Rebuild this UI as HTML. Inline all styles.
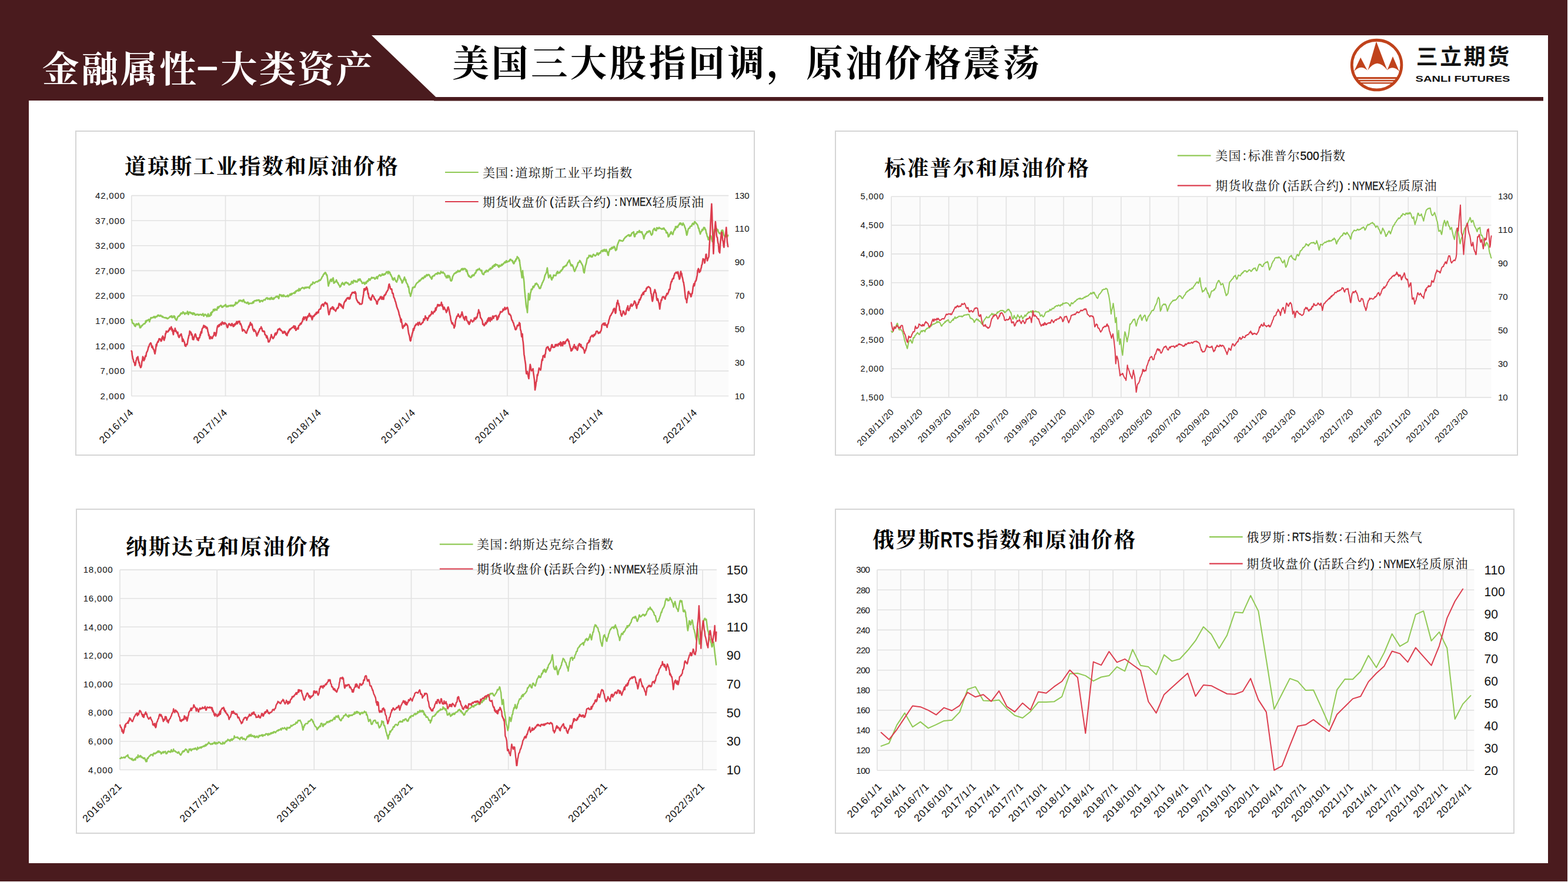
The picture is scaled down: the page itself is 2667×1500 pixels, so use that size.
<!DOCTYPE html>
<html lang="zh"><head><meta charset="utf-8"><title>金融属性-大类资产</title>
<style>
html,body{margin:0;padding:0}
body{width:2667px;height:1500px;overflow:hidden;background:#fff;font-family:"Liberation Sans",sans-serif;position:relative}
.bg{position:absolute;left:0;top:0;width:2666px;height:1498.7px;background:#4a1b1e}
.content{position:absolute;left:49px;top:171.4px;width:2584px;height:1296.6px;background:#fff}
.box{position:absolute;box-sizing:border-box;border:2px solid #d5d5d5;background:#fff}
.t{position:absolute;color:transparent;white-space:nowrap;margin:0;font-weight:normal;line-height:1}
svg.ov{position:absolute;left:0;top:0}
</style></head><body>
<div class="bg"></div>
<div class="content"></div>
<div class="box" style="left:128.3px;top:221.7px;width:1156.2px;height:553.4px"></div>
<div class="box" style="left:1420px;top:221.7px;width:1161.5px;height:553.4px"></div>
<div class="box" style="left:128.8px;top:865.1px;width:1155.7px;height:553.1px"></div>
<div class="box" style="left:1420px;top:865.1px;width:1156px;height:553.3px"></div>
<svg class="ov" width="2667" height="1500" viewBox="0 0 2667 1500">
<path d="M632 60H2633V171.5H2625V165H741.3Z" fill="#fff"/><rect x="738" y="171" width="1887" height="0.55" fill="#4a1b1e"/>
<text y="140" x="71.75 138.35 204.95 271.55" font-size="62.5" font-weight="bold" font-family="Liberation Serif, Noto Serif CJK SC, serif" fill="#fff">金融属性</text>
<rect x="336.5" y="113.5" width="32.5" height="6" rx="1.5" fill="#fff"/>
<text y="140" x="375.25 440.65 506.05 571.45" font-size="62.5" font-weight="bold" font-family="Liberation Serif, Noto Serif CJK SC, serif" fill="#fff">大类资产</text>
<text y="130" x="769.15 836.05 902.95 969.85 1036.75 1103.65 1170.55 1237.45 1304.35 1371.25 1438.15 1505.05 1571.95 1638.85 1705.75" font-size="62.5" font-weight="bold" font-family="Liberation Serif, Noto Serif CJK SC, serif" fill="#000">美国三大股指回调，原油价格震荡</text>
<circle cx="2341.60" cy="110.55" r="42.3" fill="none" stroke="#c0421b" stroke-width="4.8"/>
<path fill="#c0421b" d="M2326.6 119.5 L2340.9 70.4 L2359.6 119.5 Q2351.4 108.3 2342.6 107.8 Q2334.2 108.3 2326.6 119.5Z"/>
<path fill="#c0421b" d="M2303.0 121.6 L2314.2 97.8 L2325.7 119.8 Q2320.4 114.5 2314.8 114.7 Q2308.6 115.2 2303.0 121.6Z"/>
<path fill="#c0421b" d="M2359.4 119.5 L2369.0 95.9 L2380.3 121.9 Q2374.9 115.6 2368.7 115.3 Q2363.8 115.2 2359.4 119.5Z"/>
<clipPath id="lc"><circle cx="2341.60" cy="110.55" r="42"/></clipPath>
<g clip-path="url(#lc)" fill="#c0421b"><rect x="2296" y="131.1" width="92" height="3.2"/><rect x="2296" y="135.9" width="92" height="2.5"/><rect x="2296" y="140.1" width="92" height="2.3"/></g>
<text y="109.6" x="2408.7 2449.2 2489.7 2530.2" font-size="37" font-weight="bold" font-family="Liberation Sans, Noto Sans CJK SC, sans-serif" fill="#111">三立期货</text>
<text x="2407.5" y="139.2" font-size="14.6" font-weight="bold" font-family="Liberation Sans, sans-serif" fill="#111" textLength="161" lengthAdjust="spacingAndGlyphs">SANLI FUTURES</text>
<rect x="223.7" y="332.6" width="1015.6" height="340.9" fill="#fbfbfb"/><path d="M223.7 332.6H1239.3M223.7 375.2H1239.3M223.7 417.8H1239.3M223.7 460.4H1239.3M223.7 503.0H1239.3M223.7 545.7H1239.3M223.7 588.3H1239.3M223.7 630.9H1239.3M223.7 673.5H1239.3M223.7 332.6V673.5M383.5 332.6V673.5M543.3 332.6V673.5M703.1 332.6V673.5M862.9 332.6V673.5M1022.7 332.6V673.5M1182.5 332.6V673.5" stroke="#e2e2e2" stroke-width="1.6" fill="none"/><g font-family="Liberation Sans, sans-serif" fill="#111"><text x="212.0" y="337.9" font-size="15.0" text-anchor="end" textLength="50.0" lengthAdjust="spacing">42,000</text><text x="212.0" y="380.5" font-size="15.0" text-anchor="end" textLength="50.0" lengthAdjust="spacing">37,000</text><text x="212.0" y="423.1" font-size="15.0" text-anchor="end" textLength="50.0" lengthAdjust="spacing">32,000</text><text x="212.0" y="465.7" font-size="15.0" text-anchor="end" textLength="50.0" lengthAdjust="spacing">27,000</text><text x="212.0" y="508.3" font-size="15.0" text-anchor="end" textLength="50.0" lengthAdjust="spacing">22,000</text><text x="212.0" y="550.9" font-size="15.0" text-anchor="end" textLength="50.0" lengthAdjust="spacing">17,000</text><text x="212.0" y="593.5" font-size="15.0" text-anchor="end" textLength="50.0" lengthAdjust="spacing">12,000</text><text x="212.0" y="636.1" font-size="15.0" text-anchor="end" textLength="41.6" lengthAdjust="spacing">7,000</text><text x="212.0" y="678.7" font-size="15.0" text-anchor="end" textLength="41.6" lengthAdjust="spacing">2,000</text><text x="1249.7" y="337.6" font-size="15.0" textLength="25.0" lengthAdjust="spacing">130</text><text x="1249.7" y="394.4" font-size="15.0" textLength="25.0" lengthAdjust="spacing">110</text><text x="1249.7" y="451.2" font-size="15.0" textLength="16.7" lengthAdjust="spacing">90</text><text x="1249.7" y="508.0" font-size="15.0" textLength="16.7" lengthAdjust="spacing">70</text><text x="1249.7" y="564.8" font-size="15.0" textLength="16.7" lengthAdjust="spacing">50</text><text x="1249.7" y="621.7" font-size="15.0" textLength="16.7" lengthAdjust="spacing">30</text><text x="1249.7" y="678.5" font-size="15.0" textLength="16.7" lengthAdjust="spacing">10</text><text transform="translate(227.7 703.0) rotate(-45)" font-size="17.0" text-anchor="end" textLength="73.6">2016/1/4</text><text transform="translate(387.5 703.0) rotate(-45)" font-size="17.0" text-anchor="end" textLength="73.6">2017/1/4</text><text transform="translate(547.3 703.0) rotate(-45)" font-size="17.0" text-anchor="end" textLength="73.6">2018/1/4</text><text transform="translate(707.1 703.0) rotate(-45)" font-size="17.0" text-anchor="end" textLength="73.6">2019/1/4</text><text transform="translate(866.9 703.0) rotate(-45)" font-size="17.0" text-anchor="end" textLength="73.6">2020/1/4</text><text transform="translate(1026.7 703.0) rotate(-45)" font-size="17.0" text-anchor="end" textLength="73.6">2021/1/4</text><text transform="translate(1186.5 703.0) rotate(-45)" font-size="17.0" text-anchor="end" textLength="73.6">2022/1/4</text></g><path d="M223.6 543.8L224.2 543.9L224.8 547L225.4 549.4L226 549.8L226.8 550.5L227.5 550L228.2 552.3L228.9 554.1L229.7 554.6L230.4 555.1L231.1 551.9L231.8 550.6L232.6 552.1L233.3 551L233.9 551.3L234.5 552.5L235.1 551.5L235.7 549.8L236.4 551.4L237.1 552.4L237.9 557.4L238.6 555.8L239.3 557.1L240 555.6L240.7 553.8L241.4 554.3L242.1 553.7L242.8 552.4L243.5 551.8L244.2 551L244.9 550.6L245.6 550.5L246.3 550.7L247.1 549.2L247.8 545.8L248.5 547.9L249.2 545.2L250 545.7L250.7 544.5L251.4 545L252.1 544.3L252.9 543.2L253.6 543.6L254.3 547.2L255 543.4L255.7 543.3L256.5 540.3L257.2 540.6L257.9 541L258.6 540.1L259.4 540L260.2 540.3L260.9 539.9L261.7 538.3L262.4 539.9L263.2 538.4L263.9 540.5L264.7 538.9L265.4 538.4L266.1 538.8L266.8 537.8L267.4 538.4L268.1 536.2L268.8 537L269.5 535.8L270.3 536.1L271 537.7L271.8 537.6L272.5 537.2L273.3 536.1L274 537.9L274.8 538L275.6 537.7L276.3 539.4L277 538.4L277.7 539.5L278.5 540L279.2 540.1L279.9 540.3L280.6 540.5L281.4 540.1L282.1 540.2L282.8 541.4L283.5 540.5L284.3 541.1L285 542.1L285.7 541.5L286.4 541.2L287.1 540.5L287.9 539.9L288.6 538.8L289.3 538.7L290 537.7L290.8 539.2L291.5 537.9L292.2 537.1L292.9 540.2L293.7 538.8L294.4 539.4L295.1 539.3L295.8 537.2L296.6 539.8L297.3 538.2L298 542.2L298.7 542.2L299.5 543.9L300.2 544.5L301 543.1L301.8 540L302.5 539.1L303.3 537.7L304 537.2L304.7 537.6L305.4 536.7L306.1 535L306.8 535.5L307.5 532.8L308.2 532.4L308.9 532.9L309.7 533.7L310.5 532.5L311.2 530.4L312 531L312.8 532.7L313.5 533.4L314.3 534.6L315.1 532.2L315.8 532.8L316.6 532.9L317.3 533.2L318.1 532.5L318.8 529.5L319.5 532.5L320.2 535L321 533.6L321.7 530.8L322.4 530.8L323.1 531.2L323.9 531L324.6 533L325.3 532.6L326 532.1L326.8 534L327.5 532.5L328.2 534.8L328.9 532.3L329.7 532.4L330.4 533.6L331.1 533.4L331.7 535.7L332.3 535.8L332.9 535.7L333.5 535.8L334.3 534.5L335 534.5L335.7 534.5L336.4 534.5L337.1 535.9L337.9 534.9L338.6 536L339.3 535.3L340 534.7L340.8 534.8L341.5 534.9L342.3 535.4L343 536.1L343.7 534.8L344.5 534.8L345.2 533.4L346 537.1L346.7 537.6L347.5 535.7L348.2 535.1L348.9 534.5L349.7 535.7L350.4 535.8L351.2 536.2L351.9 538.5L352.6 537.3L353.3 535.8L354.1 533.6L354.8 538.2L355.5 537.7L356.2 536.3L357 537.7L357.7 535.8L358.5 532L359.3 535.7L360.1 530.5L360.8 531.4L361.5 530.7L362.3 529.4L363 526.3L363.7 528L364.4 526.2L365.2 528.3L365.9 525.5L366.6 526.3L367.3 526.9L368.1 526.9L368.9 527.5L369.6 523.8L370.4 521.9L371.1 524.1L371.9 523.7L372.6 521.4L373.4 521.3L374.1 520.6L374.9 520.2L375.6 519.4L376.4 519.8L377.2 522.3L377.9 521.9L378.7 522.7L379.4 520.8L380.1 521L380.9 520.7L381.6 519.5L382.3 520.2L383 518.8L383.8 517.9L384.5 520.8L385.2 521.9L385.9 521.2L386.7 520.3L387.4 521.7L388.2 521.1L388.9 519.8L389.7 520.5L390.4 520.2L391.2 519.4L392 519.2L392.7 520.8L393.5 519L394.2 519.8L395 520L395.7 519L396.5 521L397.2 519.5L398 519.2L398.7 518.4L399.5 518.8L400.2 516.7L400.9 514.2L401.6 516.4L402.4 514.6L403.1 516.3L403.8 514.9L404.5 514.7L405.3 513.7L406 512.4L406.7 510.6L407.4 512.4L408.1 511.1L408.8 510.6L409.4 510.8L410.1 511.9L410.8 511.2L411.5 512.3L412.3 513.1L413 510.6L413.7 511.5L414.4 509.7L415.2 512.6L415.9 514.3L416.6 513.4L417.3 514.5L418.1 514.8L418.8 515L419.6 515.9L420.4 514.4L421.2 514L421.9 514L422.7 517.3L423.5 517.2L424.3 515.7L425.1 515.9L425.8 515.8L426.6 516L427.4 515.7L428.2 515.7L428.9 516L429.7 513.8L430.4 513.1L431.1 515.2L431.8 513.3L432.6 511.6L433.3 511.7L434 511.3L434.7 511.4L435.5 511.7L436.2 510.4L436.9 511.2L437.6 511.3L438.4 510.2L439.1 510.1L439.8 510.7L440.4 510.1L441 510.4L441.6 513.5L442.2 513.6L442.9 511.6L443.7 512.1L444.4 511.6L445.1 511.1L445.8 511.7L446.6 512.8L447.3 511.4L448 510.6L448.7 509.9L449.5 510L450.2 509.5L450.9 510.3L451.6 509L452.4 507.5L453.1 506.8L453.8 506.7L454.5 506.3L455.3 508.8L456 508.1L456.7 507.5L457.4 507.5L458.2 509.1L458.9 507.3L459.6 508.7L460.3 509.1L461.1 506.2L461.8 505.9L462.5 506.8L463.2 508.7L464 508.3L464.7 509L465.4 506.7L466.1 508.3L466.9 506.7L467.6 506.1L468.3 505.6L469 505.5L469.8 503.8L470.5 504.4L471.2 505.1L472 503.5L472.7 504.5L473.5 506.6L474.2 507.7L475 503.5L475.7 500.9L476.5 501.8L477.2 502L478 501.5L478.8 504.1L479.6 503.7L480.3 502.2L481.1 504.1L481.9 504.2L482.6 501.7L483.4 502.8L484.2 503.6L484.9 504.1L485.7 504.4L486.5 504.3L487.2 503.6L488 503.9L488.7 502.8L489.5 502.1L490.2 504.6L491 503.4L491.7 502.7L492.5 502.7L493.2 500.2L494 500.8L494.8 501.8L495.5 499L496.3 500.9L497 499.4L497.8 499.1L498.5 498.9L499.2 498.2L500 498L500.7 498.9L501.4 496.7L502.1 498.4L502.9 495.5L503.6 494.6L504.3 495.5L505 494.7L505.7 493.6L506.5 493.4L507.2 494.4L507.9 494.8L508.6 490.7L509.4 492.5L510.1 494.1L510.8 493L511.5 491.1L512.3 490.6L513 490.1L513.7 490L514.4 488.8L515.2 489.5L515.9 489.6L516.6 489.6L517.3 491.1L518.1 489.7L518.8 488.5L519.5 489.4L520.3 490L521 488.4L521.8 488.6L522.5 489.1L523.3 488.9L524 488.2L524.8 489L525.6 489.4L526.3 490.3L527 486.8L527.7 485.6L528.5 485.7L529.2 483.4L529.9 483.7L530.6 483.6L531.4 483.5L532.1 479.7L532.8 480L533.5 481.1L534.3 481.4L535 481.9L535.7 480.7L536.4 479.8L537.2 479.4L537.9 479.3L538.7 478.8L539.4 479.1L540.2 479.4L541 478.1L541.7 477.4L542.5 477.8L543.2 476L544 476.9L544.7 476.8L545.5 475.6L546.2 474.4L547 473.2L547.7 471.2L548.5 470.1L549.2 469.7L549.9 467.1L550.6 466.7L551.3 465.2L552 465.9L552.6 463.9L553.3 463.3L554.1 464.2L554.8 466L555.5 468.2L556.2 467.7L556.8 471.8L557.4 475.7L558 482.5L558.6 486.5L559.4 482.8L560.2 481.7L561 478.2L561.8 476.1L562.4 476.5L563 474.9L563.6 478.3L564.2 478.6L564.8 476.6L565.4 474.3L566 476.1L566.6 472.5L567.2 475.8L567.8 481.6L568.4 480.1L569 481L569.8 479.6L570.6 478.7L571.3 479.1L572.1 476.1L572.8 477.9L573.5 479.7L574.3 481.3L575 481.1L575.7 483.4L576.3 484.6L576.9 485.1L577.5 485.5L578.1 488.2L578.8 487.6L579.6 486.8L580.3 484.9L581 482.5L581.7 482.2L582.5 480.5L583.2 483.2L583.9 483.5L584.6 482.4L585.4 484.6L586.1 483.2L586.8 480.6L587.5 481.3L588.3 480.8L589 479.8L589.7 480.8L590.4 481.5L591.1 482.1L591.7 481.1L592.4 482.5L593.1 483.4L593.8 484.6L594.5 483.5L595.3 483.4L596 483.3L596.7 483.5L597.4 481L598.1 478.6L598.8 479.9L599.5 479.1L600.2 481.8L600.9 480L601.6 476.7L602.3 477.3L603 477.8L603.7 477.5L604.3 479.5L605 477.6L605.7 478.7L606.4 479.3L607.1 479.8L607.8 478.9L608.5 477.5L609.2 475L609.9 476.8L610.6 477.1L611.2 475.3L611.9 474.4L612.6 474.6L613.3 476.5L614 478.3L614.7 478.5L615.4 479.6L616.1 481.9L616.8 481.7L617.5 481.2L618.2 481.4L618.9 480.1L619.7 481.9L620.4 483.4L621.1 481.7L621.8 480.3L622.5 479.6L623.1 482L623.8 479.2L624.5 478.1L625.2 477.3L625.9 478.9L626.6 477.1L627.3 474.2L628 476.1L628.7 474.6L629.4 476.5L630 474.9L630.7 473.8L631.4 473.4L632.1 471.6L632.8 473.2L633.5 472L634.2 472.6L634.9 472.5L635.6 472.3L636.3 472.1L637.1 474.3L637.8 474.6L638.5 473.7L639.2 473.4L639.9 471.7L640.6 470.6L641.3 471.7L642 473.9L642.6 470.6L643.3 470.1L644 469.2L644.7 468.6L645.4 467.6L646.1 467.4L646.8 468.2L647.5 469.6L648.2 468.2L648.9 468.3L649.5 467.5L650.2 465.8L650.9 467.7L651.6 467.8L652.3 466.7L653 467.7L653.7 465.8L654.4 465.8L655.1 466.6L655.8 465.7L656.4 464.3L657.1 462.9L657.8 462.4L658.5 462.7L659.2 462.6L659.9 465.4L660.6 461.7L661.3 462.1L662 463.8L662.7 462.9L663.3 464L663.9 467.1L664.5 466.7L665.1 467.7L665.7 469.7L666.3 470.9L666.9 471.5L667.5 474.9L668.2 473.2L668.9 476.5L669.7 474.8L670.4 473.8L671.1 472.5L671.8 475.1L672.6 476.4L673.3 478.4L674 478.3L674.7 479.8L675.5 477.2L676.2 476.3L676.9 472.6L677.6 469.1L678.4 468.2L679.1 469.3L679.8 470.5L680.5 473.6L681.3 473.9L682 476.1L682.6 476L683.2 477.8L683.8 481.3L684.4 481L685.1 479.3L685.8 477.4L686.6 475.2L687.3 473.5L688 471.3L688.7 474.2L689.5 477.2L690.2 475.4L690.9 480.1L691.6 481L692.4 482.7L693.2 483.6L694 488.1L694.8 487L695.5 490.7L696.1 496.3L696.8 498.9L697.5 499.8L698.2 503.9L698.9 501.3L699.7 498.9L700.5 494.9L701.3 491.8L702 488.8L702.8 489.4L703.5 489.2L704.2 487.8L704.9 488.2L705.6 488.5L706.3 486.2L707 484.6L707.7 483.6L708.4 482L709.1 481.2L709.8 481L710.4 480.4L711.1 480.3L711.8 478.8L712.5 478.7L713.2 476.7L713.9 478.1L714.6 477.3L715.3 476.1L716 476L716.7 474.1L717.3 473.7L718 474L718.7 472.2L719.4 472.5L720.1 473.9L720.8 471.9L721.5 471L722.2 469.5L722.9 471.6L723.6 470.8L724.3 468.9L724.9 469.3L725.6 467.1L726.3 467.4L727 468.8L727.7 467.5L728.4 466.8L729.1 467.7L729.8 467.2L730.5 468.3L731.3 470.3L732 470.9L732.7 472.5L733.4 471.9L734.1 474.7L734.8 473.9L735.5 469.7L736.2 470.2L736.8 469.5L737.5 468.9L738.2 468.3L738.9 469L739.6 467.2L740.3 466.4L741 465.8L741.7 465.6L742.4 465.3L743.1 466.3L743.7 466.3L744.4 463.6L745.1 464.1L745.8 463.8L746.5 465.4L747.2 464.8L747.9 464.9L748.6 465.5L749.3 464.3L750 461.5L750.6 463.8L751.3 463.7L752 463.3L752.8 464.3L753.5 462.6L754.2 464.3L754.9 464.2L755.7 465.3L756.4 465.9L757.1 468.4L757.8 470.1L758.6 470.3L759.3 472.5L760 470.6L760.7 468.5L761.3 470L762 472.3L762.7 470.9L763.4 468.5L764.1 470.1L764.8 470.3L765.6 473.4L766.3 476.9L767 477.8L767.7 477.8L768.5 476.5L769.2 474.2L769.9 470.5L770.6 469.1L771.4 467.7L772 466.5L772.7 465.2L773.4 465.3L774.1 464.1L774.8 464.2L775.5 464.4L776.2 462.4L776.9 463.2L777.6 462.9L778.3 461.9L778.9 460L779.6 461.4L780.3 462.1L781 461.6L781.7 460.3L782.4 461.7L783.1 459.7L783.8 459.7L784.5 458.4L785.2 457L785.8 457.5L786.6 459L787.4 456.7L788.1 458.5L788.9 457L789.6 457.8L790.4 456.7L791.1 457.1L791.9 457.5L792.5 459.1L793.1 461.7L793.7 459.2L794.3 460.4L794.9 462.5L795.5 465.9L796.1 466.3L796.7 468.9L797.4 470L798.2 469L798.9 470.9L799.6 471.4L800.3 471.3L801.1 472.1L801.8 471.1L802.5 468.5L803.2 469.8L804 468.9L804.7 467.2L805.4 468.1L806.1 468.8L806.9 466.9L807.6 465.3L808.3 463.9L809 464.5L809.7 462.7L810.3 459.6L811 459.4L811.7 460.2L812.4 458L813.1 458.2L813.8 458.5L814.5 458.1L815.2 456.5L815.9 457.9L816.6 459.2L817.2 459.2L817.9 460.5L818.6 461.2L819.3 459.6L820 464.4L820.7 465.4L821.4 466.5L822.1 466.5L822.8 467L823.5 464.4L824.3 462.8L825 462.8L825.7 461.6L826.4 462.9L827.1 459.8L827.8 460.5L828.5 459.9L829.2 461.2L829.8 461.9L830.5 460.4L831.2 459.9L831.9 458L832.6 458.6L833.3 457.9L834 456L834.7 457.8L835.4 456.8L836.1 455.8L836.7 456.1L837.4 453.2L838.1 455.2L838.8 451.9L839.5 453.4L840.2 452L840.9 450.3L841.6 452.7L842.3 451L843 449L843.6 450.1L844.3 450.7L845 450.3L845.7 450.2L846.5 451.1L847.2 452.9L847.9 453.4L848.6 454.4L849.3 451.1L850 451.8L850.7 452.6L851.4 452.1L852.1 452.2L852.8 449.8L853.5 449.6L854.2 451.2L854.9 450L855.5 448.7L856.2 449L856.9 448.3L857.6 446.8L858.3 445.9L859 445.4L859.7 446.9L860.4 446.5L861.1 443.4L861.8 443.9L862.4 445.7L863.1 445.5L863.8 445L864.5 444.6L865.2 444.5L865.9 443.3L866.6 444.2L867.3 441.5L868 441.1L868.7 441L869.4 442.2L870.1 443.3L870.9 443.6L871.6 443L872.2 446.2L872.8 445.5L873.4 448.3L874 448.4L874.7 447.5L875.5 444.1L876.2 443.3L876.9 444.2L877.6 440.6L878.4 441.4L879.1 439.6L879.8 436.4L880.5 437.9L881.3 438.7L881.9 438.6L882.5 440.4L883.1 443.9L883.7 442.3L884.3 448.5L884.9 452.7L885.5 455.9L886.1 461.6L886.7 463.6L887.2 468.3L887.8 472.5L888.4 465.7L889 460.4L889.6 468.4L890.2 470.3L890.8 474.3L891.4 479.8L892.1 490.7L892.9 499.1L893.4 505.1L894 508.9L894.5 516L895.1 521.1L895.7 523.7L896.4 526.3L897 531.7L897.6 520.9L898.2 510.6L898.9 499.1L899.5 502.4L900 507.1L900.6 510L901.2 507.7L901.8 502.4L902.4 497.6L903 496.7L903.7 491.9L904.4 491.9L905.2 492.3L905.9 490.2L906.6 487L907.3 488.2L908 488.8L908.6 486.1L909.3 486.2L910 484.6L910.6 482.4L911.3 483.7L911.9 482.9L912.6 481.7L913.3 483L914.1 483.8L914.9 484.4L915.7 487L916.5 487.8L917.3 490.5L918.1 489.6L918.8 490.6L919.6 489.4L920.3 486.3L921 485.3L921.7 483.4L922.5 480.7L923.2 480.2L923.9 478.1L924.6 476.9L925.4 474.9L926.1 471.9L926.9 468.4L927.7 467L928.5 465.3L929.1 463.9L929.7 462.7L930.3 458L930.9 455.6L931.5 460.7L932.1 465.3L932.7 468.9L933.3 472.5L934.1 469.7L934.8 470.1L935.5 467.8L936.2 467.7L936.8 470.9L937.4 473.2L938 474.9L938.6 476.1L939.4 472.1L940.1 472.9L940.8 472L941.5 468.2L942.3 467.7L943.1 468.8L943.8 468.6L944.6 468.4L945.4 468.9L946.1 466.3L946.9 463.7L947.6 462.7L948.3 461.6L949 465.1L949.8 463.6L950.5 463.6L951.2 463L951.9 464.1L952.7 462.4L953.4 461.2L954.1 459.9L954.8 460.9L955.6 459.2L956.3 457.9L957 457.9L957.7 454.4L958.5 455.1L959.2 453.2L959.9 453.1L960.6 453.6L961.4 452.5L962.1 451.3L962.8 452L963.5 451.8L964.3 449.3L965 448.1L965.7 446.2L966.4 445.9L967.1 444.8L967.7 443.1L968.4 442.3L969.1 445L969.8 447.7L970.5 448.9L971.3 452L971.9 450L972.5 451.5L973.1 452.1L973.7 450.8L974.4 453.8L975.1 453.9L975.8 457.8L976.6 459.9L977.3 461.6L978 460.3L978.7 458.9L979.5 456.3L980.2 455L980.9 453.2L981.6 452.7L982.4 449.9L983.1 446.9L983.8 447L984.5 445.9L985.3 445.8L986 443L986.7 443.9L987.4 444.7L988.2 446.7L989 447.7L989.8 449.3L990.6 450.8L991.4 452.7L992.1 458.3L992.9 462.8L993.7 464.1L994.3 460.9L994.9 456.5L995.5 452.7L996.1 450.8L996.9 448.4L997.6 445L998.3 440.9L999 438.7L999.8 439L1000.5 438.5L1001.2 437.5L1001.9 434.2L1002.7 435.1L1003.4 434.9L1004.1 436.2L1004.8 434.4L1005.6 436.7L1006.3 436.3L1007 437.1L1007.7 436.5L1008.5 433.5L1009.2 432.6L1009.9 432.7L1010.6 433.7L1011.4 434.6L1012.1 435.2L1012.8 435.1L1013.5 433.9L1014.3 433.6L1015 432.4L1015.7 430L1016.4 432.3L1017.1 431.4L1017.9 433.6L1018.6 431L1019.3 430.1L1020 431L1020.8 430.2L1021.5 430L1022.2 427.2L1022.9 426.8L1023.7 426.1L1024.4 426.6L1025.1 427.9L1025.8 425.2L1026.6 426.2L1027.3 426.8L1028 424.2L1028.7 426.7L1029.5 427.1L1030.2 427.5L1030.9 424.3L1031.6 425.4L1032.2 427L1032.9 428.6L1033.5 431.3L1034.1 433.9L1034.8 434.2L1035.5 428L1036.2 427.8L1037 424L1037.7 423L1038.4 423.6L1039.1 424L1039.9 421.3L1040.6 423.1L1041.3 420.6L1042 420.8L1042.8 421.9L1043.5 420.6L1044.2 419.2L1044.9 419.4L1045.5 420.6L1046.1 422.5L1046.7 425.1L1047.3 426.1L1048.1 424.1L1048.8 424.6L1049.5 419.5L1050.2 416.5L1051 414.5L1051.7 412.5L1052.4 410.9L1053.1 408.9L1053.9 408.4L1054.6 408.5L1055.3 409.4L1056 409.2L1056.8 409.1L1057.5 409.8L1058.2 409.7L1058.9 410.1L1059.7 409.3L1060.4 408.7L1061.1 406.4L1061.8 406.1L1062.6 405L1063.3 403.6L1064 403.6L1064.7 402.3L1065.5 402.5L1066.2 401.3L1066.9 400.9L1067.6 400.4L1068.4 399.8L1069.1 399.6L1069.8 399.3L1070.5 401.8L1071.3 400.4L1072 399.9L1072.7 401.3L1073.4 400L1074.2 397.5L1074.9 396L1075.6 396.3L1076.3 395.2L1077.1 395.2L1077.8 394.2L1078.5 400.2L1079.2 402.5L1080 402.3L1080.8 398.1L1081.6 397.5L1082.4 397.6L1083.1 397.5L1083.8 394.2L1084.5 394.6L1085.3 394.2L1086 395.2L1086.7 394.5L1087.4 392.1L1088.2 395.1L1088.9 394.2L1089.6 394L1090.3 395.3L1091.1 395.6L1091.8 394.2L1092.5 397.3L1093.2 398.8L1093.9 399.5L1094.5 403.3L1095.2 406.1L1095.9 403L1096.6 401.2L1097.3 399.4L1098.1 397.6L1098.8 397.6L1099.5 397.3L1100.2 394.4L1101 394.6L1101.7 394L1102.4 395.2L1103.1 394.5L1103.9 392.6L1104.6 392.8L1105.3 392.8L1106 394.2L1106.8 397.5L1107.5 398.5L1108.2 400L1109 398.1L1109.8 398.2L1110.6 391.8L1111.4 390.4L1112.1 389.4L1112.8 388.4L1113.5 388.6L1114.3 391.8L1115 391.6L1115.7 391.3L1116.4 392.3L1117.1 387.4L1117.9 387.5L1118.6 388L1119.2 389L1119.8 389L1120.4 388.3L1121 386.8L1121.7 388.3L1122.5 388L1123.2 388.3L1123.9 388.7L1124.6 389.2L1125.4 389.8L1126.1 388.7L1126.8 388.9L1127.5 389.7L1128.3 388L1129 387.9L1129.7 388.3L1130.4 390.6L1131.2 390.7L1131.9 391.6L1132.6 392.4L1133.3 396.1L1134.1 395.5L1134.8 395.2L1135.5 396.4L1136.1 399L1136.7 402.7L1137.3 400L1137.9 402L1138.6 399.6L1139.4 398.7L1140.1 396.4L1140.8 397.6L1141.5 394L1142.3 396.2L1143 396.2L1143.7 398.1L1144.4 398.8L1145.2 395.7L1146 393L1146.8 391.5L1147.6 389.2L1148.3 390.7L1149 385.3L1149.8 386.8L1150.5 387.3L1151.2 385.1L1151.9 385.5L1152.7 386.5L1153.4 384.3L1154.1 382.9L1154.8 381.9L1155.4 381.3L1156 379.6L1156.6 381.7L1157.2 379.5L1158 379.4L1158.8 380.9L1159.6 381.6L1160.4 383.1L1161.1 381.9L1161.8 379.4L1162.6 381.3L1163.3 381.9L1163.9 383.4L1164.5 385.1L1165.1 387.4L1165.7 388L1166.3 391L1166.9 393.2L1167.5 397.2L1168.1 400L1168.8 398.3L1169.6 394.2L1170.3 390.7L1171 389L1171.7 388L1172.5 388L1173.2 388L1173.9 385L1174.6 385.1L1175.4 384.3L1176 384.4L1176.6 384.5L1177.2 381.2L1177.8 380.7L1178.5 379.7L1179.2 381L1180 381.9L1180.7 379.9L1181.4 377.1L1182.1 377.1L1182.9 378.9L1183.6 379L1184.3 379.9L1185 380.7L1185.7 381.5L1186.5 382.8L1187.2 384.9L1187.9 388.3L1188.6 388L1189.3 391.7L1189.9 393.9L1190.5 395.7L1191.1 398.1L1191.8 395.4L1192.6 393.8L1193.4 393.6L1194.2 390.4L1194.9 390.6L1195.7 391.4L1196.4 388.4L1197.1 386.8L1197.8 388.1L1198.6 387.2L1199.3 390.5L1200 389.9L1200.7 392.8L1201.3 396.5L1201.9 397.1L1202.5 400L1203.1 402.5L1203.7 402.6L1204.3 405.1L1204.8 407.8L1205.6 404.7L1206.4 405.1L1207.2 402.5L1208 400L1208.7 401.1L1209.4 401.7L1210.1 405.9L1210.9 408.2L1211.6 410.9L1212.3 405.6L1213 403.1L1213.8 398.5L1214.5 394.6L1215.2 390.4L1215.9 389.6L1216.7 389L1217.4 388.9L1218.1 387.7L1218.8 389.2L1219.6 390.7L1220.3 392.2L1221 390.7L1221.7 393.8L1222.5 395.2L1223.2 396.6L1223.9 396.3L1224.6 397.7L1225.4 396.2L1226.1 396.4L1226.7 395.2L1227.3 392.3L1227.9 391.5L1228.5 391.6L1229.2 391.5L1230 394.1L1230.7 397.9L1231.4 400L1232.2 401.2L1233 402.9L1233.8 402.3L1234.5 402.5L1235.3 401.1L1236 401.8L1236.7 400.9L1237.4 402.3L1238.2 400" fill="none" stroke="#90c955" stroke-width="2.6" stroke-linejoin="round" stroke-linecap="round"/><path d="M223.6 596.9L224.2 597.9L224.8 603.4L225.4 606.4L226 610.2L226.7 611.3L227.4 615.3L228.1 616.1L228.8 617L229.5 621.6L230.1 621.1L230.8 618L231.4 613.1L232.1 612.6L232.7 608.5L233.3 608L233.9 608.9L234.5 606.6L235.1 610.5L235.7 613.9L236.3 617.2L236.9 616.2L237.6 621.8L238.4 622.5L239.1 625.1L239.8 624.7L240.6 621.8L241.4 615L242.2 612.4L242.9 606.6L243.6 608.2L244.2 608.8L244.8 613.5L245.4 611.4L246.1 611L246.8 606.7L247.5 604.8L248.3 606.2L249 600.5L249.7 598.8L250.4 597.8L251.2 595.6L251.9 592.9L252.6 589.7L253.3 589.5L254.1 586.5L254.8 584.9L255.5 584.2L256.2 583.1L257 584.2L257.7 587.7L258.4 591.1L259.1 588.6L259.9 590.9L260.6 593.8L261.3 593.7L262 595.9L262.8 599.1L263.5 601.7L264.2 598.3L264.9 593.8L265.7 585.9L266.4 588.6L267.1 583.6L267.8 582.5L268.5 580.6L269.2 581.7L269.9 578.7L270.6 576L271.2 577.7L271.9 576.4L272.5 578.1L273.1 576.9L273.7 580.3L274.3 580L275 578.8L275.6 573.9L276.2 576.3L276.8 571.5L277.4 574.4L278 573.3L278.6 577.5L279.2 578.8L279.9 576L280.6 574.5L281.4 567.3L282.1 567.5L282.8 563.1L283.5 564.6L284.3 564.5L285 564L285.7 564.4L286.4 561.9L287.1 562.4L287.8 560.8L288.5 558L289.2 560.4L289.9 559.7L290.6 557.5L291.3 555.8L292 559L292.7 562.7L293.4 559.5L294.2 566.3L294.9 569.1L295.6 562.4L296.3 563.3L297.1 562.7L297.8 558.3L298.6 563.6L299.3 561.9L300.1 564.5L300.9 565.5L301.6 567.3L302.4 564.8L303.1 571.2L303.8 572.4L304.5 574L305.3 573L306 569.9L306.7 570L307.4 569.3L308.2 567.9L308.9 571.5L309.5 572.8L310.2 580.6L310.9 576.2L311.6 577.2L312.3 579.3L313 581.2L313.8 581.9L314.6 587.8L315.4 588.6L316.1 588.9L316.9 585.6L317.6 585.6L318.3 586L319 582.4L319.8 576.9L320.5 574.6L321.2 570.5L321.9 570.4L322.7 563.1L323.4 565.4L324.1 564.7L324.8 565L325.6 569.7L326.3 567.9L327 570.3L327.7 577.2L328.5 573.5L329.2 577.6L330 574.6L330.7 572.2L331.5 569.2L332.3 567.9L333.1 569.8L333.9 574.1L334.7 574.4L335.5 577.6L336.1 575L336.8 578.3L337.5 579.1L338.2 574.6L338.9 575L339.6 574L340.3 568.6L340.9 570.5L341.6 565L342.3 563.6L343 566.3L343.7 559.5L344.4 558.3L345.1 557.8L345.8 555.8L346.5 553.4L347.2 554L347.8 556.6L348.5 554.6L349.2 555.8L350 555.4L350.7 558.4L351.4 558L352.1 556.9L352.9 559.5L353.6 564L354.3 565.9L355 570.9L355.7 569.5L356.5 575.7L357.2 576.4L357.9 574.8L358.6 572.6L359.3 574.3L359.9 574.7L360.6 575.7L361.3 575.2L362.1 572L362.9 571.5L363.7 570.3L364.4 565.5L365 566.5L365.7 565.8L366.3 569L366.9 571.5L367.6 568.8L368.3 565.6L369 559.6L369.8 555.8L370.4 553.9L371.1 554.2L371.8 555.6L372.5 552.2L373.2 554.5L373.9 552.4L374.6 551L375.3 551.3L376 549.7L376.7 552.8L377.3 550.7L378 547.5L378.7 550.3L379.4 549.3L380.1 549.1L380.8 551.4L381.5 550.4L382.2 548.8L382.8 549.9L383.5 549.8L384.3 550.9L385.1 551.8L385.9 555.1L386.7 557.1L387.3 556.9L387.9 554.6L388.5 552.5L389.1 551L389.8 550.4L390.5 551.9L391.2 551.8L391.8 553.1L392.5 552.1L393.2 553.9L393.9 551L394.6 550.2L395.4 551.8L396.1 553.9L396.8 555.3L397.5 552.3L398.3 554.6L399 551L399.7 551.4L400.4 552.3L401.2 549.3L401.8 550.8L402.5 546.7L403.2 548.4L403.9 550.5L404.6 548.5L405.3 546.5L406 547.4L406.7 546.8L407.4 546.1L408.2 551.3L408.9 550.2L409.6 551L410.3 553.4L411.1 555.3L411.8 559.6L412.5 563.1L413.3 561.3L414.1 560.3L414.9 561.8L415.7 561.9L416.4 562.6L417.1 564.9L417.8 565.6L418.6 566.2L419.3 566.6L420.1 563.3L420.9 561.7L421.7 559.5L422.4 558.3L423.1 554.8L423.9 556.4L424.6 552.3L425.3 551L426 548.4L426.8 552.9L427.5 552.5L428.2 551L429 553.2L429.8 558.2L430.6 561.1L431.4 561.9L432 563.6L432.6 560.3L433.2 562.3L433.8 562.4L434.6 563.1L435.3 565.5L436.1 568.2L436.9 571.5L437.6 568.5L438.3 568.8L438.9 565.2L439.6 565.6L440.3 563.1L441.1 562.1L441.8 559.3L442.6 559L443.4 558.4L444.2 555.8L444.8 558.9L445.5 558.3L446.2 562.9L446.9 562.4L447.6 563.9L448.3 563.1L449 563L449.8 563.8L450.6 569.2L451.4 569.1L452.1 570.1L452.8 572L453.4 574.5L454.1 571.3L454.8 574L455.6 576.2L456.4 581.5L457.1 581.4L457.9 581.2L458.6 579.4L459.4 577.7L460.1 574.3L460.8 572.8L461.5 569.1L462.3 573.3L463 572.7L463.7 575.2L464.4 575.9L465.2 574.7L466 573.6L466.8 571.6L467.6 567.9L468.3 566.5L469 569.4L469.8 569.3L470.5 565.7L471.2 566.7L471.9 564.2L472.7 560.2L473.4 560.4L474.1 559.5L474.9 560.5L475.7 558.6L476.5 559.8L477.2 561.9L478 561.3L478.7 562.2L479.4 563.1L480.1 564L480.9 566.7L481.6 566.7L482.3 565.4L483 563.5L483.8 565.7L484.5 563.8L485.3 564.9L486.1 568.7L486.8 567.1L487.6 570.3L488.3 570.8L489 567.6L489.7 564.9L490.4 566L491.1 562.6L491.7 563.1L492.5 560.2L493.2 561.2L493.9 559.4L494.6 559.7L495.4 558.3L496.1 557.9L496.8 557.5L497.5 556.7L498.3 556.9L499 555.1L499.7 554.2L500.4 557L501.1 558.7L501.8 554.6L502.4 555.3L503.1 561.8L503.8 561.4L504.5 560.1L505.2 559.4L505.9 557.9L506.6 557.4L507.3 559.6L508 554.3L508.6 553.4L509.4 553L510.1 552.6L510.8 550.1L511.5 550L512.3 551L513 548.7L513.7 547.5L514.4 546.7L515.2 541.6L515.9 542.6L516.6 539.1L517.3 543.5L518.1 540.6L518.8 541L519.5 538.9L520.1 539.5L520.7 539.4L521.3 544.9L521.9 542.6L522.7 539.9L523.4 537.6L524.1 538.9L524.8 536.6L525.6 534.8L526.2 533L526.8 536L527.4 538.2L528 537.7L528.7 536.5L529.4 537.7L530.1 541.1L530.9 543.7L531.6 541.4L532.3 537.6L533 537.5L533.8 538.2L534.5 536.2L535.2 536.5L535.9 534.3L536.6 533.7L537.3 534.7L538 531.3L538.7 533.4L539.4 532.6L540 530.5L540.8 531.1L541.5 531.9L542.2 527.3L542.9 526.6L543.7 525.7L544.4 525.7L545.1 525.6L545.8 523.7L546.6 519.6L547.3 518.4L548.1 518.2L548.9 517L549.6 519.1L550.4 520.8L551.2 517.5L551.9 516.2L552.6 515L553.3 514.1L554.1 515.8L554.8 517L555.5 515.8L556.2 516L557 519.1L557.8 525.2L558.6 531.2L559.4 535.3L560 534.5L560.6 531.3L561.2 529.6L561.8 525.7L562.5 524.3L563.2 525.3L564 525.1L564.7 522.6L565.4 522L566.1 521.9L566.9 526L567.6 523.6L568.3 526.7L569 526.9L569.6 527.5L570.3 527.9L570.9 529.3L571.7 527.3L572.4 525.4L573.2 524.6L574 523.2L574.7 524.3L575.5 523.1L576.2 518.2L576.9 516L577.6 517.3L578.4 518.9L579.1 517.1L579.8 520.6L580.5 518.4L581.3 520.6L582.1 522.8L582.9 521.7L583.7 524.4L584.4 519.4L585.1 516.1L585.8 514L586.6 512.4L587.3 512.7L588 510.2L588.7 511.1L589.5 508.2L590.2 507.5L590.9 506.4L591.6 508L592.4 507.6L593.1 506L593.8 508.7L594.5 506.9L595.3 508L596 504.5L596.7 501.3L597.4 501.5L598.2 499.4L598.9 497.5L599.6 498.4L600.3 497.1L601.1 497.9L601.8 497L602.5 497.3L603.2 498.8L604 496.2L604.6 498L605.2 498.3L605.8 507.6L606.4 508.7L607.2 511.4L607.9 511.4L608.7 514.1L609.5 514.8L610.2 514.1L611 514.9L611.7 517.4L612.4 516.5L613.1 517.2L613.9 517.1L614.6 517.5L615.3 516.7L616 516L616.8 509.6L617.6 504.7L618.4 499.9L619.2 491.4L620 494.2L620.7 490.8L621.5 493.2L622.3 492.3L622.9 489.1L623.5 488.2L624.1 491.2L624.7 490.6L625.3 494.9L625.9 500.2L626.5 498.4L627.1 503.9L627.9 506.8L628.6 506.3L629.3 507.6L630 510L630.8 509.2L631.5 510.1L632.2 504.8L632.9 504.4L633.7 501.7L634.5 503L635.3 504.5L636.1 505.1L636.7 508.2L637.3 508.7L637.9 508.5L638.5 510L639.3 511L640.1 512.6L640.9 516.8L641.6 517.2L642.4 512.8L643.1 511.2L643.8 509.2L644.5 508.7L645.3 509.3L646 507.6L646.7 505.1L647.4 506.2L648.2 504.4L648.9 508.4L649.6 508.9L650.3 505.2L651.1 507.3L651.8 508.7L652.5 509L653.2 502.8L654 501.8L654.7 502.7L655.5 500.1L656.3 500.5L657 497L657.8 496.7L658.4 495.5L659 494L659.6 493.6L660.2 491.8L660.8 488.6L661.4 484.2L662.1 483.1L662.7 485.8L663.3 486.8L663.9 490.6L664.5 491.4L665.1 491.8L665.7 491.3L666.3 491.7L666.9 496.2L667.5 499.1L668.1 499.3L668.7 498.9L669.3 503L669.9 506.3L670.7 506.6L671.5 509.4L672.3 512.3L673 513.6L673.6 516.4L674.3 518.9L674.9 521.8L675.5 523.2L676.2 525.4L676.9 526.7L677.6 528.9L678.4 531.7L679 535.6L679.6 535.9L680.2 539.3L680.8 540.1L681.4 544.9L682 547.8L682.6 542.9L683.2 547.4L683.8 550.7L684.5 556.3L685.1 558.3L685.8 557L686.6 555L687.3 553.1L688 554.6L688.6 552.5L689.2 553.1L689.8 549.8L690.4 552.2L691 551.9L691.6 551.1L692.2 552.9L692.9 553.4L693.5 555.3L694.1 560.4L694.7 564.5L695.3 567.9L696 569.9L696.7 572.5L697.4 578.3L698.2 580L698.8 578.9L699.4 574L700 573.3L700.6 570.3L701.4 566.5L702.1 564.7L702.9 559.1L703.7 561.9L704.3 557.9L704.9 558.5L705.5 554.9L706.1 553.4L706.9 553.7L707.7 551.2L708.5 552L709.3 551L710 550.6L710.7 548.6L711.4 553.2L712.2 549.8L712.9 549.5L713.6 548L714.3 550.7L715.1 552L715.8 551.7L716.4 551.7L717 550.2L717.6 550.1L718.2 548.6L719 548.8L719.8 547.2L720.6 542.2L721.4 542.6L722 544.3L722.7 542.1L723.4 537.4L724.1 541.3L724.7 540.1L725.5 540.3L726.3 541.2L727.1 544.7L727.8 541L728.6 541.4L729.3 539.2L730 536.9L730.6 537.7L731.3 537.5L732 535.3L732.8 535.5L733.5 534.7L734.3 529.8L735.1 532.8L735.8 532.4L736.5 533.6L737.2 531.1L737.9 530.2L738.6 529.3L739.2 530.5L740 528.7L740.8 523.9L741.6 527.6L742.4 523.2L743.1 522.5L743.8 520.3L744.5 517.9L745.3 519.8L746 518.4L746.7 520.4L747.4 518.4L748.2 519.5L748.9 519.6L749.5 518.3L750.2 517.8L750.8 514.1L751.4 517.4L752 520.7L752.6 518.3L753.2 522L754 526.3L754.7 523.7L755.4 522.4L756.1 523.7L756.9 526.1L757.6 526.8L758.4 528.4L759.2 531.4L760 527.6L760.6 529L761.2 524.1L761.8 522.8L762.4 522L763.1 524.5L763.9 527.4L764.6 531.5L765.3 535.3L766 537.6L766.8 544L767.5 546.2L768.2 548.6L768.8 550.6L769.4 550.2L770 549.1L770.6 551.7L771.2 553.1L771.8 553.2L772.4 557.9L773 555.8L773.8 554.8L774.6 547L775.4 543.1L776.2 541.4L777 538.3L777.8 537.1L778.5 537.7L779.3 534.1L780 535.7L780.8 538L781.5 538.3L782.2 540.1L782.9 537.9L783.7 538.5L784.4 534.8L785.1 535.4L785.8 530.5L786.6 534L787.4 537.2L788.2 540L789 542.1L789.7 542.4L790.3 544.4L791 539.3L791.7 538.2L792.4 538.2L793.2 538.6L793.9 545.3L794.7 545.5L795.5 546.2L796.1 548.6L796.7 550.1L797.3 547.6L797.9 551.7L798.7 550.5L799.5 548.2L800.3 546.4L801.1 543.8L801.8 545L802.5 545.5L803.2 546.4L804 547.4L804.7 545.6L805.4 544.9L806.1 545.6L806.9 540.7L807.6 542.6L808.3 542.7L809 543L809.8 539.5L810.5 541.1L811.2 540.1L811.9 537.5L812.7 532.7L813.4 532.8L814.1 526.9L814.7 529.8L815.3 531.1L815.9 531.1L816.5 535.3L817.3 540.5L818.1 540.7L818.9 542.4L819.7 543.8L820.4 545.7L821.2 551.9L822 550.6L822.8 552.2L823.5 554L824.3 553.1L825 551.5L825.7 548.6L826.4 549.7L827.1 550.6L827.9 548.2L828.6 544.7L829.3 547.4L830 541.7L830.8 545.9L831.5 540.2L832.2 544L832.9 541.4L833.7 546.6L834.4 540.1L835.1 543.5L835.8 544.1L836.6 543.8L837.3 541.7L838 537.5L838.7 539.2L839.5 541.3L840.2 537.7L840.9 537.8L841.6 537.4L842.4 537.2L843.1 536.9L843.8 536.5L844.6 538.6L845.4 544L846.2 540.4L847 542.6L847.7 537.4L848.4 539.3L849.1 535.6L849.9 534.1L850.6 532.6L851.3 529.9L852 531.1L852.8 530.5L853.5 530.5L854.2 530.3L854.9 528.5L855.7 525.5L856.4 527.9L857.1 526.9L857.8 526.5L858.6 522.7L859.3 524.6L860 526.4L860.7 525.2L861.3 524.7L861.9 523.4L862.5 524.2L863.1 522.8L863.7 524.8L864.3 527L865 531.9L865.6 534.1L866.3 534.6L867.1 534.1L867.9 536.1L868.7 536.5L869.4 539.1L870.1 542.7L870.9 544.8L871.6 545L872.2 547.4L872.8 548.7L873.4 549L874 552.2L874.7 554.4L875.5 555.8L876.2 559.8L876.9 560.7L877.7 560.4L878.5 558.7L879.3 555.5L880 553.4L880.8 552.8L881.6 554L882.4 553.1L883.2 548.6L883.8 551.7L884.4 549.9L885 558.7L885.6 561.9L886.2 562.9L886.7 568.7L887.3 572.8L887.9 571.2L888.5 567.9L889.1 577.6L889.8 581.9L890.4 588.5L890.9 595.6L891.4 602.9L892 606L892.7 611.4L893.3 615L894 619.8L894.6 629.3L895.3 635.6L895.8 635.1L896.4 635.7L897 631.9L897.6 635L898.2 638.6L898.8 641.5L899.4 644L900 638.1L900.6 630.2L901.2 624.7L901.8 619.9L902.4 622.5L903 626.2L903.6 629.9L904.2 630.7L904.8 629.3L905.4 629.3L906 629.1L906.6 627.1L907.2 633.6L907.8 637.7L908.4 642.1L909 646.4L909.5 654.4L910 663.3L910.6 659.7L911.3 655.8L911.9 649.7L912.6 648.8L913.2 643.9L913.8 637.3L914.4 638.9L915 635.6L915.6 633.9L916.3 628.8L916.9 625.9L917.5 627.1L918.1 628.1L918.7 628.3L919.3 629.5L919.9 627.6L920.5 621.3L921.1 617.4L921.7 612.6L922.3 610.9L922.9 612.8L923.6 605.3L924.2 605.4L924.8 606L925.4 604.1L926 605.7L926.6 607.8L927.2 602.4L927.8 601.6L928.4 595.4L929 593.3L929.7 591.1L930.4 591.3L931.2 589.9L931.9 589.7L932.6 590.9L933.2 594.6L933.8 593.2L934.4 594.1L935 596.9L935.8 596.5L936.6 592.8L937.4 591.6L938.2 587.2L938.9 586L939.6 588L940.3 590.6L941.1 590.9L941.8 590.4L942.5 590.1L943.2 590.6L944 588.3L944.7 586L945.4 588.2L946.1 588.4L946.9 585.8L947.6 587.2L948.3 587.2L949 588.5L949.8 584.6L950.5 585.9L951.2 585.4L951.9 583.6L952.7 586.1L953.4 581.6L954.1 588.3L954.8 583L955.6 584.8L956.3 583.8L957 588.1L957.7 581.2L958.5 585L959.2 581.2L959.9 582L960.6 584.6L961.4 584L962.1 581.1L962.8 580L963.5 578.8L964.3 578.8L965 576.8L965.7 576.7L966.4 578.8L967 580.8L967.6 579.8L968.2 584.4L968.8 586L969.4 588.7L970 591.3L970.7 592.6L971.3 596.9L972 593.8L972.8 596.1L973.6 592.9L974.4 593.3L975 590.3L975.6 589.1L976.2 588.9L976.8 586L977.5 590.4L978.3 592.4L979 590.8L979.7 589.7L980.3 592.7L980.9 594.4L981.5 594.2L982.1 595.7L982.9 592.7L983.6 587L984.3 587.9L985 584.8L985.8 584.5L986.6 586.1L987.4 589.5L988.2 586L988.9 589.4L989.7 591.2L990.5 591.6L991.3 590.9L992 592.8L992.8 594.4L993.5 595.6L994.2 600.5L994.8 597.4L995.4 597L996 596.3L996.6 593.3L997.3 592.1L998.1 588.1L998.8 584.2L999.5 583.6L1000.3 582.8L1001.1 583L1001.9 578.8L1002.7 581.2L1003.4 578.4L1004.2 573.6L1005 572.8L1005.8 571.5L1006.5 571.4L1007.2 570.2L1008 571.4L1008.7 572.8L1009.4 571.6L1010.1 569L1010.9 570.8L1011.6 570L1012.3 567.9L1013.1 567.9L1013.9 563.8L1014.7 563.8L1015.5 563.1L1016.2 563.4L1016.9 565L1017.6 567.1L1018.4 566.7L1019.1 565.5L1019.8 565.2L1020.5 566.1L1021.3 563.6L1022 563.1L1022.6 561.5L1023.2 557.9L1023.8 552.8L1024.4 552.2L1025 551.2L1025.6 551.2L1026.2 549.8L1026.8 549.8L1027.5 553.2L1028.3 551.3L1029 549.3L1029.7 552.1L1030.4 553.4L1031.2 552.7L1031.9 553.7L1032.6 556.7L1033.3 552.2L1034.1 550.9L1034.9 549.2L1035.7 544.2L1036.5 542.6L1037.3 539.1L1038 537.3L1038.8 536.6L1039.6 535.3L1040.3 533.3L1041.1 532.7L1041.8 530.7L1042.5 530.5L1043.1 526.9L1043.7 525.5L1044.3 526.9L1044.9 524.4L1045.6 525.5L1046.2 531.1L1046.9 532.9L1047.5 531.2L1048.1 522.8L1048.7 520.6L1049.3 514.8L1050 516.7L1050.7 510.8L1051.4 516.3L1052.2 516L1052.8 520.2L1053.4 520.9L1054 527.7L1054.6 528.1L1055.3 528.2L1056 534.9L1056.8 536.1L1057.5 537.7L1058.3 534.2L1059.1 533.4L1059.8 529L1060.6 529.3L1061.4 531L1062.2 532.9L1063 535.1L1063.8 534.1L1064.5 534.1L1065.2 528L1065.9 526.7L1066.7 523.2L1067.3 523.6L1067.9 520L1068.5 527.5L1069.1 528.1L1069.8 528L1070.5 524.8L1071.3 524.7L1072 519.6L1072.8 520.4L1073.6 517.1L1074.3 519.3L1075.1 520.8L1075.9 519L1076.7 518.8L1077.5 516.6L1078.3 516L1079 512L1079.7 512.2L1080.4 514.3L1081.2 514.8L1081.7 519.8L1082.3 520.4L1082.9 524.4L1083.6 519.5L1084.4 517.6L1085.2 517.5L1086 513.6L1086.7 514.2L1087.4 509.4L1088.2 510.3L1088.9 509.9L1089.6 506.3L1090.3 506.5L1091.1 501.8L1091.8 502.8L1092.5 500L1093.2 499.1L1094 497.3L1094.7 500.7L1095.4 496.9L1096.1 495.5L1096.9 495.2L1097.7 495.6L1098.5 494.9L1099.3 490.6L1100.1 491.1L1100.8 488.5L1101.6 488.6L1102.4 488.2L1103.1 487.4L1103.9 488.4L1104.6 488.9L1105.3 489.4L1106 490L1106.6 494L1107.2 499.1L1107.9 499.8L1108.5 505L1109.1 510.2L1109.7 512.4L1110.4 509.9L1111.1 505.2L1111.8 499.2L1112.6 496.7L1113.2 495.5L1113.8 492.6L1114.5 494.3L1115.1 498.1L1115.7 498.1L1116.3 502.7L1116.9 507.5L1117.5 510.6L1118.1 510.2L1118.7 508L1119.3 510L1120 513.3L1120.8 515.7L1121.5 520.1L1122.2 525.7L1122.8 520.8L1123.4 516L1124 513.9L1124.6 510L1125.4 510.6L1126.1 506.9L1126.8 505.1L1127.5 504.6L1128.3 505.1L1129 504.7L1129.8 506.9L1130.6 506.8L1131.4 508.7L1132.1 504.7L1132.9 502.3L1133.6 502.8L1134.3 499.1L1135 500.3L1135.7 500.3L1136.5 498L1137.2 496.7L1138 492.3L1138.8 492.9L1139.6 491.6L1140.3 484.6L1141.1 481.9L1141.9 478.6L1142.7 478.9L1143.5 474.9L1144.2 474.8L1144.9 473L1145.7 473.9L1146.4 468.9L1147.1 468.1L1147.8 465.1L1148.6 464.3L1149.3 464.3L1150 462.9L1150.8 463.1L1151.6 465.1L1152.4 464.2L1153.1 462.4L1153.7 464.7L1154.3 469.9L1155 471.7L1155.6 474.9L1156.2 474L1156.8 471.1L1157.4 464.5L1158 461.6L1158.7 465.2L1159.4 464.8L1160.1 470.2L1160.9 472.5L1161.5 475.7L1162.1 479.5L1162.7 479.8L1163.3 484.6L1163.9 488L1164.5 493.4L1165.1 499.4L1165.7 505.1L1166.3 508.5L1166.9 508.6L1167.5 508.9L1168.1 514.8L1168.7 508.7L1169.3 506.8L1169.9 502.8L1170.5 496.7L1171.3 495.6L1172 498.7L1172.7 498.8L1173.4 499.1L1174 501.5L1174.6 502.1L1175.2 504.8L1175.8 503.9L1176.6 499L1177.4 499.4L1178.2 493.7L1179 487L1179.6 485L1180.2 482.5L1180.8 486.3L1181.4 484.6L1182.2 479.9L1183 477.7L1183.8 477.8L1184.5 474.9L1185.2 471.2L1185.9 467.9L1186.6 460.1L1187.2 458.7L1187.9 456.8L1188.7 458.5L1189.5 463.3L1190.3 461.8L1191.1 461.6L1191.7 459.3L1192.3 456.5L1192.9 455.2L1193.5 450.8L1194.3 449.7L1195 444.6L1195.8 440.1L1196.6 441.1L1197.2 441.3L1197.8 442.5L1198.4 447.5L1199 445.9L1199.6 440.6L1200.2 438.2L1200.7 432.7L1201.3 432.4L1201.9 438.9L1202.5 438.9L1203.1 443.5L1203.7 441.4L1204.3 439.4L1205 438.2L1205.6 436.3L1206.1 427.4L1206.7 416.5L1207.2 409.7L1208 394.7L1208.7 378.3L1209.3 366.4L1209.8 357L1210.4 346.9L1211 360.6L1211.5 377.1L1212.1 392.8L1212.8 411.8L1213.5 431.4L1214.1 419.7L1214.7 407.4L1215.2 397.6L1215.8 392.6L1216.3 384L1216.9 377.1L1217.6 384.8L1218.2 388.5L1218.8 400L1219.5 403.5L1220.1 403.7L1220.8 409.7L1221.3 413.2L1221.9 414.7L1222.5 423L1223 428L1223.6 425.2L1224.2 430.2L1224.8 420.7L1225.4 410.8L1226.1 404.9L1226.7 398.9L1227.4 394.7L1228 395.2L1228.6 401.8L1229.1 409L1229.7 409.7L1230.3 413.9L1230.8 418.5L1231.4 420.6L1232 413.9L1232.7 406.4L1233.3 402.5L1234 400L1234.6 393.6L1235.3 386.8L1235.8 393.4L1236.4 403.1L1237 412.1L1237.6 415.5L1238.2 419.4" fill="none" stroke="#dc3d4e" stroke-width="2.6" stroke-linejoin="round" stroke-linecap="round"/>
<text y="296" x="212.05 250.95 289.85 328.75 367.65 406.55 445.45 484.35 523.25 562.15 601.05 639.95" font-size="36.5" font-weight="bold" font-family="Liberation Serif, Noto Serif CJK SC, serif" fill="#000">道琼斯工业指数和原油价格</text>
<path d="M757.0 293.0H813.7" stroke="#90c955" stroke-width="2.2"/>
<text y="300.5" x="820.9 843.1" font-size="21" font-family="Liberation Serif, Noto Serif CJK SC, serif" fill="#111">美国</text><text x="870.2" y="300.0" font-size="20" font-family="Liberation Sans, sans-serif" fill="#111" stroke="#111" stroke-width="0.3" text-anchor="middle">:</text><text y="300.5" x="876.4 898.6 920.8 943 965.2 987.4 1009.6 1031.8 1054" font-size="21" font-family="Liberation Serif, Noto Serif CJK SC, serif" fill="#111">道琼斯工业平均指数</text>
<path d="M757.0 343.0H813.7" stroke="#dc3d4e" stroke-width="2.2"/>
<text y="350.5" x="820.9 843.1 865.3 887.5 909.7" font-size="21" font-family="Liberation Serif, Noto Serif CJK SC, serif" fill="#111">期货收盘价</text><text x="938.3" y="350.0" font-size="20" font-family="Liberation Sans, sans-serif" fill="#111" stroke="#111" stroke-width="0.3" text-anchor="middle">(</text><text y="350.5" x="943 965.2 987.4 1009.6" font-size="21" font-family="Liberation Serif, Noto Serif CJK SC, serif" fill="#111">活跃合约</text><text x="1035.2" y="350.0" font-size="20" font-family="Liberation Sans, sans-serif" fill="#111" stroke="#111" stroke-width="0.3" text-anchor="middle">)</text><text x="1047.8" y="350.0" font-size="20" font-family="Liberation Sans, sans-serif" fill="#111" stroke="#111" stroke-width="0.3" text-anchor="middle">:</text><text x="1053.9" y="350.0" font-size="20" font-family="Liberation Sans, sans-serif" fill="#111" stroke="#111" stroke-width="0.35" textLength="54.5" lengthAdjust="spacingAndGlyphs">NYMEX</text><text y="350.5" x="1109.5 1131.7 1153.9 1176.1" font-size="21" font-family="Liberation Serif, Noto Serif CJK SC, serif" fill="#111">轻质原油</text>
<rect x="1516.0" y="334.3" width="1020.4" height="341.6" fill="#fbfbfb"/><path d="M1516.0 334.3H2536.4M1516.0 383.1H2536.4M1516.0 431.9H2536.4M1516.0 480.7H2536.4M1516.0 529.5H2536.4M1516.0 578.3H2536.4M1516.0 627.1H2536.4M1516.0 675.9H2536.4M1516.0 334.3V675.9M1564.8 334.3V675.9M1613.7 334.3V675.9M1662.5 334.3V675.9M1711.4 334.3V675.9M1760.2 334.3V675.9M1809.1 334.3V675.9M1858.0 334.3V675.9M1906.8 334.3V675.9M1955.7 334.3V675.9M2004.5 334.3V675.9M2053.3 334.3V675.9M2102.2 334.3V675.9M2151.1 334.3V675.9M2199.9 334.3V675.9M2248.8 334.3V675.9M2297.6 334.3V675.9M2346.4 334.3V675.9M2395.3 334.3V675.9M2444.2 334.3V675.9M2493.0 334.3V675.9" stroke="#e2e2e2" stroke-width="1.6" fill="none"/><g font-family="Liberation Sans, sans-serif" fill="#111"><text x="1503.0" y="339.4" font-size="14.5" text-anchor="end" textLength="39.5" lengthAdjust="spacing">5,000</text><text x="1503.0" y="388.2" font-size="14.5" text-anchor="end" textLength="39.5" lengthAdjust="spacing">4,500</text><text x="1503.0" y="437.0" font-size="14.5" text-anchor="end" textLength="39.5" lengthAdjust="spacing">4,000</text><text x="1503.0" y="485.8" font-size="14.5" text-anchor="end" textLength="39.5" lengthAdjust="spacing">3,500</text><text x="1503.0" y="534.6" font-size="14.5" text-anchor="end" textLength="39.5" lengthAdjust="spacing">3,000</text><text x="1503.0" y="583.4" font-size="14.5" text-anchor="end" textLength="39.5" lengthAdjust="spacing">2,500</text><text x="1503.0" y="632.2" font-size="14.5" text-anchor="end" textLength="39.5" lengthAdjust="spacing">2,000</text><text x="1503.0" y="681.0" font-size="14.5" text-anchor="end" textLength="39.5" lengthAdjust="spacing">1,500</text><text x="2548.0" y="339.2" font-size="15.0" textLength="25.0" lengthAdjust="spacing">130</text><text x="2548.0" y="396.2" font-size="15.0" textLength="25.0" lengthAdjust="spacing">110</text><text x="2548.0" y="453.1" font-size="15.0" textLength="16.7" lengthAdjust="spacing">90</text><text x="2548.0" y="510.0" font-size="15.0" textLength="16.7" lengthAdjust="spacing">70</text><text x="2548.0" y="567.0" font-size="15.0" textLength="16.7" lengthAdjust="spacing">50</text><text x="2548.0" y="623.9" font-size="15.0" textLength="16.7" lengthAdjust="spacing">30</text><text x="2548.0" y="680.8" font-size="15.0" textLength="16.7" lengthAdjust="spacing">10</text><text transform="translate(1521.0 701.9) rotate(-45)" font-size="15.0" text-anchor="end" textLength="81.0">2018/11/20</text><text transform="translate(1569.8 701.9) rotate(-45)" font-size="15.0" text-anchor="end" textLength="72.9">2019/1/20</text><text transform="translate(1618.7 701.9) rotate(-45)" font-size="15.0" text-anchor="end" textLength="72.9">2019/3/20</text><text transform="translate(1667.5 701.9) rotate(-45)" font-size="15.0" text-anchor="end" textLength="72.9">2019/5/20</text><text transform="translate(1716.4 701.9) rotate(-45)" font-size="15.0" text-anchor="end" textLength="72.9">2019/7/20</text><text transform="translate(1765.2 701.9) rotate(-45)" font-size="15.0" text-anchor="end" textLength="72.9">2019/9/20</text><text transform="translate(1814.1 701.9) rotate(-45)" font-size="15.0" text-anchor="end" textLength="81.0">2019/11/20</text><text transform="translate(1863.0 701.9) rotate(-45)" font-size="15.0" text-anchor="end" textLength="72.9">2020/1/20</text><text transform="translate(1911.8 701.9) rotate(-45)" font-size="15.0" text-anchor="end" textLength="72.9">2020/3/20</text><text transform="translate(1960.7 701.9) rotate(-45)" font-size="15.0" text-anchor="end" textLength="72.9">2020/5/20</text><text transform="translate(2009.5 701.9) rotate(-45)" font-size="15.0" text-anchor="end" textLength="72.9">2020/7/20</text><text transform="translate(2058.3 701.9) rotate(-45)" font-size="15.0" text-anchor="end" textLength="72.9">2020/9/20</text><text transform="translate(2107.2 701.9) rotate(-45)" font-size="15.0" text-anchor="end" textLength="81.0">2020/11/20</text><text transform="translate(2156.1 701.9) rotate(-45)" font-size="15.0" text-anchor="end" textLength="72.9">2021/1/20</text><text transform="translate(2204.9 701.9) rotate(-45)" font-size="15.0" text-anchor="end" textLength="72.9">2021/3/20</text><text transform="translate(2253.8 701.9) rotate(-45)" font-size="15.0" text-anchor="end" textLength="72.9">2021/5/20</text><text transform="translate(2302.6 701.9) rotate(-45)" font-size="15.0" text-anchor="end" textLength="72.9">2021/7/20</text><text transform="translate(2351.4 701.9) rotate(-45)" font-size="15.0" text-anchor="end" textLength="72.9">2021/9/20</text><text transform="translate(2400.3 701.9) rotate(-45)" font-size="15.0" text-anchor="end" textLength="81.0">2021/11/20</text><text transform="translate(2449.2 701.9) rotate(-45)" font-size="15.0" text-anchor="end" textLength="72.9">2022/1/20</text><text transform="translate(2498.0 701.9) rotate(-45)" font-size="15.0" text-anchor="end" textLength="72.9">2022/3/20</text></g><path d="M1516 563.1L1516.8 564.1L1517.6 565.2L1518.5 564.3L1519.3 562.4L1520.1 560.3L1520.9 559.5L1521.7 558.3L1522.5 558.5L1523.3 555.8L1524.1 555.1L1524.9 552.1L1525.6 550.6L1526.4 549.8L1527.4 553.2L1528.4 557.8L1529.3 560.7L1530.2 560.9L1531.1 560.5L1532 560.5L1532.9 560.7L1533.8 562.4L1534.6 563.3L1535.4 565.5L1536.2 568.2L1537 571.3L1537.8 574L1538.6 578.6L1539.4 580.8L1540.2 583.6L1541 586.8L1541.8 587.6L1542.5 591L1543.3 592.8L1544.1 589.3L1544.9 584.8L1545.7 581.2L1546.7 579.9L1547.7 579.5L1548.6 577.6L1549.6 579.6L1550.6 582.5L1551.5 583.6L1552.5 580.4L1553.5 574L1554.4 574.7L1555.3 574.2L1556.2 570.8L1557.1 570.3L1558 569.3L1558.9 567.4L1559.8 567.3L1560.7 565.5L1561.7 567L1562.7 568.2L1563.6 569.1L1564.4 568.1L1565.2 565.8L1566 564.6L1566.8 563.1L1567.7 562.3L1568.6 564.2L1569.5 562.3L1570.4 561.9L1571.4 562.8L1572.3 562.1L1573.3 564.3L1574.1 561.3L1574.9 560.1L1575.6 560.1L1576.4 558.3L1577.3 558.7L1578.2 558.2L1579.1 557L1580 557.1L1581 557.8L1581.9 555.4L1582.8 554.5L1583.7 554.6L1584.6 553.9L1585.5 552L1586.4 551.9L1587.3 551L1588.2 551.5L1589.1 550.7L1590 550.5L1590.9 549.8L1591.8 549.7L1592.7 548.7L1593.6 546.4L1594.5 548.6L1595.4 547L1596.4 548L1597.3 547.3L1598.2 548.6L1599.1 549.3L1600 551.6L1600.9 554.1L1601.8 554.6L1602.7 552.7L1603.6 551.5L1604.5 551L1605.4 549.8L1606.3 549.3L1607.2 547L1608.1 548.2L1609 546.2L1609.9 545.3L1610.8 545.9L1611.8 544.5L1612.7 543.8L1613.6 545.3L1614.5 547.8L1615.4 548.4L1616.3 548.6L1617.2 548.1L1618.1 546.1L1619 545.2L1619.9 545L1620.8 542.8L1621.7 544.5L1622.6 541.5L1623.5 541.4L1624.4 538.9L1625.3 541.5L1626.2 541.6L1627.1 540.1L1628.1 539.8L1629 540L1629.9 538.3L1630.8 538.2L1631.7 537.6L1632.6 538.3L1633.5 538.2L1634.4 537.7L1635.3 537.4L1636.2 538.9L1637.1 538.3L1638 537.2L1638.9 537.3L1639.8 535.6L1640.7 536.1L1641.6 535.8L1642.5 535.3L1643.5 535.2L1644.4 535.7L1645.3 534.8L1646.2 534.6L1647.2 535L1648.2 534.8L1648.9 537.1L1649.7 538.7L1650.5 541.6L1651.3 541.4L1652.2 541.2L1653.1 542.3L1654 542.2L1654.9 543.8L1655.9 544.6L1656.9 548.2L1657.8 547.4L1658.6 545.4L1659.4 544.3L1660.2 543.8L1661 542.1L1661.9 543L1662.8 544.4L1663.7 543.3L1664.6 545L1665.5 546.4L1666.4 546.1L1667.3 546.6L1668.2 548.6L1669 549.6L1669.8 550.9L1670.6 550.9L1671.4 552.2L1672.2 548.4L1673 546.2L1673.8 544.6L1674.6 543.7L1675.4 542.4L1676.2 541.4L1677.1 540.1L1678.1 538.4L1679.1 540.1L1680 540.4L1680.9 540.2L1681.8 539L1682.7 539.7L1683.6 537L1684.5 536.1L1685.4 535.5L1686.3 534.8L1687.2 532.9L1688.1 535.1L1689 534.8L1690 534.1L1690.7 534.3L1691.5 535L1692.3 535.3L1693.1 535.3L1693.9 535L1694.8 533.4L1695.6 532.8L1696.5 530.5L1697.3 531.9L1698 530.5L1698.8 529.9L1699.6 530L1700.5 528.8L1701.4 528.6L1702.3 527.9L1703.2 528.1L1704.2 527.9L1705.2 528.3L1706.1 528.1L1706.9 529.4L1707.7 529L1708.5 531.4L1709.3 531.7L1710.2 530.7L1711.1 529.8L1712 528.6L1712.9 528.1L1713.8 526.2L1714.7 527.1L1715.6 525.8L1716.5 526.9L1717.3 528.5L1718.1 529.5L1718.9 531.7L1719.7 531.7L1720.6 536.3L1721.6 539.8L1722.6 542.6L1723.4 542L1724.2 538.9L1725 536.5L1725.9 539.3L1726.8 539.9L1727.7 541.3L1728.6 542.6L1729.4 539.7L1730.2 538.1L1731 535.3L1731.8 537.4L1732.6 538.1L1733.4 538.8L1734.2 541.4L1735.1 539.4L1736.1 538.4L1737.1 536.5L1737.9 538.5L1738.7 539.7L1739.5 542.6L1740.4 540.3L1741.4 539.2L1742.4 538.2L1743.2 535.7L1743.9 536.1L1744.7 537.7L1745.5 536.5L1746.4 534.3L1747.3 533.1L1748.2 533.2L1749.1 530.5L1750 531.3L1750.9 531.4L1751.8 530.3L1752.8 530L1753.7 528.7L1754.6 531.5L1755.5 529.7L1756.4 528.6L1757.3 529.2L1758.2 530.5L1759.1 530.1L1760 529.3L1760.9 529.9L1761.8 529L1762.7 529.9L1763.6 530.5L1764.5 530.6L1765.4 530.4L1766.3 530.6L1767.2 531.7L1768.1 532.6L1768.9 535.3L1769.7 537.7L1770.5 536.3L1771.3 536.3L1772.1 535.3L1772.9 537.4L1773.7 538.3L1774.5 538.9L1775.3 537.6L1776.1 537.4L1776.8 535.3L1777.6 532.9L1778.6 531.2L1779.6 530.4L1780.5 530.5L1781.4 530.1L1782.3 529.1L1783.2 529.9L1784.2 529.3L1785.1 527.5L1786 525.9L1786.9 527.7L1787.8 526.9L1788.7 526.8L1789.6 524.4L1790.5 524.8L1791.4 524.4L1792.3 524.8L1793.2 522.6L1794.1 521.6L1795 522L1795.9 520.5L1796.8 520.1L1797.7 519.5L1798.6 520.8L1799.6 519.7L1800.5 518.6L1801.4 519.6L1802.3 519.6L1803.2 520.8L1804.1 518.4L1805 518.9L1805.9 517.9L1806.8 518.6L1807.7 515.5L1808.6 516.5L1809.5 516.5L1810.4 515.9L1811.3 515.3L1812.2 515.7L1813.1 514.8L1814 514.9L1815 515.6L1815.9 515.5L1816.8 516L1817.7 517.3L1818.7 518.2L1819.7 520.3L1820.4 520.5L1821.2 518.1L1822 515.5L1822.8 514.8L1823.7 516L1824.6 516.6L1825.5 515.1L1826.4 514.8L1827.3 513.5L1828.2 512.2L1829.1 512.8L1830 511.2L1831 510.4L1831.9 509.1L1832.8 509.5L1833.7 508.3L1834.6 507.8L1835.5 507.5L1836.4 508.6L1837.3 506.8L1838.2 508.1L1839.1 508.7L1840 508.1L1840.9 507.5L1841.8 508.1L1842.7 506.6L1843.6 506.5L1844.5 505.1L1845.4 506L1846.4 504.8L1847.3 503.6L1848.2 504.4L1849.1 503.9L1850 503.1L1850.9 503L1851.8 502L1852.7 500.6L1853.6 500.3L1854.5 499.7L1855.4 497.9L1856.3 499.7L1857.2 499.8L1858.1 498.2L1859 497.1L1860 498.8L1860.9 497.1L1861.7 498.5L1862.4 501L1863.2 501.7L1864 502.7L1865 505.5L1865.9 506.6L1866.9 507.5L1867.9 505.1L1868.8 502.1L1869.8 500.3L1870.6 500.2L1871.4 498.8L1872.2 498.2L1872.9 496.7L1873.9 496.1L1874.8 492.9L1875.7 493.5L1876.6 492.3L1877.5 491.8L1878.4 492.1L1879.3 492L1880.2 491.4L1881 490.2L1881.8 490.9L1882.5 491.5L1883.3 491.8L1884.1 495.3L1884.9 499.1L1885.7 501.5L1886.6 506.4L1887.4 511.7L1888.2 517.2L1889 526.1L1889.9 534.1L1890.7 528.4L1891.5 525.7L1892.5 522L1893.5 516L1894.4 522.8L1895.4 530.5L1896.3 540.6L1897.1 548.6L1897.9 544.8L1898.8 540.1L1899.8 561.9L1900.7 580L1901.7 572.4L1902.7 561.9L1903.5 574.4L1904.3 586L1905.2 579.8L1906 576.4L1907 585.7L1908 595.7L1908.7 600.1L1909.4 604.2L1910.1 597L1910.9 588L1911.6 581.2L1912.4 571.7L1913.3 564.3L1914.3 566.9L1915.2 571.5L1916.2 576.3L1917.1 581.2L1918 576.4L1918.8 572.8L1919.6 569.1L1920.4 563.8L1921.2 556.9L1922 551L1922.9 551.3L1923.9 550L1924.9 548.6L1925.7 547L1926.5 546.3L1927.3 543.8L1928.1 544.1L1928.9 542.9L1929.7 542.6L1930.7 546.1L1931.6 550.4L1932.6 554.6L1933.4 551.2L1934.2 548.4L1935 543.8L1935.8 543.1L1936.6 541L1937.4 540.1L1938.2 537.3L1939 536.8L1939.9 535.3L1940.7 538.8L1941.5 542.8L1942.3 545L1943.1 543L1943.8 540.2L1944.6 539.9L1945.4 537.7L1946.2 537.3L1947 535.9L1947.8 536.5L1948.6 540.8L1949.4 544L1950.2 546.2L1951 544.4L1951.8 542.3L1952.6 539.4L1953.4 537.7L1954.3 537.2L1955.3 535.2L1956.3 534.1L1957.2 532.2L1958.1 530.7L1959 528.6L1959.9 528.1L1960.8 527.7L1961.7 527.9L1962.6 526.3L1963.5 524.4L1964.4 521.1L1965.3 519.5L1966.2 517.4L1967.1 516L1968 513.3L1968.8 508.6L1969.6 507.5L1970.4 505.6L1971.2 507.3L1972 508.7L1972.8 519.5L1973.7 529.3L1974.5 526.9L1975.2 526.4L1976 521.9L1976.8 519.6L1977.6 519L1978.4 518.3L1979.2 517.1L1980 517.2L1980.9 518.3L1981.9 517.1L1982.9 518.4L1983.8 520.9L1984.8 525L1985.7 529.3L1986.5 526.3L1987.3 525.3L1988.1 521.8L1988.9 519.6L1989.8 518.4L1990.7 516.3L1991.6 516L1992.5 513.6L1993.4 513.2L1994.3 512.7L1995.2 510.6L1996.1 511.2L1997 511L1997.9 510L1998.9 510.8L1999.8 510L2000.7 509.3L2001.6 508.2L2002.5 507.3L2003.4 505.1L2004.3 505.1L2005.2 503.3L2006.1 503.3L2007 502.7L2007.9 504L2008.8 504.1L2009.7 506.5L2010.6 507.5L2011.5 507.5L2012.4 505.8L2013.3 504.2L2014.3 502.7L2015.2 501.6L2016.1 500.8L2017 498.1L2017.9 496.7L2018.8 496.7L2019.7 495L2020.6 495.2L2021.5 494.3L2022.4 494.1L2023.3 492.1L2024.2 492.7L2025.1 491.8L2026 491.8L2026.9 489.8L2027.8 490.2L2028.7 490.6L2029.6 488.4L2030.6 486.6L2031.5 486.2L2032.4 484.6L2033.3 482.8L2034.2 482L2035.1 480.1L2036 479.8L2037 479.7L2037.9 481.9L2038.9 481L2039.9 477.6L2040.8 472.5L2041.8 478.6L2042.8 487L2043.6 489.1L2044.4 493L2045.2 496.7L2046.1 494.4L2047.1 495.4L2048.1 494.3L2049 492.7L2050 491L2051 489.4L2051.8 491.9L2052.5 493.7L2053.3 495.7L2054.1 499.1L2054.9 498.3L2055.7 500.3L2056.5 504.1L2057.2 506.3L2058.2 503.5L2059.2 499.9L2060.1 496.7L2061.1 494.7L2062 494.7L2062.9 494.7L2063.8 494.3L2064.7 492.3L2065.6 493.3L2066.5 490.9L2067.4 490.6L2068.4 487.2L2069.3 483.2L2070.3 481L2071.1 480.4L2071.9 477.9L2072.6 477L2073.4 476.9L2074.2 479.4L2075 479.8L2075.8 482L2076.6 484.6L2077.5 484L2078.5 483.3L2079.5 482.2L2080.4 483.6L2081.4 487.9L2082.4 490.6L2083.2 493.5L2083.9 497.7L2084.7 498.6L2085.5 502.7L2086.3 502.1L2087.1 501.3L2087.9 499.8L2088.6 499.1L2089.5 492.6L2090.3 487.2L2091.1 481L2092 479.2L2093 478.1L2094 477.3L2094.9 475.4L2095.8 474.8L2096.7 474.2L2097.6 472.5L2098.5 470.4L2099.4 470L2100.3 469.4L2101.2 468.2L2102 471.7L2102.8 472.4L2103.6 474.9L2104.6 473.5L2105.6 470L2106.5 467.7L2107.3 468.3L2108.1 468.6L2108.9 468.9L2109.7 468.9L2110.6 467.3L2111.5 465.2L2112.4 465.6L2113.3 463.3L2114.2 464L2115.1 462.3L2116 461.1L2116.9 460.4L2117.8 460.9L2118.7 460.4L2119.6 461.1L2120.5 462.9L2121.4 461.9L2122.3 461.9L2123.2 460.2L2124.2 459.2L2125.1 459.1L2126 459.2L2126.9 460.3L2127.8 461.6L2128.7 461L2129.6 460L2130.5 457.9L2131.4 458L2132.3 456.2L2133.2 456.7L2134.1 456.4L2135 455.6L2136 458.7L2137 460.5L2137.9 460.4L2138.7 458.6L2139.5 455.2L2140.3 453.2L2141.1 450.8L2141.8 449.6L2142.6 449.3L2143.4 450.4L2144.2 449.6L2145.2 451.4L2146.1 452.9L2147.1 453.2L2148.1 453.2L2149 450.1L2150 448.4L2150.8 448.4L2151.6 447.4L2152.4 446.9L2153.1 445.9L2153.9 446.1L2154.7 446.3L2155.5 444.7L2156.3 445.5L2157.2 448.6L2158.2 454.3L2159.2 459.2L2160.1 457.5L2161.1 454.9L2162.1 453.2L2162.9 450.9L2163.6 447.6L2164.4 447.2L2165.2 444.7L2166.1 443.7L2167 443.2L2167.9 440.3L2168.8 438.7L2169.7 438.3L2170.7 438.1L2171.6 438.8L2172.5 437.5L2173.4 438.4L2174.3 438.5L2175.2 436.9L2176.1 438.2L2177 438.6L2177.9 439.2L2178.8 441.6L2179.7 443.5L2180.5 445.3L2181.3 446.1L2182.1 447.1L2182.9 444.8L2183.7 445.4L2184.5 442.3L2185.3 445.9L2186.2 451.4L2187 454.4L2187.7 453.7L2188.5 451.4L2189.3 450.1L2190.1 447.1L2191.1 443.4L2192 440.1L2193 437.5L2193.9 436.3L2194.8 436.1L2195.7 435L2196.6 434.3L2197.4 437.6L2198.2 438.1L2199 439.9L2200 440.3L2200.9 441.1L2201.7 440.5L2202.5 442L2203.3 442.3L2204.1 440.2L2204.9 436.3L2205.7 433.9L2206.5 433.1L2207.3 432.8L2208.1 435.2L2208.8 435.1L2209.8 433.1L2210.8 429.9L2211.7 426.6L2212.6 426.4L2213.6 425.5L2214.5 424.4L2215.4 423L2216.1 421L2216.9 421.3L2217.7 420.8L2218.5 419.4L2219.5 418.9L2220.4 417.3L2221.4 414.5L2222.3 415.2L2223.2 416.5L2224.1 416.2L2225 418.2L2225.8 418L2226.6 415.4L2227.4 415.7L2228.2 414.5L2229 413.7L2229.9 413L2230.7 412.7L2231.5 413.3L2232.3 412.5L2233.1 412.9L2233.9 413.3L2234.7 412.1L2235.5 413.1L2236.3 414.8L2237.1 415L2237.9 414L2238.7 413.1L2239.5 409.2L2240.3 411.9L2241.1 414.7L2241.9 417L2242.8 421.9L2243.6 425.4L2244.4 422.5L2245.2 419.6L2246 415.7L2246.8 415.7L2247.6 415.9L2248.4 416.1L2249.2 417L2250 415.4L2250.7 414.1L2251.5 413.9L2252.3 413.3L2253.2 412L2254 411.8L2254.9 412.6L2255.7 412.1L2256.5 410.7L2257.3 410.2L2258.1 410.6L2258.8 410.9L2259.6 409.5L2260.4 408.8L2261.2 410.7L2262 409.2L2262.9 410L2263.9 409.4L2264.9 409.7L2265.8 408.4L2266.8 406.9L2267.8 407.8L2268.6 406.2L2269.3 404.8L2270.1 406.8L2270.9 406.8L2271.7 409L2272.5 412.9L2273.3 415L2274.1 413.2L2274.9 409.4L2275.7 410.2L2276.5 407.3L2277.4 406.8L2278.4 405.8L2279.4 403.7L2280.3 402.7L2281.3 401.5L2282.3 401.3L2283.1 399.8L2283.8 400.3L2284.6 397.1L2285.4 396.4L2286.2 396L2287 397.7L2287.8 396.8L2288.6 398.8L2289.5 398.4L2290.5 395.7L2291.4 395.2L2292.4 397.6L2293.4 398.5L2294.3 400L2295.1 401.5L2295.9 402.3L2296.7 405.9L2297.5 406.8L2298.3 403.4L2299.1 398.8L2299.9 396.4L2300.7 395.4L2301.5 393.9L2302.3 393.2L2303 391.6L2304 391.6L2305 392.3L2305.9 392.3L2306.8 392.2L2307.8 391.5L2308.7 389.7L2309.6 390.4L2310.4 390.3L2311.1 391.4L2311.9 390.7L2312.7 389.9L2313.7 390.2L2314.6 389.6L2315.6 388L2316.5 387.5L2317.4 388L2318.3 386.6L2319.2 386L2320 387.1L2320.8 388.4L2321.6 391.6L2322.4 390.2L2323.2 388.7L2324 386.8L2324.8 384.3L2325.7 383.5L2326.7 381.6L2327.7 382.7L2328.6 382.2L2329.6 381.3L2330.6 380.7L2331.4 380L2332.1 379.4L2332.9 379.2L2333.7 379.5L2334.6 378.2L2335.5 380.1L2336.4 380.9L2337.3 380.7L2338.3 383.6L2339.3 384.7L2340.2 386.8L2341 385.4L2341.8 384.4L2342.6 384.9L2343.4 385.1L2344.2 387.8L2345 389.6L2345.7 390.3L2346.5 391.6L2347.3 394.1L2348.1 396.4L2348.9 397.6L2349.9 394.7L2350.9 391.5L2351.8 388L2352.8 390.2L2353.8 391.6L2354.7 394L2355.5 395.6L2356.3 398.5L2357.1 402L2358 401.6L2358.8 398.8L2359.6 398.8L2360.4 396.7L2361.1 395.2L2361.9 394.2L2362.7 392.8L2363.5 394L2364.3 396.5L2365.1 397.6L2365.9 395.1L2366.7 392.7L2367.5 390.9L2368.3 388L2369.2 385L2370.2 384.5L2371.2 381.9L2372.1 381.7L2373 378.7L2373.9 378L2374.8 377.1L2375.6 375.2L2376.4 374.1L2377.1 373.9L2377.9 372.3L2378.9 370.5L2379.9 371.7L2380.8 371.1L2381.8 369.9L2382.8 368L2383.7 366.2L2384.5 367.3L2385.3 365.2L2386.1 363.3L2386.9 363.8L2387.6 364.3L2388.4 364.9L2389.2 364.8L2390 365.7L2391 363.2L2391.9 362.3L2392.9 363.8L2393.8 364.1L2394.7 362.1L2395.6 363.7L2396.5 362.6L2397.3 363.6L2398.1 361.3L2398.9 362.9L2399.7 363.3L2400.6 366.5L2401.6 369.9L2402.6 371.5L2403.5 371.6L2404.5 368.6L2405.2 374.5L2405.9 377.9L2406.7 381.9L2407.6 379L2408.4 376.1L2409.3 373.5L2410.1 370.2L2410.9 365.6L2411.7 362.6L2412.7 362.7L2413.7 366.6L2414.6 366.2L2415.6 366.7L2416.6 365.9L2417.5 363.8L2418.5 367L2419.5 369.9L2420.4 372.2L2421.4 375.9L2422.2 371.7L2423 367.8L2423.8 365L2424.8 361.4L2425.7 357.9L2426.7 356.6L2427.7 355.8L2428.6 355.2L2429.6 354.2L2430.4 354.8L2431.2 354.4L2432 353.7L2432.8 354.2L2433.6 359.3L2434.4 362.6L2435.2 365L2436 366.1L2436.8 366.5L2437.6 365.7L2438.4 364.3L2439.2 363.5L2440 361.4L2440.8 363.4L2441.6 366.9L2442.4 368.6L2443.2 372.4L2444 375.3L2444.8 377.1L2445.6 383.1L2446.4 388.2L2447.2 393.3L2448.1 393L2448.9 392.8L2449.7 391.6L2450.5 393.8L2451.3 397L2452.1 398.8L2452.9 394.8L2453.7 388.4L2454.5 384.3L2455.3 379.5L2456.1 377.6L2456.9 374.7L2457.7 377.5L2458.5 380.3L2459.3 384.3L2460.1 380.3L2460.9 377.4L2461.7 375.9L2462.5 377L2463.3 380.7L2464.2 384.3L2465 384.8L2465.8 386.5L2466.6 390.4L2467.4 388.5L2468.2 389L2469 386.8L2469.8 392.1L2470.6 395.1L2471.4 398.8L2472.2 402L2473 404.4L2473.8 407.3L2474.6 402.7L2475.4 397.7L2476.2 394L2477 391.8L2477.8 389L2478.6 388L2479.5 391.1L2480.3 395.6L2481.1 400L2481.9 404.7L2482.7 411.3L2483.5 414.5L2484.3 411.1L2485.1 407.1L2485.9 404.9L2486.7 403.1L2487.5 401.4L2488.3 398.8L2489.1 396.7L2489.9 393.3L2490.7 390.4L2491.5 388L2492.3 387.3L2493.1 386.8L2493.9 383.5L2494.8 382.3L2495.6 380.7L2496.4 380.4L2497.2 377.6L2498 375.9L2498.8 374L2499.6 372.8L2500.4 369.9L2501.2 371.8L2502 375.9L2502.8 378.3L2503.6 376.9L2504.4 375.3L2505.2 374.7L2506 377L2506.8 379.3L2507.6 383.1L2508.4 385.1L2509.2 386.5L2510 388L2510.9 389.6L2511.7 392.3L2512.5 394L2513.3 391.2L2514.1 388.1L2514.9 389.2L2515.7 388.7L2516.5 387.2L2517.3 386.8L2518.1 393.9L2519 400L2519.8 400.2L2520.6 400L2521.4 402.5L2522.2 403.5L2523 407.6L2523.8 409.7L2524.6 412.9L2525.4 414.9L2526.2 418.2L2527 416.6L2527.8 414L2528.6 412.1L2529.5 413.8L2530.3 414.5L2531.1 417L2531.9 418.8L2532.7 424.4L2533.5 429L2534.3 431.8L2535 433.2L2535.8 437.3L2536.6 438.7" fill="none" stroke="#90c955" stroke-width="2.0" stroke-linejoin="round" stroke-linecap="round"/><path d="M1516 548.6L1516.8 553.2L1517.6 556.7L1518.5 560.7L1519.3 563.1L1520.1 559.3L1520.9 555.8L1521.7 557.4L1522.5 558.2L1523.3 558.3L1524.1 556.3L1524.9 554.1L1525.7 553.4L1526.5 555L1527.3 555.4L1528.1 557.1L1528.9 558.1L1529.7 557.7L1530.5 556.1L1531.3 558.3L1532.2 554.5L1533.2 553.4L1534.2 553.4L1535 553.8L1535.8 558.9L1536.6 563.1L1537.4 564.1L1538.2 567.2L1539 567.9L1539.8 570L1540.6 573.1L1541.4 576.4L1542.2 578.9L1543 581.4L1543.8 582.4L1544.8 576L1545.7 571.5L1546.7 573.9L1547.7 572.9L1548.6 574L1549.6 573.3L1550.5 570.4L1551.4 568.1L1552.3 566.7L1553.1 564.3L1553.9 564.5L1554.7 564.3L1555.5 563.7L1556.3 557.9L1557.1 554.6L1557.9 557.2L1558.7 558.7L1559.5 557.5L1560.2 558.3L1561.2 557.2L1562.2 555.5L1563.1 551L1564.1 552.1L1565.1 552.1L1566 553.4L1566.8 554L1567.6 553.4L1568.4 554.6L1569.2 551.7L1570 553.9L1570.8 552.4L1571.6 554.2L1572.4 552L1573.2 548.9L1573.9 549.1L1574.7 546.9L1575.7 548.8L1576.7 548.6L1577.6 549.8L1578.6 550.7L1579.6 554.6L1580.5 555.8L1581.3 554.7L1582.1 555.5L1582.9 552.5L1583.7 552.2L1584.5 549.1L1585.3 546.3L1586.1 544.5L1587 542.7L1587.9 546.5L1588.8 545.6L1589.7 542.6L1590.7 543.1L1591.6 544.3L1592.6 543.8L1593.4 541.5L1594.2 543.6L1595 543.4L1595.7 541.4L1596.6 542.6L1597.4 543.4L1598.2 545L1599.1 544.7L1600 544.6L1600.9 543.3L1601.8 543L1602.7 542L1603.6 542.1L1604.5 542.1L1605.4 542.6L1606.2 541.7L1607 539.9L1607.8 538.4L1608.6 536.5L1609.5 534.3L1610.5 534.7L1611.4 535.3L1612.4 534.2L1613.4 533.7L1614.3 534.1L1615.1 534.1L1615.9 534.2L1616.7 533.3L1617.5 535.3L1618.3 534.6L1619.1 534.2L1619.8 531.5L1620.6 530.5L1621.6 529.4L1622.6 526.1L1623.5 525.2L1624.4 522.5L1625.3 522.2L1626.2 523.4L1627.1 520.8L1628.1 521.5L1629 519.6L1629.9 521.6L1630.8 522L1631.7 521.1L1632.6 520.3L1633.5 521.2L1634.4 520.8L1635.2 518.3L1636 516.5L1636.8 516.4L1637.5 517.9L1638.5 517.7L1639.5 516.6L1640.4 515.5L1641.4 517.5L1642.4 519.7L1643.3 523.2L1644.1 523.7L1644.9 525L1645.7 523L1646.5 523.2L1647.3 525.5L1648.1 530.2L1648.9 529.3L1649.7 530.4L1650.5 528.8L1651.2 528.8L1652 528.1L1653 529.2L1654 530.6L1654.9 530.5L1655.9 529.2L1656.9 526.2L1657.8 524.4L1658.6 524.1L1659.4 524.6L1660.2 523.3L1661 523.7L1661.8 524L1662.7 524.4L1663.6 529.4L1664.6 536.5L1665.5 537.3L1666.4 538.3L1667.3 535.4L1668.2 535.3L1669 540.7L1669.8 544.7L1670.6 548.6L1671.4 550.9L1672.2 552.5L1673 554.6L1673.8 554.2L1674.7 554.4L1675.5 552.2L1676.3 552.5L1677.1 555.6L1677.9 555.8L1678.7 556.7L1679.5 556.2L1680.3 558.3L1681.1 557.3L1681.9 557.8L1682.6 556.6L1683.4 555.8L1684.4 552.3L1685.4 547.6L1686.3 543.8L1687.3 541.1L1688.3 540.8L1689.2 537.7L1690 536.5L1690.8 537.6L1691.6 536.6L1692.4 535.3L1693.2 535.7L1694 535.9L1694.8 536.5L1695.6 538.2L1696.4 540.5L1697.2 542.6L1698 541.3L1698.8 540L1699.6 536.9L1700.3 537.7L1701.3 532.7L1702.3 533.2L1703.2 531.7L1704.2 532.1L1705.2 533.3L1706.1 535.3L1706.9 537.4L1707.7 538.7L1708.5 543.9L1709.3 545L1710.1 545.1L1710.8 544.4L1711.6 543L1712.4 543.8L1713.4 544.1L1714.3 544.1L1715.3 542.6L1716.1 543.2L1716.9 541.4L1717.7 538.2L1718.7 541.3L1719.7 543.6L1720.6 548.6L1721.4 549.4L1722.2 547.6L1723 547.5L1723.8 547.4L1724.6 550.8L1725.5 554.6L1726.2 553.7L1727 552.6L1727.8 549.3L1728.6 548.6L1729.4 547.1L1730.2 545L1731 546.8L1731.7 546.2L1732.7 545.7L1733.7 543.5L1734.6 545L1735.4 547.4L1736.2 548.8L1737.1 550.3L1738 547.5L1739 546L1740 545L1740.7 545.6L1741.5 547.6L1742.3 549.2L1743.1 550.3L1743.9 548.2L1744.7 547.5L1745.4 542.9L1746.2 543.8L1747.2 541.8L1748.2 542.6L1749.1 541.4L1749.9 541.6L1750.7 540.6L1751.5 538.2L1752.5 541L1753.5 543L1754.4 548.6L1755.2 541L1756.1 537.6L1756.9 528.6L1757.8 534.3L1758.8 537.7L1759.7 537.4L1760.6 535.8L1761.5 537.8L1762.4 538.2L1763.2 538.8L1764 540.9L1764.8 541.9L1765.6 542.6L1766.5 542.1L1767.5 545.8L1768.5 548.6L1769.3 551.3L1770.1 552.2L1770.9 554.6L1771.8 552.8L1772.8 552.1L1773.8 553.4L1774.6 550.4L1775.3 553.1L1776.1 551.9L1776.9 548.6L1777.7 549.5L1778.5 552.2L1779.3 550.7L1780 552.2L1781 550.6L1782 549.6L1782.9 549.8L1783.9 548.9L1784.9 549.7L1785.8 548.6L1786.6 549.7L1787.4 548L1788.2 545.4L1789 543.8L1789.8 545.3L1790.6 546.1L1791.3 547.8L1792.1 548.6L1793.1 546.2L1794.1 545.5L1795 543.8L1795.9 544L1796.8 544.6L1797.7 542.4L1798.6 542.6L1799.6 542.6L1800.5 542.5L1801.4 541L1802.3 541.4L1803.2 538.5L1804.2 539.2L1805.2 540.1L1806 542.2L1806.7 543.1L1807.5 547L1808.3 546.2L1809.1 545.2L1809.9 541L1810.7 538.9L1811.5 538.5L1812.3 538.9L1813.1 538.7L1813.9 537.7L1814.8 540.5L1815.8 543.9L1816.8 546.2L1817.7 549L1818.7 546.7L1819.7 543.8L1820.4 542.8L1821.2 539.9L1822 536.5L1822.8 536.5L1823.7 535.9L1824.6 535.3L1825.5 535.5L1826.4 535.3L1827.3 534.1L1828.2 534.9L1829.1 534.8L1830 532.9L1831 532.1L1831.9 530.2L1832.8 531.4L1833.7 531L1834.6 532L1835.5 531.2L1836.4 530.5L1837.3 529.3L1838.2 527.8L1839.1 527.6L1840 528.7L1840.9 528.1L1841.8 527.9L1842.7 526.8L1843.6 526.6L1844.5 525.2L1845.3 526.4L1846.2 525.7L1847 525.2L1847.8 527.5L1848.6 529.4L1849.4 534.1L1850.3 534.8L1851.2 535.7L1852.1 536.6L1853 537.7L1853.9 538.7L1854.8 537.1L1855.7 537L1856.6 537.2L1857.6 538.5L1858.6 537.6L1859.5 538.9L1860.4 541.9L1861.2 548.8L1862.1 555.8L1863 554.8L1864 552.1L1865 551L1865.8 552.5L1866.5 552.3L1867.3 557.1L1868.1 558.3L1868.9 557.9L1869.7 559.3L1870.5 561.4L1871.3 563.1L1872.2 564.8L1873.2 563.1L1874.2 561.9L1875.1 559.7L1876.1 556.8L1877.1 557.1L1877.8 556L1878.6 554.7L1879.4 555.1L1880.2 555.8L1881 554.4L1881.8 554.9L1882.5 551.5L1883.3 551L1884.3 554.8L1885.3 554.1L1886.2 558.3L1887 563.2L1887.8 564.5L1888.6 567.9L1889.6 571.1L1890.6 575.2L1891.4 572.1L1892.2 570.4L1893 567.9L1893.8 573.4L1894.7 578.8L1895.5 586.3L1896.4 594.5L1897.1 605.6L1897.8 618.6L1898.7 611.1L1899.5 605.4L1900.4 607.6L1901.2 610.2L1902.2 616.2L1903.1 623.5L1904.1 630.3L1905.1 639.2L1905.9 636.5L1906.7 637.1L1907.5 636.8L1908.3 636.8L1909.1 635L1909.9 635.6L1910.7 638.4L1911.5 639.8L1912.3 641.6L1913.3 643.6L1914.3 643.3L1915.2 646.9L1916 638.5L1916.8 631.2L1917.6 621.1L1918.4 626.6L1919.2 626.8L1920 629.5L1920.9 631.9L1921.7 635.2L1922.5 636.8L1923.4 640.1L1924.4 641.2L1925.4 644L1926.2 639.2L1927 635.5L1927.8 629.5L1928.6 634.5L1929.4 637.8L1930.2 641.6L1931 651.3L1931.8 657.2L1932.6 667L1933.6 661.1L1934.5 654.9L1935.3 653L1936.2 651.9L1937 651.3L1937.8 648.8L1938.6 647L1939.4 641.6L1940.2 641.2L1941 638.9L1941.8 636.8L1942.8 634.7L1943.7 628.3L1944.5 631L1945.3 628.7L1946.1 631.9L1947.1 630.3L1948.1 630L1949 630.7L1949.8 626.5L1950.6 622.3L1951.4 621.1L1952.3 618.4L1953.1 615.7L1953.9 612.6L1954.7 613.1L1955.5 609.7L1956.3 607.8L1957.2 607.7L1958.2 606.3L1959.2 606.6L1960 609.2L1960.8 611.6L1961.6 611.4L1962.4 611.4L1963.2 608.5L1964 604.2L1964.8 602.5L1965.6 602.3L1966.4 599.3L1967.2 596.8L1968 594.5L1968.8 593.3L1969.6 593.2L1970.4 596.3L1971.2 594.1L1972 594.5L1972.8 595.4L1973.6 598.5L1974.4 600.5L1975.2 600.6L1976 599.3L1976.8 597.8L1977.5 595.7L1978.5 593.1L1979.5 591.1L1980.4 589.7L1981.2 590.6L1982 589.4L1982.9 588.5L1983.8 590L1984.8 592L1985.7 594.5L1986.5 594.9L1987.3 595.3L1988.1 592.9L1988.9 590.9L1989.8 590L1990.7 591.8L1991.6 589.3L1992.5 588.9L1993.4 589L1994.3 589.3L1995.2 588.8L1996.1 588.5L1996.9 588.7L1997.7 591.1L1998.5 590.3L1999.3 589.7L2000.1 588L2001 587.4L2001.8 589L2002.7 587.2L2003.6 586.9L2004.6 585L2005.6 586.2L2006.5 584.8L2007.4 586L2008.2 586.1L2009.1 586.8L2009.9 586.5L2010.7 587L2011.5 588L2012.3 589.1L2013 588.9L2013.9 587.6L2014.9 588.4L2015.8 585.2L2016.7 584.8L2017.6 586.5L2018.5 585.1L2019.4 584.6L2020.3 583.6L2021.2 582.7L2022.1 584.3L2023 583L2023.9 583.6L2024.8 583.7L2025.7 583.3L2026.6 582L2027.5 582.4L2028.4 583.8L2029.3 582.7L2030.3 581.3L2031.2 581.2L2032.1 580.6L2033 580.9L2033.9 580.5L2034.8 580L2035.7 581.6L2036.6 581L2037.5 582L2038.4 582.4L2039.2 583.2L2040 584L2040.8 586L2041.6 590L2042.4 591.9L2043.2 595.7L2044 594.8L2044.8 597.9L2045.7 598.6L2046.6 597.8L2047.5 598.4L2048.4 598.1L2049.3 596.9L2050.1 595.3L2050.8 592.6L2051.6 591.4L2052.4 587.2L2053.4 587.6L2054.3 590.1L2055.3 589.7L2056.3 590.4L2057.2 591L2058.2 590.9L2059 590.1L2059.8 590.7L2060.6 589.9L2061.4 588.5L2062.1 590.8L2062.9 593.4L2063.7 596.3L2064.5 598.1L2065.5 595.8L2066.4 596.2L2067.4 590.9L2068.4 591.3L2069.3 588.6L2070.3 587.2L2071.1 589L2071.9 589.3L2072.6 588.8L2073.4 589.7L2074.2 588.7L2075 586.6L2075.8 588.2L2076.6 587.2L2077.5 589.1L2078.5 587.8L2079.5 587.2L2080.4 588.3L2081.4 588.5L2082.4 592.1L2083.2 591.9L2084 594.8L2084.8 596.9L2085.6 598.2L2086.4 600.6L2087.2 602.9L2088 599.4L2088.8 597.1L2089.6 594.6L2090.3 592.1L2091.1 593.2L2091.9 594.2L2092.7 595.2L2093.5 595.7L2094.4 591.4L2095.4 588L2096.4 584.8L2097.3 584.7L2098.3 586.4L2099.3 588.5L2100.1 587.4L2100.8 587.2L2101.6 584.6L2102.4 584.8L2103.2 582.7L2104 582.1L2104.8 580.8L2105.6 581.2L2106.5 578.1L2107.5 576.1L2108.5 574L2109.4 574L2110.4 577.2L2111.4 576.4L2112.1 575.6L2112.9 575L2113.7 572.1L2114.5 572.8L2115.3 573.5L2116.1 574L2116.8 574.1L2117.6 574L2118.6 570.6L2119.6 570.9L2120.5 570.3L2121.4 569L2122.3 569.4L2123.2 568.7L2124.2 567.9L2124.9 566.3L2125.7 564.9L2126.5 565.5L2127.3 563.1L2128.3 566.8L2129.2 565.8L2130.2 569.1L2131.2 567.5L2132.1 568.1L2133.1 566.7L2133.9 566.8L2134.7 567.7L2135.4 567.5L2136.2 567.9L2137 569L2137.8 568.3L2138.6 566.4L2139.4 565.5L2140.3 564L2141.3 560.4L2142.3 555.8L2143.2 557L2144.2 553.7L2145.2 552.2L2146 551.5L2146.7 554L2147.5 554.3L2148.3 554.6L2149.1 552.7L2149.9 549L2150.7 552.6L2151.4 553.4L2152.4 554L2153.4 554.2L2154.3 555.8L2155.3 554.3L2156.3 554.2L2157.2 553.4L2158 552.7L2158.8 555.7L2159.6 554.3L2160.4 555.8L2161.2 553.9L2162 552.3L2162.7 550L2163.5 548.6L2164.5 544.9L2165.5 543.7L2166.4 540.1L2167.4 537.5L2168.4 537.4L2169.3 536.5L2170.1 536.6L2170.9 533.2L2171.7 530.5L2172.5 530.5L2173.2 529.3L2174 526.1L2174.8 527.9L2175.6 529.3L2176.4 529.9L2177.2 532.7L2178 536.5L2178.8 531.6L2179.6 529.6L2180.4 525.7L2181.2 525L2182 523L2182.9 523.2L2183.7 527.6L2184.5 529L2185.3 532.9L2186.2 528.6L2187.2 521.3L2188.2 515.5L2189.1 516.3L2190.1 518.3L2191.1 520.8L2191.9 520.5L2192.7 517.9L2193.5 515.5L2194.3 516.1L2195 514.5L2195.8 516.3L2196.6 517.2L2197.4 522.4L2198.2 528L2199 534.1L2200 530.6L2200.9 529.3L2201.7 532.5L2202.6 540.1L2203.5 536.2L2204.5 530.5L2205.3 529.3L2206.1 530.1L2206.9 529.3L2207.7 531.3L2208.5 532.2L2209.3 532.9L2210.1 533.6L2210.9 534.6L2211.7 534.1L2212.5 534.8L2213.3 535.6L2214.2 536.5L2215.1 536.1L2216.1 535.3L2217.1 534.1L2217.8 531.5L2218.6 526L2219.4 526L2220.2 524.4L2221 522.7L2221.8 524.8L2222.5 525.1L2223.3 523.2L2224.3 526.1L2225.3 527.8L2226.2 529.3L2227.2 526.4L2228.2 526.9L2229.1 526.9L2229.9 524.4L2230.7 525.7L2231.5 521.5L2232.3 520.8L2233.1 522L2233.8 519.6L2234.6 516.2L2235.4 517.2L2236.4 519.4L2237.3 519L2238.3 519.6L2239.3 518.9L2240.2 518.6L2241.2 516L2242 515.4L2242.8 516.2L2243.6 517.7L2244.3 518.4L2245.2 518.9L2246 516.8L2246.8 515.5L2247.6 520.5L2248.4 522.2L2249.2 528.1L2250 524.6L2250.8 519.9L2251.6 517.2L2252.4 515.7L2253.2 515.4L2253.9 515.4L2254.7 513.6L2255.7 512.2L2256.7 512L2257.6 510.7L2258.6 509.5L2259.6 509.3L2260.5 507.5L2261.3 506.7L2262.1 508L2262.9 505.1L2263.7 505.1L2264.5 503.2L2265.2 504.7L2266 502.4L2266.8 502L2267.8 501.7L2268.7 501.1L2269.7 499.1L2270.7 497.2L2271.6 497.5L2272.6 497.9L2273.4 496.6L2274.2 496.3L2275 494.5L2275.7 495.5L2276.5 494.9L2277.3 495.1L2278.1 493.5L2278.9 494.3L2279.9 493.2L2280.8 492.8L2281.8 491.8L2282.8 489.4L2283.7 490L2284.7 489.9L2285.5 493L2286.3 495.5L2287.1 496.7L2287.9 494.2L2288.7 492.4L2289.5 491.8L2290.3 491.3L2291.1 491.7L2291.9 491.9L2292.7 490.6L2293.5 495.1L2294.3 499.7L2295.1 502.7L2295.9 506.3L2296.7 512.7L2297.5 514.8L2298.3 510L2299.1 503.4L2299.9 499.1L2300.7 498L2301.5 496.1L2302.3 496.8L2303 497.9L2304 495.9L2305 495.8L2305.9 494.3L2306.7 497.6L2307.6 497.7L2308.4 500.3L2309.2 502.5L2310 507.2L2310.8 510L2311.7 512.1L2312.7 512.8L2313.7 512.4L2314.5 511.4L2315.3 508.1L2316.1 507.5L2316.9 508.2L2317.7 508.4L2318.4 510.8L2319.2 513.6L2320 517.4L2320.8 521.2L2321.6 522L2322.5 525.4L2323.3 528.1L2324.1 525.2L2324.9 522.6L2325.7 517.2L2326.5 514.8L2327.3 511.7L2328.1 510.6L2328.9 510L2329.7 506.9L2330.5 508.7L2331.2 508L2332 507.5L2333 507.6L2334 508.3L2334.9 508.7L2335.9 508.4L2336.9 507.2L2337.8 506.3L2338.6 504.5L2339.4 505.4L2340.2 504L2341 503.9L2341.8 502.5L2342.5 500.1L2343.3 499.2L2344.1 497.9L2345.1 497.6L2346 500.7L2347 502.7L2347.8 500.2L2348.6 499.7L2349.4 496.7L2350.4 494L2351.4 491.4L2352.3 490.6L2353.1 490.7L2353.9 487.7L2354.7 489.7L2355.5 489.4L2356.2 488.1L2357 486.4L2357.8 485.7L2358.6 484.6L2359.4 482.4L2360.2 479.9L2361 479.3L2362 478.2L2362.9 475.5L2363.9 474.9L2364.9 473.9L2365.8 473L2366.8 472.5L2367.6 470.7L2368.4 469.6L2369.2 469.7L2370 468.9L2370.7 468L2371.5 469.4L2372.3 468.8L2373.1 467.2L2373.9 466.3L2374.8 466.7L2375.6 462.7L2376.5 464.1L2377.3 467.2L2378.1 466.9L2378.9 470.1L2379.7 467.5L2380.5 469.1L2381.3 467.7L2382.1 468.8L2382.9 471.9L2383.7 476.1L2384.5 474.4L2385.3 470.5L2386.1 471.3L2386.9 467.9L2387.7 467.1L2388.6 464.1L2389.4 466.6L2390.2 471.9L2391 473.7L2391.8 473.5L2392.5 475.8L2393.3 475.3L2394.1 474.9L2394.9 479.7L2395.7 483.6L2396.5 488.2L2397.3 485.3L2398.1 485.4L2398.9 481.7L2399.7 481L2400.5 489.8L2401.3 500.1L2402.1 508.7L2402.9 508.6L2403.7 508L2404.5 506.3L2405.3 511.2L2406.2 517.2L2407 513.2L2407.8 512.1L2408.6 510L2409.4 506L2410.2 503.7L2411 499.1L2411.8 497.9L2412.6 499.6L2413.4 501.1L2414.2 501.5L2415 500.6L2415.8 498.7L2416.6 500.3L2417.4 500.9L2418.2 503.6L2419 503.9L2419.8 504.6L2420.6 505.1L2421.4 507.5L2422.2 502.4L2423 498.7L2423.8 496.7L2424.8 491.7L2425.7 494.5L2426.7 489.4L2427.7 488.7L2428.6 488.4L2429.6 485.8L2430.4 487.6L2431.2 486.2L2432 487.2L2432.8 487L2433.6 485.9L2434.4 482.6L2435.2 477.3L2436 479.5L2436.7 478.2L2437.5 478.4L2438.3 479.8L2439.3 475.5L2440.2 473.3L2441.2 467.7L2442.2 464.5L2443.1 462.7L2444.1 459.2L2444.9 461.1L2445.7 461.8L2446.5 461.4L2447.2 461.6L2448.1 461.8L2448.9 463.8L2449.7 464.1L2450.5 461L2451.3 458.8L2452.1 455.6L2452.9 454.6L2453.6 453.6L2454.4 453.1L2455.2 453.2L2456.2 449.4L2457.1 449L2458.1 445.9L2458.9 445.4L2459.7 447.6L2460.5 448.4L2461.5 444.2L2462.5 441.5L2463.4 437.5L2464.2 434.9L2465 435.3L2465.8 435.1L2466.7 438.6L2467.5 443.8L2468.3 445.9L2469.1 447.1L2469.9 446L2470.7 444.7L2471.5 444.1L2472.3 443.2L2473.1 442.3L2473.9 443.1L2474.7 443.3L2475.5 441.1L2476.5 438.2L2477.4 432.7L2478 412.1L2478.6 388L2479.5 389.1L2480.3 392.8L2481.3 380.9L2482.3 367.4L2483.1 360.7L2484 348.8L2484.8 373L2485.7 395.2L2486.6 398.4L2487.6 402.5L2488.6 419.1L2489.5 432.7L2490.4 419.4L2491.2 409.7L2492.2 400.4L2493.1 389.2L2493.9 384.9L2494.8 383L2495.6 379.5L2496.4 383.2L2497.2 390.5L2498 394L2498.8 397.3L2499.6 399.2L2500.4 402.5L2501.2 407.6L2502 414.4L2502.8 418.2L2503.6 418.3L2504.4 415.1L2505.2 412.1L2506 416.6L2506.8 422.7L2507.6 425.4L2508.4 427.9L2509.2 428.6L2510 432.7L2510.8 432.7L2511.6 421.5L2512.4 412.6L2513.2 402.5L2514.2 403.1L2515.1 401.2L2516.1 398.8L2516.9 404L2517.7 409L2518.5 412.1L2519.5 409.1L2520.4 407.3L2521.2 412.4L2522 417.8L2522.9 423L2523.7 418.2L2524.5 411.9L2525.3 404.9L2526.1 406.2L2526.9 408.1L2527.7 407.3L2528.5 403.8L2529.3 395.4L2530.1 390.4L2530.9 392.8L2531.8 389.2L2532.6 401L2533.4 410.1L2534.2 420.6L2535 416.2L2535.8 405.7L2536.6 401.3" fill="none" stroke="#dc3d4e" stroke-width="2.0" stroke-linejoin="round" stroke-linecap="round"/>
<text y="298.5" x="1504.05 1542.95 1581.85 1620.75 1659.65 1698.55 1737.45 1776.35 1815.25" font-size="36.5" font-weight="bold" font-family="Liberation Serif, Noto Serif CJK SC, serif" fill="#000">标准普尔和原油价格</text>
<path d="M2002.8 264.6H2059.5" stroke="#90c955" stroke-width="2.2"/>
<text y="272.1" x="2067.3 2089.5" font-size="21" font-family="Liberation Serif, Noto Serif CJK SC, serif" fill="#111">美国</text><text x="2116.7" y="271.6" font-size="20" font-family="Liberation Sans, sans-serif" fill="#111" stroke="#111" stroke-width="0.3" text-anchor="middle">:</text><text y="272.1" x="2122.8 2145 2167.2 2189.4" font-size="21" font-family="Liberation Serif, Noto Serif CJK SC, serif" fill="#111">标准普尔</text><text x="2211.5" y="271.6" font-size="20" font-family="Liberation Sans, sans-serif" fill="#111" stroke="#111" stroke-width="0.35" textLength="32.3" lengthAdjust="spacingAndGlyphs">500</text><text y="272.1" x="2244.9 2267.1" font-size="21" font-family="Liberation Serif, Noto Serif CJK SC, serif" fill="#111">指数</text>
<path d="M2002.8 315.6H2059.5" stroke="#dc3d4e" stroke-width="2.2"/>
<text y="323.1" x="2067.3 2089.5 2111.7 2133.9 2156.1" font-size="21" font-family="Liberation Serif, Noto Serif CJK SC, serif" fill="#111">期货收盘价</text><text x="2184.8" y="322.6" font-size="20" font-family="Liberation Sans, sans-serif" fill="#111" stroke="#111" stroke-width="0.3" text-anchor="middle">(</text><text y="323.1" x="2189.4 2211.6 2233.8 2256" font-size="21" font-family="Liberation Serif, Noto Serif CJK SC, serif" fill="#111">活跃合约</text><text x="2281.7" y="322.6" font-size="20" font-family="Liberation Sans, sans-serif" fill="#111" stroke="#111" stroke-width="0.3" text-anchor="middle">)</text><text x="2294.2" y="322.6" font-size="20" font-family="Liberation Sans, sans-serif" fill="#111" stroke="#111" stroke-width="0.3" text-anchor="middle">:</text><text x="2300.3" y="322.6" font-size="20" font-family="Liberation Sans, sans-serif" fill="#111" stroke="#111" stroke-width="0.35" textLength="54.5" lengthAdjust="spacingAndGlyphs">NYMEX</text><text y="323.1" x="2355.9 2378.1 2400.3 2422.5" font-size="21" font-family="Liberation Serif, Noto Serif CJK SC, serif" fill="#111">轻质原油</text>
<rect x="203.9" y="969.1" width="1015.1" height="340.2" fill="#fbfbfb"/><path d="M203.9 969.1H1219.0M203.9 1017.7H1219.0M203.9 1066.3H1219.0M203.9 1114.9H1219.0M203.9 1163.5H1219.0M203.9 1212.1H1219.0M203.9 1260.7H1219.0M203.9 1309.3H1219.0M203.9 969.1V1309.3M369.1 969.1V1309.3M534.3 969.1V1309.3M699.5 969.1V1309.3M864.7 969.1V1309.3M1029.9 969.1V1309.3M1195.1 969.1V1309.3" stroke="#e2e2e2" stroke-width="1.6" fill="none"/><g font-family="Liberation Sans, sans-serif" fill="#111"><text x="191.7" y="974.4" font-size="15.0" text-anchor="end" textLength="50.0" lengthAdjust="spacing">18,000</text><text x="191.7" y="1023.0" font-size="15.0" text-anchor="end" textLength="50.0" lengthAdjust="spacing">16,000</text><text x="191.7" y="1071.5" font-size="15.0" text-anchor="end" textLength="50.0" lengthAdjust="spacing">14,000</text><text x="191.7" y="1120.2" font-size="15.0" text-anchor="end" textLength="50.0" lengthAdjust="spacing">12,000</text><text x="191.7" y="1168.8" font-size="15.0" text-anchor="end" textLength="50.0" lengthAdjust="spacing">10,000</text><text x="191.7" y="1217.3" font-size="15.0" text-anchor="end" textLength="41.6" lengthAdjust="spacing">8,000</text><text x="191.7" y="1266.0" font-size="15.0" text-anchor="end" textLength="41.6" lengthAdjust="spacing">6,000</text><text x="191.7" y="1314.5" font-size="15.0" text-anchor="end" textLength="41.6" lengthAdjust="spacing">4,000</text><text x="1235.8" y="976.5" font-size="22.5" textLength="36.0" lengthAdjust="spacingAndGlyphs">150</text><text x="1235.8" y="1025.1" font-size="22.5" textLength="36.0" lengthAdjust="spacingAndGlyphs">130</text><text x="1235.8" y="1073.7" font-size="22.5" textLength="36.0" lengthAdjust="spacingAndGlyphs">110</text><text x="1235.8" y="1122.3" font-size="22.5" textLength="24.0" lengthAdjust="spacingAndGlyphs">90</text><text x="1235.8" y="1170.9" font-size="22.5" textLength="24.0" lengthAdjust="spacingAndGlyphs">70</text><text x="1235.8" y="1219.5" font-size="22.5" textLength="24.0" lengthAdjust="spacingAndGlyphs">50</text><text x="1235.8" y="1268.1" font-size="22.5" textLength="24.0" lengthAdjust="spacingAndGlyphs">30</text><text x="1235.8" y="1316.7" font-size="22.5" textLength="24.0" lengthAdjust="spacingAndGlyphs">10</text><text transform="translate(207.9 1338.9) rotate(-45)" font-size="17.5" text-anchor="end" textLength="85.5">2016/3/21</text><text transform="translate(373.1 1338.9) rotate(-45)" font-size="17.5" text-anchor="end" textLength="85.5">2017/3/21</text><text transform="translate(538.3 1338.9) rotate(-45)" font-size="17.5" text-anchor="end" textLength="85.5">2018/3/21</text><text transform="translate(703.5 1338.9) rotate(-45)" font-size="17.5" text-anchor="end" textLength="85.5">2019/3/21</text><text transform="translate(868.7 1338.9) rotate(-45)" font-size="17.5" text-anchor="end" textLength="85.5">2020/3/21</text><text transform="translate(1033.9 1338.9) rotate(-45)" font-size="17.5" text-anchor="end" textLength="85.5">2021/3/21</text><text transform="translate(1199.1 1338.9) rotate(-45)" font-size="17.5" text-anchor="end" textLength="85.5">2022/3/21</text></g><path d="M204.1 1289.9L204.9 1290.1L205.7 1289.5L206.5 1287.7L207.2 1288.7L208 1289.1L208.7 1288.8L209.4 1288.5L210.1 1288L210.9 1287.5L211.6 1288.9L212.3 1288.7L213 1288.7L213.8 1286.5L214.5 1286.3L215.2 1285.9L215.9 1285L216.7 1285.9L217.4 1283.7L218.1 1286.7L218.8 1288.5L219.6 1288.5L220.3 1288.9L221 1290.2L221.7 1289.9L222.5 1290L223.2 1290.9L223.9 1292L224.6 1289.8L225.4 1291.6L226.1 1293.3L226.8 1292.5L227.5 1293L228.3 1291.2L229 1292.3L229.7 1290.5L230.4 1292.5L231.2 1289.1L231.9 1288L232.6 1287.5L233.3 1287.7L234.1 1289.1L234.8 1283.9L235.5 1287.6L236.2 1286.3L237 1286.7L237.7 1287.4L238.4 1284.9L239.1 1286.1L239.9 1285.8L240.6 1288.4L241.3 1287.8L242 1287.5L242.8 1288.5L243.5 1289.9L244.1 1288.9L244.7 1290.2L245.3 1289.4L245.9 1288.7L246.5 1289.9L247.1 1293.1L247.7 1292.7L248.3 1295.4L249 1291.9L249.8 1295.1L250.5 1290.1L251.2 1288.7L252 1289.8L252.8 1287.6L253.6 1286.3L254.3 1285.8L255.1 1285.9L255.8 1284L256.5 1283.3L257.2 1283.8L258 1283.8L258.7 1283L259.4 1284L260.1 1285.5L260.9 1281.5L261.6 1281.9L262.3 1280.5L263 1282L263.8 1281.8L264.5 1281.9L265.2 1280.2L265.9 1279.5L266.7 1280.4L267.4 1279.6L268.1 1277.5L268.8 1279L269.6 1279.2L270.3 1276.9L271 1279.4L271.7 1278.6L272.5 1279L273.2 1278.8L273.9 1282.1L274.6 1282L275.4 1280.3L276.1 1279.5L276.8 1279.9L277.5 1278.2L278.3 1280.5L279 1279.7L279.7 1278.5L280.4 1278.6L281.2 1277.7L281.9 1280.7L282.6 1281.9L283.4 1280.8L284.2 1281.4L285 1278.4L285.7 1278.5L286.5 1277.3L287.2 1278.6L287.9 1278.3L288.6 1279L289.4 1277.8L290.1 1279.4L290.8 1277.3L291.5 1274.9L292.3 1277.9L293 1278.5L293.7 1277.4L294.4 1278.1L295.2 1274L295.9 1276.7L296.6 1277.1L297.3 1277.5L298.1 1277.1L298.8 1278.8L299.5 1278.9L300.2 1279L301 1279.2L301.7 1280.7L302.4 1280.9L303.1 1280.3L303.9 1278.5L304.6 1280.4L305.3 1281.3L306 1282.9L306.8 1283.7L307.5 1284.3L308.1 1282.3L308.7 1282.1L309.3 1281.5L309.9 1279L310.6 1278.6L311.4 1277L312.1 1278.8L312.8 1277.3L313.5 1277.8L314.3 1275.5L315 1275.8L315.7 1273.8L316.4 1275.3L317.1 1274.7L317.8 1275.2L318.4 1276.8L319 1279.3L319.6 1279L320.3 1279.8L321 1277.8L321.7 1273.9L322.5 1275.2L323.2 1275.4L323.9 1273.6L324.6 1275.6L325.4 1276.7L326.1 1275.2L326.8 1273.7L327.5 1274.5L328.3 1274.4L329 1274.4L329.7 1272.9L330.4 1273L331.2 1274.2L331.9 1273.3L332.6 1272.1L333.3 1273.8L334.1 1274.2L334.8 1275.5L335.5 1273.6L336.2 1270.7L337 1273.6L337.7 1272.2L338.4 1272.4L339.1 1272.5L339.9 1270.8L340.6 1271.4L341.3 1270.6L342 1272.3L342.8 1269.9L343.5 1271L344.2 1270.5L344.9 1269.8L345.7 1268.7L346.4 1269.2L347.1 1269.7L347.8 1267.7L348.6 1268.1L349.3 1268.8L350 1266L350.7 1268.1L351.4 1267.1L352.2 1265.7L352.9 1266L353.6 1264.3L354.3 1263.8L355.1 1262.2L355.8 1264.5L356.5 1264.1L357.2 1264.4L358 1265.5L358.7 1266.1L359.4 1265L360.1 1265.3L360.9 1264.3L361.6 1265.7L362.3 1264.5L363 1264L363.8 1263.9L364.5 1262.2L365.2 1264.8L365.9 1262.9L366.7 1263.3L367.4 1265.5L368.1 1263.2L368.8 1263.3L369.6 1264.3L370.3 1264.5L371 1263.6L371.7 1261.9L372.5 1261.9L373.2 1262.4L373.9 1263.3L374.6 1263.1L375.4 1265L376.1 1265.2L376.8 1264.8L377.5 1264.5L378.3 1265.6L379 1262.1L379.7 1263.5L380.4 1264.1L381.2 1265L381.9 1263L382.6 1263.7L383.3 1261.8L384.1 1260.5L384.8 1260.9L385.5 1261.1L386.2 1259.3L387 1259L387.7 1257.3L388.4 1258.5L389.1 1259L389.9 1258.5L390.6 1260.1L391.3 1260.6L392 1257.8L392.8 1258.9L393.5 1257.4L394.2 1256.4L394.9 1259L395.7 1257.3L396.4 1256.8L397.1 1257L397.8 1256.1L398.6 1251.5L399.3 1254.4L400 1253.7L400.7 1254.2L401.4 1254.3L402.2 1253.7L402.9 1253.6L403.6 1254.4L404.3 1253.4L405.1 1255.7L405.8 1255.2L406.5 1256.1L407.2 1255.9L408 1257.9L408.7 1256.1L409.4 1254.2L410.1 1254.9L410.9 1255.3L411.6 1253.5L412.3 1255.5L413 1257.3L413.8 1256.1L414.5 1255.8L415.2 1256.7L415.9 1256.3L416.7 1258L417.4 1258.5L418.1 1257.9L418.8 1256.9L419.6 1255.3L420.3 1252.6L421 1253.6L421.7 1251.8L422.5 1251.8L423.2 1253.2L423.9 1249.8L424.6 1251.2L425.4 1252L426.1 1250.5L426.8 1248.9L427.5 1252.4L428.3 1251.2L429 1252.1L429.7 1250.7L430.4 1252.1L431.2 1252.9L431.9 1252.4L432.6 1251.3L433.3 1254.3L434.1 1252.3L434.8 1254.2L435.5 1253.6L436.2 1253.4L437 1251.7L437.7 1252.9L438.4 1253.5L439.1 1254.4L439.9 1253.8L440.6 1250.9L441.3 1250.7L442 1251.9L442.8 1251.2L443.5 1250.7L444.2 1250.2L444.9 1251.3L445.7 1249.4L446.4 1250.5L447.1 1252.3L447.8 1249.8L448.6 1250.6L449.3 1250L450 1250L450.7 1250.7L451.4 1249L452.2 1247.8L452.9 1248.6L453.6 1248.1L454.3 1248.7L455.1 1247.9L455.8 1250.6L456.5 1248.9L457.2 1247.6L458 1249.1L458.7 1249.3L459.4 1248.7L460.1 1246.8L460.9 1246.4L461.6 1247.9L462.3 1245.9L463 1245.9L463.8 1246.9L464.5 1245.2L465.2 1246.6L465.9 1244.3L466.7 1244.9L467.4 1244.6L468.1 1245.7L468.8 1246.1L469.6 1244.3L470.3 1243.9L471 1242.7L471.7 1242.8L472.5 1241.9L473.2 1243L473.9 1240.9L474.6 1241.7L475.4 1241.6L476.1 1240.8L476.8 1240.5L477.5 1239L478.3 1241.5L479 1240.4L479.7 1238.6L480.4 1237.9L481.2 1238.7L481.9 1239.3L482.6 1239.2L483.3 1238.6L484.1 1237.3L484.8 1238.8L485.5 1238.9L486.2 1240.4L487 1239L487.7 1241.5L488.4 1236.9L489.1 1238.4L489.9 1238.4L490.6 1238.4L491.3 1237.3L492 1236.9L492.8 1238.1L493.5 1236.7L494.2 1236.2L494.9 1233.5L495.7 1234.3L496.4 1235L497.1 1234.3L497.8 1233.5L498.6 1232.5L499.3 1232.9L500 1231.9L500.7 1231.9L501.4 1231.5L502.2 1231.8L502.9 1229.8L503.6 1228.2L504.3 1229.5L505.1 1229.8L505.8 1228.8L506.5 1226.4L507.2 1225L508 1225.9L508.6 1225.2L509.2 1225.4L509.8 1225.5L510.4 1224.7L511 1226.7L511.6 1227.2L512.2 1228.6L512.8 1230.7L513.4 1231.6L514 1234.7L514.6 1238.1L515.2 1241.6L515.8 1240.5L516.4 1235.8L517 1237.1L517.6 1233.1L518.4 1233.9L519.2 1231.5L520 1230.6L520.8 1230.7L521.5 1230.5L522.2 1230.6L522.9 1230.7L523.7 1229.5L524.4 1226.8L525.1 1226.8L525.8 1227.2L526.6 1225.9L527.4 1226.2L528.1 1225.3L528.9 1223.7L529.7 1223L530.5 1224.3L531.3 1224.4L532.1 1227.9L532.9 1227.1L533.5 1230.3L534.1 1231.6L534.7 1232L535.3 1234.3L536 1234.8L536.7 1236L537.4 1236.3L538.2 1236.7L538.8 1239.2L539.4 1241.2L540 1240.2L540.6 1239.2L541.3 1237.3L542 1238L542.8 1236L543.5 1235.5L544.3 1234.2L545 1235.7L545.8 1230.4L546.6 1230.7L547.3 1230.1L548.1 1231.8L548.8 1235L549.5 1235.5L550.2 1234.3L550.8 1231L551.4 1232.8L552.1 1231.9L552.8 1231.8L553.5 1232.1L554.3 1229.9L555 1229.8L555.7 1227.8L556.4 1227.3L557.1 1228.6L557.9 1229.1L558.6 1227.2L559.3 1227.1L560 1226.5L560.8 1228.1L561.5 1225.7L562.2 1225.1L562.9 1225.9L563.7 1225.2L564.4 1225.6L565.1 1225.8L565.8 1223.7L566.6 1223.5L567.3 1223.4L568 1221.3L568.7 1220L569.5 1223.4L570.2 1220.6L570.9 1219.9L571.6 1217.7L572.4 1219.4L573.1 1218.3L573.8 1218.6L574.5 1219.9L575.3 1216.6L576 1218.6L576.7 1221L577.3 1222.9L577.9 1223.8L578.5 1223.4L579.1 1225.4L579.9 1225.8L580.7 1225L581.5 1222L582.3 1221L583 1221.5L583.7 1220.7L584.4 1217.5L585.2 1217.1L585.9 1217.4L586.6 1217.2L587.3 1215.5L588.1 1214.3L588.8 1215.6L589.5 1216.2L590.3 1217.7L591.1 1218.3L591.9 1217.8L592.7 1219.8L593.4 1215.9L594.1 1218.3L594.8 1216.8L595.6 1216.2L596.3 1217.1L597 1216.4L597.7 1215.8L598.5 1216.7L599.2 1216.7L600 1215.4L600.7 1214.9L601.5 1214.2L602.3 1215L603 1211.3L603.8 1213.9L604.5 1213.5L605.2 1211.4L605.9 1210.6L606.7 1210L607.4 1212.9L608.1 1210.2L608.9 1212.1L609.7 1211.6L610.5 1211.4L611.3 1213.8L612 1215L612.7 1215.3L613.4 1212.3L614.2 1213.4L614.9 1212.6L615.6 1211.5L616.3 1211.6L617.1 1213.4L617.8 1211.9L618.5 1211.9L619.2 1211L620 1209.5L620.7 1211.8L621.4 1211.3L622.1 1211.4L622.7 1211.1L623.3 1216.1L623.9 1214.6L624.5 1216.2L625.1 1218.2L625.7 1221.9L626.4 1224L627 1227.1L627.6 1226.1L628.2 1225.7L628.8 1223.8L629.4 1223.5L630 1224.4L630.6 1226.9L631.2 1230.8L631.8 1231.9L632.5 1230.9L633.2 1231.6L634 1228.7L634.7 1227.1L635.5 1225.5L636.3 1225.9L637 1225L637.8 1224.7L638.4 1225.2L639 1226.6L639.6 1229.2L640.2 1229.5L640.8 1230.3L641.4 1229.6L642.1 1228.9L642.7 1228.3L643.3 1231.5L643.9 1234.2L644.5 1236.2L645.1 1237.9L645.9 1235.8L646.6 1236.4L647.4 1235L648.2 1231.9L648.8 1232.5L649.4 1226L650 1228.3L650.6 1227.1L651.4 1229.1L652.1 1227.1L652.8 1233.3L653.5 1234.3L654.1 1233.8L654.7 1236.2L655.3 1238.9L655.9 1240.4L656.5 1244.3L657.1 1245.7L657.8 1247.8L658.4 1251.2L658.9 1250.7L659.5 1254.1L660 1256.8L660.7 1254.7L661.3 1249.9L662 1248.8L662.6 1249.3L663.2 1243.5L663.8 1244.9L664.4 1245.2L665 1243.2L665.6 1242.7L666.2 1241.9L666.8 1240.4L667.5 1240.8L668.3 1238.4L669 1236L669.7 1235.9L670.4 1236.7L671.2 1234.8L671.9 1232.9L672.6 1232.5L673.3 1231.9L674.1 1231.9L674.9 1232.4L675.7 1233.8L676.5 1233.1L677.3 1232.4L678 1228.8L678.8 1228L679.6 1227.8L680.3 1226.7L681.1 1226.5L681.8 1228L682.5 1227.1L683.2 1227.6L684 1226.7L684.7 1227.7L685.4 1224.5L686.1 1224.7L686.9 1224.2L687.6 1225.4L688.3 1223.9L689 1222.7L689.8 1223L690.5 1222.4L691.2 1224.7L691.9 1225.3L692.7 1226.5L693.4 1224.7L694.2 1226.5L695 1223.8L695.7 1221.6L696.5 1221L697.2 1219.1L698 1218.4L698.7 1220.3L699.4 1217.4L700.1 1217.8L700.9 1217L701.6 1217.6L702.3 1218.1L703.1 1217.5L703.9 1215.4L704.7 1214.3L705.5 1214.3L706.2 1213.3L706.9 1215.5L707.6 1214L708.4 1214.1L709.1 1213.3L709.8 1213.6L710.5 1210.2L711.3 1212.2L712 1210.6L712.7 1211.4L713.4 1210.3L714.2 1208L714.9 1210.7L715.6 1210.1L716.3 1209.4L717.1 1208.4L717.8 1210.6L718.5 1208.3L719.2 1210.4L720 1209L720.6 1210.6L721.2 1215.2L721.8 1212.7L722.4 1215L723 1216.6L723.6 1215.8L724.2 1216.9L724.8 1219.8L725.6 1219.1L726.4 1219.8L727.1 1219.3L727.9 1221L728.6 1222.2L729.4 1225.1L730.1 1225L730.8 1224.7L731.4 1225.2L731.9 1229.5L732.5 1228.3L733.2 1224.7L733.8 1226L734.5 1222.1L735.2 1219.8L735.9 1218.2L736.6 1218.4L737.3 1218L738.1 1217.4L738.8 1217.8L739.5 1217.1L740.2 1215L741 1215.4L741.7 1213.8L742.5 1213L743.3 1211.1L744 1210.4L744.8 1211.4L745.6 1209L746.3 1209.5L747 1208.2L747.7 1207.8L748.5 1208.2L749.2 1205.6L749.9 1206.8L750.6 1207.2L751.4 1206.5L752.1 1206.5L752.8 1206.6L753.5 1202.2L754.3 1203.6L755 1205.3L755.7 1204.1L756.4 1205.1L757.1 1206.9L757.9 1207.9L758.6 1205.3L759.2 1207.9L759.8 1210.4L760.4 1214.4L761 1216.2L761.8 1214.9L762.6 1215.8L763.4 1213.6L764.2 1212.6L764.9 1213.8L765.6 1215.8L766.3 1218.3L767.1 1217.4L767.8 1217.1L768.5 1214.8L769.2 1216.1L770 1213.8L770.7 1215L771.5 1213.5L772.3 1212.8L773.1 1215L773.9 1213.6L774.7 1212.3L775.4 1211.3L776.2 1211.4L777 1210.6L777.7 1210.6L778.4 1210.4L779.1 1207.8L779.9 1208.5L780.6 1207L781.3 1206.5L782 1206.9L782.8 1209L783.5 1210.1L784.3 1208.5L785.1 1210.5L785.9 1212.6L786.6 1211.7L787.3 1213.4L788.1 1214.5L788.8 1216.2L789.5 1214.4L790.2 1215.8L791 1213.9L791.7 1211.4L792.5 1210.6L793.3 1208.7L794 1209.9L794.8 1209L795.6 1207.8L796.4 1206.9L797.2 1204.9L798 1205.3L798.7 1204.9L799.4 1204.6L800.1 1204.3L800.9 1202.9L801.6 1202.7L802.3 1202.3L803 1200.1L803.8 1201.9L804.5 1200.5L805.2 1200.8L805.9 1202.4L806.7 1199.9L807.4 1199.2L808.1 1199.3L808.8 1199.9L809.6 1198.2L810.3 1198.8L811 1197.7L811.7 1197.4L812.5 1197.3L813.2 1194.7L813.9 1197.7L814.6 1198L815.4 1198.1L816.1 1195.7L816.8 1197.3L817.5 1192.7L818.3 1193.5L819 1193.3L819.7 1195L820.4 1194L821.2 1191.2L821.9 1192L822.6 1190.8L823.3 1191.4L824.1 1185.9L824.8 1188.7L825.5 1188.8L826.2 1188.4L827 1189L827.7 1187L828.4 1183.9L829.1 1183.8L829.9 1183.6L830.6 1184.9L831.3 1182.6L832 1184L832.8 1182L833.5 1180L834.2 1179.2L834.9 1180.3L835.7 1179.7L836.4 1179.7L837.1 1178.8L837.8 1180.1L838.6 1179.8L839.3 1182.8L840 1182.9L840.7 1183.6L841.5 1182.1L842.3 1181.1L843.1 1179.4L843.9 1178.8L844.6 1177.1L845.3 1175.5L846 1172.6L846.8 1172.7L847.5 1173.5L848.2 1172L848.9 1170.4L849.7 1168.1L850.4 1169.1L851 1173.2L851.5 1175.6L852.1 1177.6L852.7 1185.8L853.4 1191.4L854 1198.1L854.7 1196.3L855.3 1192L855.9 1189.6L856.5 1195L857.1 1202.5L857.8 1208.7L858.4 1211.4L859 1216.6L859.6 1218.8L860.2 1225.1L860.8 1229.5L861.4 1232.7L862 1233.7L862.6 1236.4L863.2 1240.4L863.8 1242.4L864.3 1239.5L864.9 1237.9L865.4 1231.4L866 1226.4L866.6 1219.8L867.2 1220.1L867.8 1220.9L868.4 1224.1L869 1227.1L869.6 1224.4L870.3 1221.3L870.9 1216.2L871.5 1214.7L872.1 1214.6L872.7 1208.7L873.3 1207.8L874.1 1203.8L874.8 1204.7L875.5 1201.7L876.2 1198.1L876.9 1200.7L877.5 1203.6L878.2 1205.3L878.8 1202.6L879.4 1203.7L880 1198.9L880.6 1196.9L881.2 1196.5L881.8 1193.9L882.4 1191.7L883 1190.8L883.7 1188.5L884.4 1188.9L885.2 1188.7L885.9 1188.4L886.5 1186.2L887.1 1183.7L887.7 1182.9L888.3 1183.6L888.9 1181.1L889.4 1184.8L890 1183.6L890.7 1182.2L891.4 1180.3L892.1 1180L892.8 1179.9L893.5 1178.8L894.3 1178.1L895 1176.4L895.8 1176.2L896.5 1173.5L897.3 1169.6L898.1 1170.3L898.9 1168.8L899.7 1167.4L900.5 1165.5L901.3 1164.3L902 1164.5L902.7 1167.6L903.4 1168.7L904.2 1169.8L904.9 1169.7L905.6 1164.5L906.3 1162.2L907.1 1161.9L907.8 1163.2L908.6 1164.9L909.4 1165.1L910.2 1166.7L911 1165.1L911.8 1161.5L912.5 1159.9L913.3 1155.8L914.1 1154.4L914.8 1153.2L915.5 1152L916.2 1149.8L917 1149.3L917.7 1152L918.4 1151L919.1 1152.2L919.9 1151.5L920.7 1148L921.5 1144.9L922.3 1146.2L923.1 1143.9L923.8 1140.1L924.6 1142.6L925.4 1138.9L926.1 1138.1L926.9 1139L927.6 1143L928.3 1143.3L929 1142.2L929.8 1138.5L930.5 1139L931.2 1135.3L932 1136L932.8 1131.4L933.6 1130.3L934.3 1129.3L935.1 1127.9L935.9 1127.1L936.7 1124.8L937.5 1123.2L938.2 1120.7L938.9 1115.5L939.7 1113.6L940.3 1119.9L941 1125.3L941.6 1134.1L942.2 1135L942.8 1137.7L943.4 1136.6L944 1138.9L944.6 1138.9L945.2 1135.6L945.8 1132.9L946.4 1135.3L947 1136.7L947.6 1140.7L948.2 1145.1L948.8 1147.4L949.6 1145.9L950.4 1141.1L951.2 1138.9L952 1137.7L952.7 1136.7L953.4 1135L954.2 1132L954.9 1131.7L955.6 1127L956.3 1125.9L957.1 1122.4L957.8 1119.6L958.6 1120.9L959.3 1121.2L960.1 1122.5L960.9 1125.6L961.7 1125.9L962.5 1126.9L963.3 1130.7L964.1 1131.7L964.7 1134.4L965.3 1136.5L965.9 1134.7L966.5 1141.3L967.1 1135.1L967.7 1133.6L968.3 1129L968.9 1125.6L969.6 1124.2L970.3 1119.3L971.1 1118.6L971.8 1118.4L972.5 1119.1L973.2 1117.8L974 1122.7L974.7 1119.6L975.5 1119.7L976.3 1119.4L977 1119.3L977.8 1114.8L978.6 1113.4L979.4 1112.1L980.2 1108.5L981 1107.5L981.7 1107.8L982.4 1104L983.1 1102L983.9 1101.5L984.6 1100.8L985.3 1099.1L986 1099.5L986.8 1096.8L987.5 1096.6L988.2 1095.6L988.9 1095.6L989.7 1095.2L990.4 1093.9L991.1 1094.2L991.8 1092.9L992.6 1097.2L993.3 1093.5L994 1092L994.7 1091.8L995.5 1088.5L996.3 1086.9L997.1 1088.1L997.9 1085.8L998.6 1086.6L999.3 1089.4L1000 1087.3L1000.8 1088.2L1001.5 1085.4L1002.2 1083.6L1002.9 1082L1003.7 1078.5L1004.3 1080.2L1004.9 1084.8L1005.5 1085.7L1006.1 1088.2L1006.7 1084.9L1007.3 1080.9L1007.9 1079.2L1008.5 1074.9L1009.3 1075.2L1010.1 1070.5L1010.9 1065.6L1011.6 1065.2L1012.2 1062.5L1012.9 1064.4L1013.5 1064.6L1014.1 1063.6L1014.8 1065.5L1015.6 1067.2L1016.4 1067.4L1017.2 1068.9L1017.8 1072.3L1018.4 1074.3L1019 1074.7L1019.6 1077.3L1020.2 1080.3L1020.8 1085.7L1021.4 1089.6L1022 1091.8L1022.8 1094.1L1023.5 1097.6L1024.2 1099.1L1024.9 1094.6L1025.5 1088.3L1026.2 1084.7L1026.9 1080.9L1027.6 1081L1028.3 1079.6L1029 1082.9L1029.8 1083.4L1030.4 1085.7L1031 1088.9L1031.6 1090.3L1032.2 1090.6L1032.9 1086.6L1033.6 1084.4L1034.3 1083.4L1035.1 1078.5L1035.9 1077.2L1036.6 1074.7L1037.4 1072.2L1038.2 1070.1L1039 1070.4L1039.8 1068.4L1040.6 1067.6L1041.4 1066.4L1042.1 1067.3L1042.8 1067L1043.5 1066.3L1044.3 1068.9L1044.9 1065.1L1045.5 1066.7L1046.1 1066.7L1046.7 1062.8L1047.4 1065.1L1048.1 1067L1048.8 1068.9L1049.6 1070.1L1050.2 1072.4L1050.8 1076.4L1051.4 1079.4L1052 1080.9L1052.6 1083.2L1053.3 1084.5L1053.9 1089.4L1054.6 1087.2L1055.4 1083.1L1056.1 1081.5L1056.8 1078.5L1057.6 1077.1L1058.4 1078.5L1059.2 1079L1060 1076.1L1060.7 1074.3L1061.5 1075.3L1062.3 1073.7L1063.1 1072.5L1063.8 1070.9L1064.5 1068.5L1065.3 1068.4L1066 1067.7L1066.7 1064.1L1067.4 1067.1L1068.2 1065.6L1068.9 1064L1069.7 1063.4L1070.5 1064.2L1071.2 1061.9L1072 1060.4L1072.8 1059.3L1073.6 1058L1074.4 1053.9L1075.2 1053.2L1075.9 1051.3L1076.6 1050.1L1077.3 1050.2L1078.1 1049.5L1078.8 1049.6L1079.5 1051.2L1080.2 1048.4L1081 1048.3L1081.8 1050.4L1082.5 1052L1083.3 1055.8L1084.1 1056.8L1084.9 1054.4L1085.7 1052.9L1086.5 1049.8L1087.2 1045.9L1087.9 1046L1088.6 1048.8L1089.3 1048.5L1090 1049L1090.6 1048.3L1091.4 1047L1092.2 1046.9L1093 1045.3L1093.8 1044.7L1094.6 1045.9L1095.3 1045.6L1096.1 1047.6L1096.9 1047.1L1097.6 1044.9L1098.4 1045.7L1099.1 1044.6L1099.8 1042.3L1100.5 1039.8L1101.3 1039L1102 1038.2L1102.7 1035L1103.5 1035.9L1104.3 1036.2L1105.1 1034.5L1105.8 1032.6L1106.6 1034.2L1107.4 1036.7L1108.2 1035.9L1109 1037.5L1109.7 1038.1L1110.4 1039.5L1111.2 1041.1L1111.9 1041.1L1112.6 1044.7L1113.3 1046.4L1114.1 1046.8L1114.8 1047.1L1115.6 1051L1116.4 1054.7L1117.1 1056.1L1117.9 1058L1118.7 1057L1119.5 1056.2L1120.3 1056.2L1121.1 1052L1121.8 1051.6L1122.5 1048.3L1123.2 1047.1L1124 1043.5L1124.7 1041.1L1125.4 1041.6L1126.1 1038.5L1126.9 1036.3L1127.6 1034.6L1128.4 1034L1129.2 1032.2L1130 1030.2L1130.8 1027.7L1131.6 1022.3L1132.4 1020.1L1133.1 1018.1L1133.9 1020.1L1134.6 1019.1L1135.3 1018.5L1136 1021.8L1136.8 1021.1L1137.5 1021L1138.2 1021.2L1138.9 1019L1139.7 1016.2L1140.4 1018.1L1141.2 1019.6L1142 1019.8L1142.8 1023L1143.5 1024.6L1144.3 1025.7L1145 1029.3L1145.7 1032.6L1146.3 1028.5L1146.9 1026.6L1147.5 1025.2L1148.1 1023L1148.7 1025.2L1149.3 1029.3L1149.9 1031L1150.5 1033.8L1151.3 1034.8L1152 1036.2L1152.7 1037.1L1153.4 1039.9L1154.2 1036.1L1155 1030.4L1155.8 1026.2L1156.6 1021.8L1157.4 1021.1L1158.1 1023.2L1158.9 1023.7L1159.7 1021.8L1160.3 1027L1160.9 1030.1L1161.5 1033.6L1162.1 1039.9L1162.7 1039.8L1163.3 1040.5L1163.9 1039.2L1164.5 1037.5L1165.3 1040.1L1166 1040.9L1166.7 1048.8L1167.4 1050.7L1168 1056.4L1168.6 1063.5L1169.3 1068.7L1169.9 1072.5L1170.5 1069.1L1171.1 1065.1L1171.7 1060.5L1172.3 1055.6L1172.9 1056.4L1173.5 1056.6L1174.1 1061.6L1174.7 1062.8L1175.3 1061.4L1175.9 1057.9L1176.5 1058.1L1177.1 1054.4L1177.8 1055.7L1178.6 1061.2L1179.3 1065.3L1180 1070.1L1180.6 1070.6L1181.2 1073.6L1181.8 1075.9L1182.4 1078.5L1183.1 1083.6L1183.7 1085.9L1184.3 1088.2L1185 1084L1185.6 1079.8L1186.2 1073.6L1186.8 1068.9L1187.5 1076.6L1188.2 1084.2L1188.9 1089.5L1189.7 1095.4L1190.4 1089.6L1191.2 1085.4L1192 1080.9L1192.8 1076.1L1193.6 1074.5L1194.4 1069.1L1195.2 1066.1L1195.9 1060.4L1196.5 1058.1L1197.1 1055.6L1197.8 1053L1198.4 1052L1199.1 1051.5L1199.8 1054.4L1200.5 1053.3L1201.3 1053.2L1201.9 1057.3L1202.5 1062.5L1203.1 1067.1L1203.7 1071.3L1204.3 1073.4L1204.9 1074.6L1205.5 1079.4L1206.1 1080.9L1206.7 1084.1L1207.3 1088L1207.9 1087.8L1208.5 1090.6L1209.1 1092.8L1209.7 1093.5L1210.3 1098L1210.9 1100.3L1211.6 1099.5L1212.4 1093.5L1213.1 1094.4L1213.8 1091.8L1214.4 1097.6L1215 1102.8L1215.6 1108.6L1216.2 1113.6L1216.9 1119.4L1217.5 1124.2L1218.2 1130.5" fill="none" stroke="#90c955" stroke-width="2.4" stroke-linejoin="round" stroke-linecap="round"/><path d="M204.1 1233.1L204.8 1235.6L205.4 1237L206.1 1236.7L206.8 1239.2L207.5 1244.2L208.2 1240.8L208.9 1244.8L209.7 1247.1L210.3 1245.7L210.9 1243L211.5 1239.8L212.1 1235.5L212.7 1233L213.3 1236.5L213.9 1231.4L214.5 1230.7L215.1 1230.2L215.7 1230.1L216.3 1229.8L216.9 1229.5L217.5 1227.5L218.1 1230L218.7 1226.5L219.3 1224.7L219.9 1225.9L220.5 1220.9L221.1 1223.4L221.7 1222.2L222.5 1223L223.2 1225L223.9 1225.8L224.6 1226.9L225.4 1227.1L226.1 1225L226.9 1223.1L227.7 1221L228.5 1218.6L229.2 1218L230 1216.7L230.7 1214.8L231.4 1214.3L232.1 1214.7L232.9 1212.5L233.6 1217.4L234.3 1215.4L235 1213.3L235.7 1215.4L236.5 1212.6L237.2 1209.1L237.9 1208.2L238.6 1210.2L239.3 1209.6L239.9 1211L240.5 1212.9L241.1 1215L241.8 1215.5L242.5 1218.5L243.2 1215L244 1219.8L244.7 1220L245.5 1216L246.3 1214.6L247.1 1212.6L247.9 1210.9L248.7 1214.8L249.5 1213.8L250.2 1217.4L251 1219.2L251.7 1220.9L252.4 1222L253.1 1223L253.9 1222L254.6 1220.8L255.3 1220L256 1219.8L256.8 1223L257.6 1224L258.4 1225.8L259.2 1227.1L260 1232.9L260.7 1231.9L261.5 1231.2L262.3 1234.3L262.9 1231.2L263.5 1230.2L264.1 1235.9L264.7 1237.5L265.5 1236.2L266.2 1230.6L266.9 1227.5L267.6 1227.1L268.4 1224L269.1 1222.4L269.8 1221.6L270.5 1217.5L271.3 1215L272 1214.8L272.7 1217.5L273.4 1215.6L274.2 1215.5L274.9 1218.6L275.6 1218.4L276.3 1221.7L277.1 1224.1L277.8 1227.1L278.6 1224.8L279.3 1222.9L280.1 1224.6L280.9 1218.6L281.7 1222.2L282.5 1219L283.3 1222L284.1 1227.1L284.8 1226.4L285.5 1224.8L286.2 1229.4L287 1225.9L287.7 1224.6L288.4 1222.7L289.1 1222.3L289.9 1221L290.6 1218.5L291.4 1217.8L292.2 1214.4L293 1212.6L293.7 1212.4L294.4 1210.2L295.2 1205.5L295.9 1209.9L296.6 1209.4L297.3 1211.9L298.1 1207.7L298.8 1207.6L299.5 1208.5L300.3 1210.6L301.1 1209.8L301.9 1211.6L302.7 1212.6L303.4 1214.3L304.2 1217.9L305 1218.9L305.8 1221L306.4 1225.8L307 1224.9L307.6 1225.3L308.2 1227.1L308.9 1224.1L309.7 1225.5L310.4 1223.7L311.1 1224.7L311.7 1223.6L312.3 1222.3L312.9 1223.8L313.5 1217.4L314.3 1218.2L315 1220L315.7 1222.8L316.4 1222.2L317 1219.6L317.6 1223.4L318.2 1226.2L318.8 1223.5L319.4 1221.2L320 1217.5L320.7 1216.4L321.3 1211.4L322 1210.7L322.8 1209.1L323.6 1208.4L324.4 1205.3L325.1 1204.2L325.8 1208.3L326.6 1204.6L327.3 1204.4L328 1204.1L328.7 1203.3L329.5 1198.6L330.2 1199.3L330.9 1202L331.6 1202.9L332.4 1203L333.1 1205.7L333.8 1209.4L334.5 1206.2L335.3 1204.6L335.9 1206.7L336.6 1207.2L337.2 1210.2L337.9 1210.8L338.6 1206.4L339.4 1205.5L340.1 1204.1L340.8 1206.4L341.5 1204.9L342.3 1204.6L343 1205.3L343.7 1205.3L344.4 1202.6L345.2 1203.9L345.9 1204.5L346.6 1204.6L347.3 1203.6L348.1 1204.2L348.8 1201.4L349.5 1204.7L350.2 1207.8L351 1207.4L351.8 1204L352.6 1202.4L353.4 1202.9L354.1 1203.3L354.8 1203.8L355.6 1203.1L356.3 1203.4L357 1202.2L357.7 1204L358.5 1203.9L359.2 1203.6L359.9 1202.9L360.5 1207.3L361.1 1204L361.7 1210L362.3 1207.8L362.9 1211L363.5 1210.9L364.1 1215.1L364.7 1216.2L365.5 1217.8L366.3 1213.7L367.1 1215.3L367.9 1215L368.5 1217.2L369.1 1218.5L369.7 1217.8L370.3 1218.1L371.1 1214.8L371.9 1214.2L372.6 1216.6L373.4 1211.4L374.2 1209.4L374.9 1214.7L375.6 1208.7L376.3 1206.5L377.1 1206L377.8 1204.3L378.5 1204.9L379.2 1204.1L379.8 1204.8L380.4 1202.9L381 1208.1L381.6 1205.3L382.2 1209.8L382.9 1210.4L383.5 1208.9L384.1 1212.6L384.8 1212.2L385.6 1213.3L386.4 1215.7L387.2 1215L387.8 1217.2L388.4 1217.1L389 1220.7L389.6 1223.5L390.4 1221.2L391.2 1219.8L392 1219.5L392.8 1216.2L393.5 1213.8L394.2 1210L394.9 1213.1L395.7 1210.2L396.4 1212.7L397.1 1209.5L397.8 1212.9L398.6 1212.6L399.3 1212.4L400.1 1214.7L400.9 1215L401.7 1214.3L402.5 1213.9L403.3 1215.2L404 1218.7L404.8 1221L405.6 1219.6L406.3 1220L407 1221.9L407.7 1224.7L408.5 1225.5L409.2 1227.4L409.9 1227.9L410.6 1230.7L411.4 1228.3L412.2 1229.3L413 1226.6L413.8 1223.5L414.6 1223.8L415.3 1221.2L416.1 1220.4L416.9 1221L417.6 1219.7L418.4 1220.7L419.1 1220.5L419.8 1224.7L420.5 1222.3L421.3 1220.7L422 1218.9L422.7 1218.6L423.5 1216.8L424.3 1214.7L425.1 1217.5L425.8 1216.2L426.4 1216.5L427.1 1217L427.7 1214.5L428.3 1212.6L429 1212.7L429.8 1214.7L430.6 1211.4L431.4 1213.3L432.1 1211.1L432.9 1215.4L433.6 1215.6L434.3 1215L435 1216.9L435.7 1220.2L436.5 1219.1L437.2 1219.8L438 1219.7L438.8 1219.6L439.6 1216.3L440.3 1217.4L440.9 1218.6L441.5 1220.5L442.1 1220.3L442.8 1221L443.5 1218.7L444.3 1216.8L445.1 1213.5L445.9 1216.2L446.6 1213.8L447.3 1217.8L448.1 1217.7L448.8 1215L449.5 1214.1L450.2 1211.2L451 1213.1L451.7 1210.2L452.5 1211.7L453.3 1210.5L454 1207.4L454.8 1207.8L455.6 1210.4L456.4 1212.9L457.2 1211.9L458 1213.8L458.7 1211.8L459.4 1211.5L460.1 1212.2L460.9 1211.4L461.6 1211.1L462.3 1210.6L463 1208.8L463.8 1206.8L464.5 1206.5L465.3 1206.7L466.1 1208.1L466.8 1206.3L467.6 1205.3L468.4 1204.8L469.1 1201.9L469.8 1198.8L470.5 1198.1L471.3 1196.3L472 1195.8L472.7 1192.8L473.4 1194.5L474.2 1194.2L475 1194.1L475.8 1196L476.6 1196.4L477.4 1196.6L478.1 1194.8L478.9 1192.6L479.7 1192.1L480.4 1192L481.2 1189.5L481.9 1191.7L482.6 1190.8L483.3 1194.3L484.1 1194.9L484.8 1197.1L485.5 1195.7L486.3 1194.9L487.1 1191L487.9 1194.2L488.6 1193.3L489.4 1197.3L490.2 1193.2L491 1196.6L491.8 1194.5L492.5 1192.9L493.2 1195L494 1190.4L494.7 1189.6L495.4 1188.3L496.1 1188.6L496.9 1184.6L497.6 1186L498.4 1184.8L499.2 1183.9L499.9 1184.7L500.7 1182.4L501.5 1182L502.3 1180.7L503.1 1179L503.9 1178L504.6 1180.9L505.3 1179.3L506 1177.9L506.8 1177.1L507.5 1172.9L508.2 1177.3L508.9 1174.6L509.7 1173.2L510.4 1174L511.2 1175.4L512 1174.5L512.8 1173.9L513.4 1178.9L514 1179.5L514.6 1182.3L515.2 1183.6L515.8 1186L516.4 1188.7L517 1189.9L517.6 1190.8L518.2 1190L518.8 1188.1L519.4 1186L520 1183.6L520.8 1183.6L521.6 1180.3L522.4 1178.7L523.2 1178.8L523.9 1180.1L524.6 1182L525.4 1185.4L526.1 1184.8L526.8 1183.2L527.5 1187.8L528.3 1185.3L529 1186L529.8 1183.7L530.6 1184.6L531.3 1183.9L532.1 1182.4L532.9 1182.3L533.7 1175.3L534.5 1178.2L535.3 1175.1L536 1176.5L536.7 1178.8L537.4 1176.3L538.2 1176.4L538.9 1175.6L539.6 1178.4L540.3 1180.4L541.1 1182.4L541.8 1180.7L542.6 1179L543.4 1171.3L544.2 1171.5L545 1167.3L545.8 1168.7L546.6 1166.7L547.3 1166.7L548 1167.9L548.7 1169.3L549.3 1170.2L550 1166L550.7 1166.6L551.3 1167.7L552 1166.7L552.6 1165.2L553.3 1164.3L554.1 1163L554.9 1164.5L555.6 1163.3L556.4 1160.7L557.1 1160.3L557.9 1159.2L558.6 1156L559.3 1158.2L559.9 1157.9L560.5 1157.9L561.1 1155.8L561.7 1157L562.3 1161.7L562.9 1163.1L563.6 1163.7L564.2 1167.9L564.9 1168.4L565.6 1168.1L566.3 1169.9L567.1 1172.7L567.8 1170.9L568.6 1173.4L569.4 1171.6L570.2 1174.7L570.8 1173.7L571.4 1175.6L572 1176.1L572.6 1177.1L573.4 1175.6L574.2 1172.4L575 1170.8L575.7 1170.3L576.5 1166.4L577.2 1161.2L577.9 1159L578.6 1153.4L579.4 1152.8L580.1 1153.3L580.8 1152.6L581.5 1152.9L582.1 1154.6L582.8 1151.8L583.4 1154.3L584 1153.4L584.6 1159.7L585.2 1163.4L585.8 1168.5L586.4 1170.3L587.2 1168.4L587.9 1165L588.7 1166L589.5 1166.7L590.3 1165L591.1 1166L591.9 1164.1L592.7 1164.3L593.4 1164.2L594.1 1165.4L594.8 1169.6L595.6 1167.9L596.3 1168.8L597 1170.4L597.7 1172.4L598.5 1173.2L599.1 1176.8L599.7 1173.4L600.3 1173L600.9 1177.1L601.7 1174.1L602.4 1170.8L603.2 1168.9L604 1167.9L604.8 1163.6L605.6 1168.4L606.4 1163.2L607.1 1164.3L607.9 1165.8L608.6 1167.9L609.3 1169.5L610 1169.1L610.8 1170.5L611.5 1165.9L612.2 1162.6L612.9 1163.1L613.7 1163.5L614.5 1165.6L615.3 1164.1L616.1 1164.3L616.9 1161.8L617.7 1162.3L618.4 1156.7L619.2 1155.8L619.9 1157L620.6 1151L621.3 1149.8L621.9 1150L622.6 1149.1L623.2 1149.9L623.8 1154.8L624.4 1155.1L625 1158.2L625.6 1156.7L626.2 1156.3L626.8 1158.2L627.4 1155.8L628 1158.9L628.6 1161L629.3 1165.8L629.9 1166.7L630.6 1166.9L631.4 1166.5L632.2 1169.9L633 1171.5L633.6 1174L634.2 1173.5L634.8 1176.4L635.4 1178.8L636.2 1181.1L637 1182.2L637.8 1184.7L638.6 1186L639.2 1189.1L639.8 1194.8L640.4 1193.3L641 1198.1L641.6 1199.6L642.2 1193.3L642.8 1195.5L643.4 1194.5L644 1199.9L644.6 1208.3L645.2 1210.1L645.8 1211.4L646.4 1208.9L647 1211L647.6 1208.7L648.2 1210.2L648.8 1210.3L649.4 1211.1L650 1208.8L650.6 1205.3L651.2 1205.6L651.8 1206.2L652.4 1204.1L653 1206.5L653.6 1208.7L654.3 1206.7L654.9 1211.7L655.5 1215L656.2 1216.4L656.9 1217.4L657.6 1222.6L658.4 1224.7L658.9 1226.8L659.5 1230.7L660 1229.5L660.7 1227.3L661.4 1225.4L662 1220.7L662.7 1219.8L663.4 1219.4L664.2 1214.9L664.9 1212.3L665.6 1211.4L666.3 1207.2L667.1 1208.6L667.8 1206.5L668.5 1204.1L669.3 1204.2L670.1 1205.9L670.9 1207.6L671.6 1206.5L672.4 1206.2L673.2 1206L674 1203.8L674.8 1202.9L675.5 1203.1L676.2 1203.9L677 1201.9L677.7 1200.5L678.4 1199.8L679.1 1203.5L679.9 1207.7L680.6 1205.3L681.4 1202.3L682.1 1199.4L682.9 1198.9L683.7 1196.9L684.5 1195L685.3 1194L686.1 1191.7L686.9 1194.5L687.6 1192.7L688.3 1196L689 1192.5L689.8 1198.1L690.5 1197.7L691.2 1194.3L691.9 1198.9L692.7 1196.4L693.4 1195.4L694.2 1193.7L695 1189.9L695.8 1190.8L696.6 1191.7L697.4 1189.5L698.2 1187.3L698.9 1188.4L699.7 1189.8L700.4 1190.5L701.1 1192.2L701.8 1189.6L702.6 1187.2L703.3 1186.1L704 1183.9L704.7 1183.6L705.5 1179.6L706.3 1178.7L707.1 1177.9L707.9 1177.6L708.7 1177.4L709.4 1178L710.2 1178.1L711 1178.8L711.7 1177.5L712.5 1175.4L713.2 1174.1L713.9 1173.2L714.6 1175.4L715.4 1180.5L716.1 1179.4L716.8 1181.2L717.6 1180.9L718.4 1187.2L719.2 1185L720 1184.3L720.7 1183.3L721.5 1183L722.3 1179.1L723.1 1181.2L723.8 1179.9L724.5 1179L725.3 1179.3L726 1180L726.6 1181.3L727.2 1185.4L727.8 1191.6L728.4 1192.1L729 1194.3L729.6 1198.1L730.2 1202.4L730.8 1202.9L731.4 1204.6L732 1203.7L732.6 1206.8L733.2 1206.5L734 1209L734.7 1206.9L735.4 1206.9L736.1 1209L736.7 1205.1L737.3 1204.7L737.9 1204L738.6 1202.9L739.3 1199.7L740.1 1197.3L740.9 1196.3L741.7 1193.3L742.5 1193.4L743.3 1196.4L744 1190L744.8 1190.8L745.6 1189.7L746.3 1191.6L747 1194.8L747.7 1195.7L748.3 1196.3L748.9 1194.3L749.5 1192.3L750.1 1188.4L750.9 1188.7L751.6 1192.3L752.3 1196.6L753 1195.7L753.8 1197.6L754.6 1195.6L755.4 1191.9L756.2 1196.9L756.8 1195.2L757.4 1195.7L758 1196.5L758.6 1193.3L759.4 1197.1L760.2 1197.1L761 1203.6L761.7 1205.3L762.5 1202.8L763.2 1202.5L763.9 1201.3L764.6 1198.1L765.4 1198.2L766.1 1201.3L766.8 1198.1L767.5 1200.5L768.3 1201.7L769.1 1197.3L769.9 1196.3L770.7 1198.1L771.5 1198L772.2 1199.2L773 1201.1L773.8 1201.7L774.5 1200.7L775.3 1197.9L776 1194.8L776.7 1194.5L777.4 1193.3L778.2 1186.3L778.9 1188.1L779.6 1184.8L780.2 1185.2L780.8 1188.7L781.4 1191.7L782 1193.3L782.8 1192.3L783.6 1196.4L784.4 1199.1L785.2 1200.5L786 1201.7L786.7 1205.3L787.5 1205.9L788.3 1206.5L789 1204.4L789.8 1202.9L790.5 1201.7L791.2 1201.7L791.9 1199.6L792.7 1204.4L793.4 1200.6L794.1 1204.1L794.9 1203.5L795.7 1204.8L796.5 1201.4L797.2 1196.9L798 1198.5L798.7 1197.9L799.4 1196.8L800.1 1197.5L800.9 1198.1L801.6 1199.5L802.3 1196L803 1195.7L803.8 1194.5L804.6 1196.3L805.3 1195.2L806.1 1194.4L806.9 1193.3L807.7 1193.9L808.5 1192.9L809.3 1194.7L810 1192.5L810.8 1194.1L811.5 1193.5L812.2 1192.1L812.9 1192.1L813.7 1194.4L814.4 1194.7L815.1 1193.9L815.8 1196.9L816.6 1195.5L817.4 1189.1L818.2 1191.9L819 1189.6L819.8 1188.7L820.6 1187.9L821.3 1187L822.1 1187.2L822.9 1188.6L823.6 1187.1L824.3 1184.7L825 1184.8L825.7 1184.2L826.5 1183.3L827.2 1186.2L827.9 1183.6L828.7 1182.9L829.5 1181.8L830.3 1181.9L831.1 1181.2L831.6 1184.2L832.2 1185.6L832.8 1190.8L833.5 1192L834.3 1191.7L835.1 1192.7L835.9 1192.1L836.7 1191.2L837.5 1195.5L838.2 1199.5L839 1201.7L839.8 1203.6L840.5 1202.6L841.2 1208.9L841.9 1206.5L842.7 1210.8L843.4 1210.9L844.1 1209L844.8 1212.6L845.4 1208.8L846 1213.3L846.6 1213.9L847.2 1211.4L848 1206.7L848.8 1208.3L849.6 1207.2L850.4 1202.9L851 1204L851.6 1205.2L852.2 1206.8L852.8 1209L853.4 1210.5L854 1218.5L854.6 1217.8L855.2 1221L855.8 1220.6L856.4 1223.2L857 1225.8L857.6 1223.5L858.2 1234L858.8 1239.8L859.3 1251.2L860 1253.3L860.6 1254.2L861.3 1257.3L861.9 1259.9L862.5 1269.7L863.2 1276.6L863.8 1276.6L864.4 1275.3L865 1274.7L865.6 1277.8L866.2 1281.1L866.8 1281.3L867.4 1282.3L868 1285L868.6 1279.4L869.2 1276.4L869.8 1269.7L870.4 1265.7L871 1269.1L871.6 1270.5L872.2 1272.2L872.9 1274.2L873.5 1273.1L874.1 1270.3L874.7 1272.9L875.3 1270.6L875.8 1276.3L876.4 1280.1L877 1286.3L877.5 1290L878.1 1297.4L878.6 1302L879.3 1301.9L879.9 1296.9L880.5 1290.5L881.1 1288.7L881.7 1285.1L882.3 1281.6L882.9 1280.6L883.5 1280.2L884.3 1276.8L885 1274.1L885.8 1273.6L886.6 1270.6L887.3 1267.9L888 1266.3L888.6 1263.9L889.3 1259.8L890 1258.5L890.7 1257.8L891.4 1255.6L892.1 1253.6L892.7 1254.8L893.3 1252.1L893.9 1254.4L894.5 1254.9L895.2 1253.2L895.9 1248.8L896.7 1249.4L897.4 1246.4L898 1244.1L898.6 1242.1L899.2 1241.2L899.8 1239.2L900.4 1237.7L901 1236.6L901.6 1241.7L902.2 1245.2L903 1243.1L903.8 1242.9L904.6 1240.9L905.4 1237.9L906.1 1242L906.9 1240.8L907.7 1239.2L908.5 1240.4L909.2 1239.1L910 1236.7L910.7 1237.8L911.4 1236.7L912.1 1235.1L912.9 1233.6L913.6 1233.1L914.3 1232.1L915 1234.3L915.7 1232.2L916.5 1233L917.2 1233.6L917.9 1233.9L918.6 1235L919.4 1235.2L920.1 1232.3L920.8 1233L921.5 1231.8L922.3 1232.6L923 1232.6L923.7 1233.6L924.4 1231.4L925.2 1231.6L925.9 1233.6L926.6 1233L927.3 1230.7L928.1 1231.5L928.8 1230.9L929.5 1230.7L930.2 1230.6L931 1229.2L931.7 1230.1L932.4 1229.7L933.1 1230.2L933.9 1230.3L934.6 1231.3L935.3 1230.5L936 1229.2L936.8 1228.8L937.4 1229.2L938 1230.8L938.6 1229.9L939.2 1230.7L939.8 1233.2L940.4 1238L941 1243L941.6 1242.8L942.2 1242.7L942.8 1246.4L943.4 1243.6L944 1244L944.8 1241.7L945.6 1238.3L946.4 1236L947.1 1234.3L947.9 1238.4L948.6 1235.9L949.3 1237.3L950 1237.9L950.8 1237.8L951.5 1241.3L952.2 1240.6L952.9 1242.8L953.7 1238.3L954.5 1236.6L955.3 1236.1L956.1 1234.3L956.9 1232.4L957.7 1232.8L958.4 1230.8L959.2 1235L960 1238.8L960.7 1236.4L961.4 1237.4L962.1 1237.9L962.9 1238.7L963.6 1243.4L964.3 1243L965 1246.4L965.8 1247L966.6 1243.4L967.4 1240.2L968.2 1240.4L968.9 1238.1L969.7 1233.8L970.5 1236.1L971.3 1234.3L972 1238.5L972.8 1237.9L973.5 1231.8L974.2 1229.5L974.9 1228L975.7 1222.5L976.4 1226.5L977.1 1222.2L977.9 1223.4L978.7 1223.8L979.5 1225.3L980.2 1224.7L981 1225.1L981.8 1221.2L982.6 1223.3L983.4 1219.8L984.1 1218.5L984.8 1219.3L985.6 1215L986.3 1215L987 1217.9L987.7 1216.6L988.5 1216.7L989.2 1218.6L990 1218.7L990.7 1216.2L991.5 1216.2L992.3 1216.2L993.1 1220.1L993.9 1217.6L994.7 1219.5L995.5 1217.4L996.2 1213.3L996.9 1212.8L997.6 1206.9L998.4 1205.3L999.1 1205.5L999.8 1204.8L1000.5 1204.9L1001.3 1204.1L1002 1206.6L1002.8 1206.2L1003.6 1206.4L1004.4 1206.5L1005 1204.3L1005.6 1201.7L1006.2 1205.7L1006.8 1202.9L1007.4 1201.1L1008 1201.7L1008.6 1198.8L1009.2 1198.1L1010 1196.2L1010.8 1196.6L1011.6 1193.7L1012.4 1190.8L1013 1191.4L1013.6 1190.3L1014.2 1193.4L1014.8 1192.1L1015.5 1190.7L1016.2 1185.1L1017 1182L1017.7 1180L1018.3 1180.7L1018.9 1185.6L1019.5 1183.8L1020.1 1186L1020.8 1182.6L1021.5 1180.1L1022.3 1176.9L1023 1173.9L1023.8 1172.7L1024.6 1174.4L1025.4 1173.7L1026.1 1175.1L1026.7 1179.5L1027.3 1179.7L1027.9 1182.3L1028.6 1187.2L1029.2 1188.2L1029.8 1189.7L1030.4 1193.1L1031 1193.3L1031.8 1190.4L1032.5 1191L1033.3 1188L1034.1 1184.8L1034.8 1187L1035.6 1188.4L1036.3 1188.6L1037 1190.8L1037.7 1191.9L1038.5 1186.9L1039.2 1183.9L1039.9 1181.2L1040.7 1184.2L1041.5 1180.6L1042.3 1185.6L1043 1182.4L1043.8 1182.8L1044.6 1181.4L1045.4 1178.5L1046.2 1177.6L1046.9 1177L1047.6 1176.8L1048.4 1179.6L1049.1 1178.8L1049.8 1178.7L1050.5 1174.1L1051.3 1173.5L1052 1173.9L1052.8 1174.1L1053.6 1179.3L1054.3 1177.6L1055.1 1175.1L1055.7 1177L1056.3 1179.5L1056.9 1180L1057.5 1182.4L1058.3 1180.2L1059.1 1176.6L1059.9 1175.7L1060.7 1172.7L1061.4 1170.4L1062 1168.5L1062.7 1173.1L1063.4 1167.7L1064.1 1166.7L1064.8 1164.7L1065.6 1166.4L1066.4 1166.6L1067.2 1161.9L1068 1165L1068.8 1161.7L1069.6 1157.3L1070.3 1157L1071.1 1155.8L1071.8 1153.8L1072.5 1154.4L1073.2 1153.4L1074 1153L1074.7 1151.5L1075.4 1153.8L1076.1 1151.8L1076.9 1151L1077.6 1152.3L1078.3 1151.4L1079 1150.4L1079.8 1151.4L1080.5 1152.2L1081.1 1155.6L1081.7 1161.1L1082.3 1160L1082.9 1160.7L1083.5 1164.3L1084.2 1167.4L1084.8 1171.5L1085.6 1168.6L1086.3 1164.2L1087 1160.6L1087.7 1155.8L1088.3 1157.5L1088.9 1157.3L1089.5 1154.5L1090.1 1158.2L1090.7 1160.1L1091.4 1162.5L1092 1164.9L1092.6 1167.9L1093.3 1166.3L1094 1168.1L1094.7 1169.8L1095.5 1171.5L1096.2 1173.4L1097 1176.2L1097.8 1176.6L1098.6 1182.4L1099.2 1178.1L1099.8 1175.3L1100.4 1169.3L1101 1169.1L1101.8 1168.8L1102.6 1166.7L1103.4 1166.5L1104.2 1165.5L1104.9 1167.6L1105.6 1166.6L1106.3 1166.1L1107.1 1167.9L1107.8 1167.2L1108.5 1165.8L1109.2 1162L1110 1159.4L1110.7 1159.8L1111.5 1159L1112.3 1160.4L1113.1 1161.9L1113.9 1157.3L1114.7 1158.1L1115.4 1154.6L1116.2 1151L1117 1148.3L1117.7 1148.2L1118.4 1147.5L1119.1 1145L1119.9 1144.3L1120.6 1141.3L1121.3 1138L1122 1137.7L1122.8 1135.4L1123.6 1134.9L1124.4 1131.6L1125.2 1131.7L1126 1131.4L1126.7 1125.1L1127.5 1130.5L1128.3 1129.3L1129 1131.4L1129.8 1133.7L1130.5 1130L1131.2 1131.7L1131.9 1136L1132.5 1135.6L1133.1 1140.1L1133.8 1134.8L1134.4 1132.2L1135.1 1129.3L1135.8 1130.9L1136.5 1133.6L1137.2 1134.8L1138 1138.9L1138.6 1140.1L1139.2 1147.3L1139.8 1144.8L1140.4 1148.6L1141 1147.4L1141.6 1150L1142.2 1151.5L1142.8 1151L1143.4 1155.4L1144 1160.6L1144.6 1166.5L1145.2 1172.7L1145.8 1170L1146.4 1163.3L1147 1161.4L1147.6 1158.2L1148.4 1158.8L1149.1 1156.6L1149.8 1161.5L1150.5 1160.7L1151.3 1163.4L1152 1158L1152.7 1162.3L1153.4 1164.3L1154 1162.5L1154.6 1159L1155.2 1157L1155.8 1151L1156.6 1150.5L1157.4 1150.1L1158.2 1148.2L1159 1148.6L1159.8 1146L1160.6 1145.2L1161.3 1139.2L1162.1 1138.9L1162.9 1136.8L1163.6 1132.7L1164.3 1126.6L1165 1124.4L1165.7 1124.2L1166.5 1127L1167.2 1127.1L1167.9 1126.8L1168.7 1129L1169.5 1127.1L1170.3 1122.4L1171.1 1119.6L1171.8 1117.8L1172.6 1114.1L1173.4 1114.1L1174.2 1109.9L1174.8 1110.5L1175.4 1115L1176 1115.1L1176.6 1114.8L1177.2 1111.4L1177.8 1109.1L1178.4 1107.3L1179 1103.9L1179.6 1104.8L1180.2 1108.3L1180.8 1112.1L1181.4 1112.3L1182.1 1112.6L1182.7 1113.2L1183.3 1108.4L1183.9 1107.5L1184.4 1096.5L1185 1087.9L1185.6 1073.7L1186.1 1066L1186.7 1060L1187.2 1056.8L1187.8 1049.3L1188.4 1039.6L1188.9 1030.2L1189.5 1041.4L1190.1 1053.6L1190.6 1066.4L1191.2 1079L1191.8 1091.8L1192.3 1102.7L1192.9 1089.8L1193.4 1082.4L1194 1073.7L1194.7 1066.1L1195.3 1059.8L1195.9 1055.6L1196.6 1059.3L1197.2 1064.6L1197.9 1071.3L1198.6 1074.2L1199.3 1081.4L1200 1083.4L1200.7 1086.2L1201.3 1089.5L1202 1093L1202.7 1097.1L1203.4 1098.3L1204.2 1101.5L1204.8 1093.7L1205.4 1087.6L1206.1 1078.5L1206.7 1079.6L1207.4 1072.6L1208 1072.5L1208.7 1076.3L1209.3 1081L1210 1085.8L1210.7 1088.1L1211.4 1091.1L1212.1 1093L1212.8 1087.1L1213.4 1082.9L1214.1 1078.5L1214.6 1074L1215.2 1071.9L1215.7 1064L1216.3 1076.7L1216.9 1084L1217.4 1090.6L1217.9 1085.7L1218.4 1074.9" fill="none" stroke="#dc3d4e" stroke-width="2.4" stroke-linejoin="round" stroke-linecap="round"/>
<text y="942.5" x="214.05 252.95 291.85 330.75 369.65 408.55 447.45 486.35 525.25" font-size="36.5" font-weight="bold" font-family="Liberation Serif, Noto Serif CJK SC, serif" fill="#000">纳斯达克和原油价格</text>
<path d="M747.8 925.6H804.5" stroke="#90c955" stroke-width="2.2"/>
<text y="933.1" x="811.1 833.3" font-size="21" font-family="Liberation Serif, Noto Serif CJK SC, serif" fill="#111">美国</text><text x="860.4" y="932.6" font-size="20" font-family="Liberation Sans, sans-serif" fill="#111" stroke="#111" stroke-width="0.3" text-anchor="middle">:</text><text y="933.1" x="866.6 888.8 911 933.2 955.4 977.6 999.8 1022" font-size="21" font-family="Liberation Serif, Noto Serif CJK SC, serif" fill="#111">纳斯达克综合指数</text>
<path d="M747.8 967.5H804.5" stroke="#dc3d4e" stroke-width="2.2"/>
<text y="975" x="811.1 833.3 855.5 877.7 899.9" font-size="21" font-family="Liberation Serif, Noto Serif CJK SC, serif" fill="#111">期货收盘价</text><text x="928.5" y="974.5" font-size="20" font-family="Liberation Sans, sans-serif" fill="#111" stroke="#111" stroke-width="0.3" text-anchor="middle">(</text><text y="975" x="933.2 955.4 977.6 999.8" font-size="21" font-family="Liberation Serif, Noto Serif CJK SC, serif" fill="#111">活跃合约</text><text x="1025.5" y="974.5" font-size="20" font-family="Liberation Sans, sans-serif" fill="#111" stroke="#111" stroke-width="0.3" text-anchor="middle">)</text><text x="1038.0" y="974.5" font-size="20" font-family="Liberation Sans, sans-serif" fill="#111" stroke="#111" stroke-width="0.3" text-anchor="middle">:</text><text x="1044.1" y="974.5" font-size="20" font-family="Liberation Sans, sans-serif" fill="#111" stroke="#111" stroke-width="0.35" textLength="54.5" lengthAdjust="spacingAndGlyphs">NYMEX</text><text y="975" x="1099.7 1121.9 1144.1 1166.3" font-size="21" font-family="Liberation Serif, Noto Serif CJK SC, serif" fill="#111">轻质原油</text>
<rect x="1492.0" y="969.1" width="1015.3" height="341.1" fill="#fbfbfb"/><path d="M1492.0 969.1H2507.3M1492.0 1003.2H2507.3M1492.0 1037.3H2507.3M1492.0 1071.4H2507.3M1492.0 1105.5H2507.3M1492.0 1139.7H2507.3M1492.0 1173.8H2507.3M1492.0 1207.9H2507.3M1492.0 1242.0H2507.3M1492.0 1276.1H2507.3M1492.0 1310.2H2507.3M1492.0 969.1V1310.2M1532.1 969.1V1310.2M1572.2 969.1V1310.2M1612.3 969.1V1310.2M1652.4 969.1V1310.2M1692.5 969.1V1310.2M1732.7 969.1V1310.2M1772.8 969.1V1310.2M1812.9 969.1V1310.2M1853.0 969.1V1310.2M1893.1 969.1V1310.2M1933.2 969.1V1310.2M1973.3 969.1V1310.2M2013.4 969.1V1310.2M2053.5 969.1V1310.2M2093.7 969.1V1310.2M2133.8 969.1V1310.2M2173.9 969.1V1310.2M2214.0 969.1V1310.2M2254.1 969.1V1310.2M2294.2 969.1V1310.2M2334.3 969.1V1310.2M2374.4 969.1V1310.2M2414.5 969.1V1310.2M2454.6 969.1V1310.2M2494.8 969.1V1310.2" stroke="#e2e2e2" stroke-width="1.6" fill="none"/><g font-family="Liberation Sans, sans-serif" fill="#111"><text x="1479.9" y="974.4" font-size="15.0" text-anchor="end" textLength="23.7" lengthAdjust="spacing">300</text><text x="1479.9" y="1008.5" font-size="15.0" text-anchor="end" textLength="23.7" lengthAdjust="spacing">280</text><text x="1479.9" y="1042.6" font-size="15.0" text-anchor="end" textLength="23.7" lengthAdjust="spacing">260</text><text x="1479.9" y="1076.7" font-size="15.0" text-anchor="end" textLength="23.7" lengthAdjust="spacing">240</text><text x="1479.9" y="1110.8" font-size="15.0" text-anchor="end" textLength="23.7" lengthAdjust="spacing">220</text><text x="1479.9" y="1144.9" font-size="15.0" text-anchor="end" textLength="23.7" lengthAdjust="spacing">200</text><text x="1479.9" y="1179.0" font-size="15.0" text-anchor="end" textLength="23.7" lengthAdjust="spacing">180</text><text x="1479.9" y="1213.1" font-size="15.0" text-anchor="end" textLength="23.7" lengthAdjust="spacing">160</text><text x="1479.9" y="1247.2" font-size="15.0" text-anchor="end" textLength="23.7" lengthAdjust="spacing">140</text><text x="1479.9" y="1281.3" font-size="15.0" text-anchor="end" textLength="23.7" lengthAdjust="spacing">120</text><text x="1479.9" y="1315.5" font-size="15.0" text-anchor="end" textLength="23.7" lengthAdjust="spacing">100</text><text x="2524.6" y="976.5" font-size="22.5" textLength="35.1" lengthAdjust="spacingAndGlyphs">110</text><text x="2524.6" y="1014.4" font-size="22.5" textLength="35.1" lengthAdjust="spacingAndGlyphs">100</text><text x="2524.6" y="1052.3" font-size="22.5" textLength="23.4" lengthAdjust="spacingAndGlyphs">90</text><text x="2524.6" y="1090.2" font-size="22.5" textLength="23.4" lengthAdjust="spacingAndGlyphs">80</text><text x="2524.6" y="1128.1" font-size="22.5" textLength="23.4" lengthAdjust="spacingAndGlyphs">70</text><text x="2524.6" y="1166.0" font-size="22.5" textLength="23.4" lengthAdjust="spacingAndGlyphs">60</text><text x="2524.6" y="1203.9" font-size="22.5" textLength="23.4" lengthAdjust="spacingAndGlyphs">50</text><text x="2524.6" y="1241.8" font-size="22.5" textLength="23.4" lengthAdjust="spacingAndGlyphs">40</text><text x="2524.6" y="1279.7" font-size="22.5" textLength="23.4" lengthAdjust="spacingAndGlyphs">30</text><text x="2524.6" y="1317.6" font-size="22.5" textLength="23.4" lengthAdjust="spacingAndGlyphs">20</text><text transform="translate(1500.7 1339.2) rotate(-45)" font-size="17.5" text-anchor="end" textLength="74.4">2016/1/1</text><text transform="translate(1540.8 1339.2) rotate(-45)" font-size="17.5" text-anchor="end" textLength="74.4">2016/4/1</text><text transform="translate(1580.9 1339.2) rotate(-45)" font-size="17.5" text-anchor="end" textLength="74.4">2016/7/1</text><text transform="translate(1621.0 1339.2) rotate(-45)" font-size="17.5" text-anchor="end" textLength="83.7">2016/10/1</text><text transform="translate(1661.1 1339.2) rotate(-45)" font-size="17.5" text-anchor="end" textLength="74.4">2017/1/1</text><text transform="translate(1701.2 1339.2) rotate(-45)" font-size="17.5" text-anchor="end" textLength="74.4">2017/4/1</text><text transform="translate(1741.4 1339.2) rotate(-45)" font-size="17.5" text-anchor="end" textLength="74.4">2017/7/1</text><text transform="translate(1781.5 1339.2) rotate(-45)" font-size="17.5" text-anchor="end" textLength="83.7">2017/10/1</text><text transform="translate(1821.6 1339.2) rotate(-45)" font-size="17.5" text-anchor="end" textLength="74.4">2018/1/1</text><text transform="translate(1861.7 1339.2) rotate(-45)" font-size="17.5" text-anchor="end" textLength="74.4">2018/4/1</text><text transform="translate(1901.8 1339.2) rotate(-45)" font-size="17.5" text-anchor="end" textLength="74.4">2018/7/1</text><text transform="translate(1941.9 1339.2) rotate(-45)" font-size="17.5" text-anchor="end" textLength="83.7">2018/10/1</text><text transform="translate(1982.0 1339.2) rotate(-45)" font-size="17.5" text-anchor="end" textLength="74.4">2019/1/1</text><text transform="translate(2022.1 1339.2) rotate(-45)" font-size="17.5" text-anchor="end" textLength="74.4">2019/4/1</text><text transform="translate(2062.2 1339.2) rotate(-45)" font-size="17.5" text-anchor="end" textLength="74.4">2019/7/1</text><text transform="translate(2102.3 1339.2) rotate(-45)" font-size="17.5" text-anchor="end" textLength="83.7">2019/10/1</text><text transform="translate(2142.5 1339.2) rotate(-45)" font-size="17.5" text-anchor="end" textLength="74.4">2020/1/1</text><text transform="translate(2182.6 1339.2) rotate(-45)" font-size="17.5" text-anchor="end" textLength="74.4">2020/4/1</text><text transform="translate(2222.7 1339.2) rotate(-45)" font-size="17.5" text-anchor="end" textLength="74.4">2020/7/1</text><text transform="translate(2262.8 1339.2) rotate(-45)" font-size="17.5" text-anchor="end" textLength="83.7">2020/10/1</text><text transform="translate(2302.9 1339.2) rotate(-45)" font-size="17.5" text-anchor="end" textLength="74.4">2021/1/1</text><text transform="translate(2343.0 1339.2) rotate(-45)" font-size="17.5" text-anchor="end" textLength="74.4">2021/4/1</text><text transform="translate(2383.1 1339.2) rotate(-45)" font-size="17.5" text-anchor="end" textLength="74.4">2021/7/1</text><text transform="translate(2423.2 1339.2) rotate(-45)" font-size="17.5" text-anchor="end" textLength="83.7">2021/10/1</text><text transform="translate(2463.3 1339.2) rotate(-45)" font-size="17.5" text-anchor="end" textLength="74.4">2022/1/1</text><text transform="translate(2503.4 1339.2) rotate(-45)" font-size="17.5" text-anchor="end" textLength="74.4">2022/4/1</text></g><path d="M1498.7 1268.9L1512.1 1264L1525.4 1233.1L1538.8 1212.6L1552.2 1236.3L1565.5 1227.6L1578.9 1238.4L1592.3 1232.4L1605.6 1225.9L1619 1224.7L1632.4 1210.9L1645.8 1172.2L1659.1 1167.9L1672.5 1191.6L1685.9 1192.1L1699.2 1190.4L1712.6 1205.3L1726 1216.7L1739.3 1221L1752.7 1210.2L1766.1 1194L1779.5 1194L1792.8 1193.3L1806.2 1184.8L1819.6 1145.7L1832.9 1145L1846.3 1149.1L1859.7 1158.2L1873 1151.5L1886.4 1149.1L1899.8 1134.1L1913.2 1141.3L1926.5 1104.6L1939.9 1131.7L1953.3 1134.1L1966.6 1147.4L1980 1113.6L1993.4 1124.4L2006.7 1120.8L2020.1 1106.3L2033.5 1089.4L2046.9 1066L2060.2 1078.5L2073.6 1102.7L2087 1080.5L2100.3 1041.1L2113.7 1042.3L2127.1 1012.8L2140.4 1039.4L2153.8 1122L2167.2 1206.1L2180.6 1180L2193.9 1153.9L2207.3 1158.7L2220.7 1173.9L2234 1173.5L2247.4 1202.9L2260.8 1233.1L2274.1 1173.2L2287.5 1155.1L2300.9 1155.3L2314.3 1141.8L2327.6 1114.8L2341 1135.3L2354.4 1109.9L2367.7 1078L2381.1 1099.1L2394.5 1091.3L2407.8 1045.2L2421.2 1039.2L2434.6 1089.9L2448 1074.9L2461.3 1102.2L2474.7 1223L2488.1 1197.4L2501.4 1183.1" fill="none" stroke="#90c955" stroke-width="2.0" stroke-linejoin="round" stroke-linecap="round"/><path d="M1498.7 1245.7L1512.1 1257.8L1525.4 1240.8L1538.8 1220.6L1552.2 1200.5L1565.5 1202.2L1578.9 1207.8L1592.3 1215.7L1605.6 1203.6L1619 1208.5L1632.4 1199.8L1645.8 1177.6L1659.1 1185.3L1672.5 1181.2L1685.9 1192.8L1699.2 1175.1L1712.6 1201.7L1726 1210.7L1739.3 1195.7L1752.7 1207.3L1766.1 1176.4L1779.5 1178.8L1792.8 1167.9L1806.2 1158.7L1819.6 1139.6L1832.9 1152.2L1846.3 1247.1L1859.7 1125.6L1873 1131.2L1886.4 1108L1899.8 1126.4L1913.2 1120.8L1926.5 1130.5L1939.9 1140.1L1953.3 1193.3L1966.6 1212.6L1980 1181.2L1993.4 1169.1L2006.7 1157L2020.1 1145L2033.5 1184.1L2046.9 1165L2060.2 1166.2L2073.6 1173.2L2087 1180L2100.3 1180.7L2113.7 1175.9L2127.1 1153.9L2140.4 1190.1L2153.8 1210.9L2167.2 1309.9L2180.6 1302.7L2193.9 1268.1L2207.3 1235L2220.7 1232.6L2234 1223.9L2247.4 1234.3L2260.8 1244L2274.1 1215L2287.5 1201.7L2300.9 1188.4L2314.3 1184.3L2327.6 1159.4L2341 1145L2354.4 1132.9L2367.7 1107.5L2381.1 1111.6L2394.5 1126.1L2407.8 1101.5L2421.2 1116.7L2434.6 1131.7L2448 1098.6L2461.3 1051.2L2474.7 1022.5L2488.1 1001.7" fill="none" stroke="#dc3d4e" stroke-width="2.0" stroke-linejoin="round" stroke-linecap="round"/>
<text y="931" x="1484.25 1523.15 1562.05" font-size="36.5" font-weight="bold" font-family="Liberation Serif, Noto Serif CJK SC, serif" fill="#000">俄罗斯</text>
<text x="1599.5" y="930.5" font-size="36" font-weight="bold" font-family="Liberation Sans, sans-serif" textLength="57" lengthAdjust="spacingAndGlyphs">RTS</text>
<text y="931" x="1661.15 1700.05 1738.95 1777.85 1816.75 1855.65 1894.55" font-size="36.5" font-weight="bold" font-family="Liberation Serif, Noto Serif CJK SC, serif" fill="#000">指数和原油价格</text>
<path d="M2057.0 913.2H2113.7" stroke="#90c955" stroke-width="2.2"/>
<text y="920.7" x="2120.2 2142.4 2164.6" font-size="21" font-family="Liberation Serif, Noto Serif CJK SC, serif" fill="#111">俄罗斯</text><text x="2191.8" y="920.2" font-size="20" font-family="Liberation Sans, sans-serif" fill="#111" stroke="#111" stroke-width="0.3" text-anchor="middle">:</text><text x="2197.8" y="920.2" font-size="20" font-family="Liberation Sans, sans-serif" fill="#111" stroke="#111" stroke-width="0.35" textLength="32.3" lengthAdjust="spacingAndGlyphs">RTS</text><text y="920.7" x="2231.2 2253.4" font-size="21" font-family="Liberation Serif, Noto Serif CJK SC, serif" fill="#111">指数</text><text x="2280.6" y="920.2" font-size="20" font-family="Liberation Sans, sans-serif" fill="#111" stroke="#111" stroke-width="0.3" text-anchor="middle">:</text><text y="920.7" x="2286.7 2308.9 2331.1 2353.3 2375.5 2397.7" font-size="21" font-family="Liberation Serif, Noto Serif CJK SC, serif" fill="#111">石油和天然气</text>
<path d="M2057.0 958.7H2113.7" stroke="#dc3d4e" stroke-width="2.2"/>
<text y="966.2" x="2120.2 2142.4 2164.6 2186.8 2209" font-size="21" font-family="Liberation Serif, Noto Serif CJK SC, serif" fill="#111">期货收盘价</text><text x="2237.7" y="965.7" font-size="20" font-family="Liberation Sans, sans-serif" fill="#111" stroke="#111" stroke-width="0.3" text-anchor="middle">(</text><text y="966.2" x="2242.3 2264.5 2286.7 2308.9" font-size="21" font-family="Liberation Serif, Noto Serif CJK SC, serif" fill="#111">活跃合约</text><text x="2334.6" y="965.7" font-size="20" font-family="Liberation Sans, sans-serif" fill="#111" stroke="#111" stroke-width="0.3" text-anchor="middle">)</text><text x="2347.2" y="965.7" font-size="20" font-family="Liberation Sans, sans-serif" fill="#111" stroke="#111" stroke-width="0.3" text-anchor="middle">:</text><text x="2353.2" y="965.7" font-size="20" font-family="Liberation Sans, sans-serif" fill="#111" stroke="#111" stroke-width="0.35" textLength="54.5" lengthAdjust="spacingAndGlyphs">NYMEX</text><text y="966.2" x="2408.8 2431 2453.2 2475.4" font-size="21" font-family="Liberation Serif, Noto Serif CJK SC, serif" fill="#111">轻质原油</text>
</svg>
<h2 class="t" style="left:70px;top:84px;font-size:66px">金融属性-大类资产</h2>
<h1 class="t" style="left:770px;top:75px;font-size:66px">美国三大股指回调，原油价格震荡</h1>
<div class="t" style="left:2408px;top:78px;font-size:40px">三立期货</div>
<h3 class="t" style="left:211px;top:264px;font-size:38px">道琼斯工业指数和原油价格</h3>
<div class="t" style="left:822px;top:283px;font-size:22px">美国:道琼斯工业平均指数</div>
<div class="t" style="left:822px;top:333px;font-size:22px">期货收盘价(活跃合约):NYMEX轻质原油</div>
<h3 class="t" style="left:1503px;top:266px;font-size:38px">标准普尔和原油价格</h3>
<div class="t" style="left:2068px;top:254px;font-size:22px">美国:标准普尔500指数</div>
<div class="t" style="left:2068px;top:305px;font-size:22px">期货收盘价(活跃合约):NYMEX轻质原油</div>
<h3 class="t" style="left:213px;top:910px;font-size:38px">纳斯达克和原油价格</h3>
<div class="t" style="left:812px;top:915px;font-size:22px">美国:纳斯达克综合指数</div>
<div class="t" style="left:812px;top:957px;font-size:22px">期货收盘价(活跃合约):NYMEX轻质原油</div>
<h3 class="t" style="left:1483px;top:899px;font-size:38px">俄罗斯RTS指数和原油价格</h3>
<div class="t" style="left:2121px;top:903px;font-size:22px">俄罗斯:RTS指数:石油和天然气</div>
<div class="t" style="left:2121px;top:948px;font-size:22px">期货收盘价(活跃合约):NYMEX轻质原油</div>
</body></html>
